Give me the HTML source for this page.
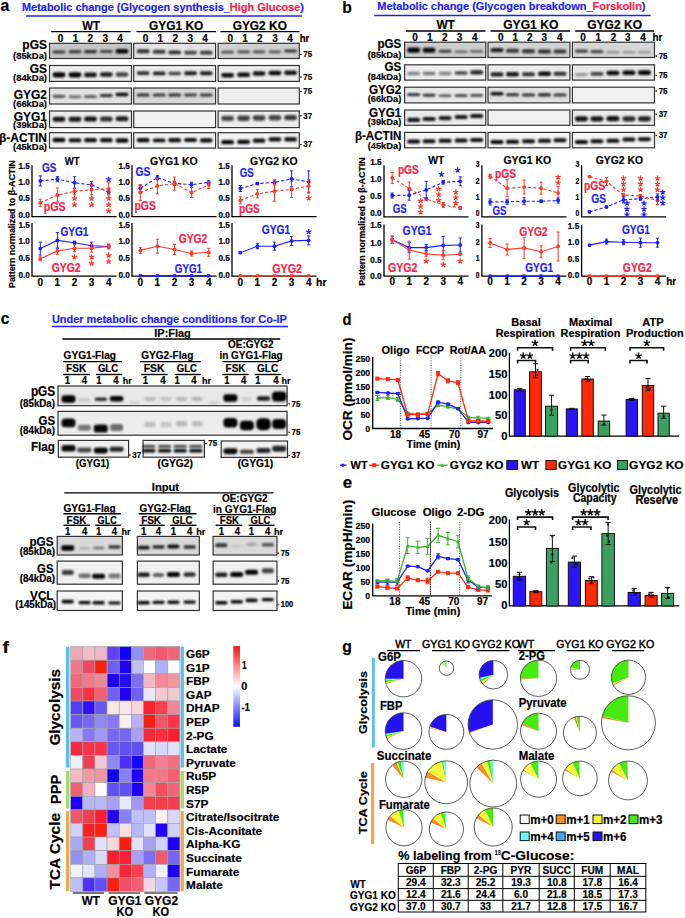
<!DOCTYPE html>
<html><head><meta charset="utf-8"><style>
html,body{margin:0;padding:0;background:#fff;}
svg{display:block;font-family:"Liberation Sans",sans-serif;font-weight:bold;}
text{stroke-width:0.2px;}
</style></head><body>
<svg width="685" height="918" viewBox="0 0 685 918">
<defs>
<filter id="bl" x="-30%" y="-80%" width="160%" height="260%"><feGaussianBlur stdDeviation="0.8"/></filter>
<filter id="bl2" x="-30%" y="-80%" width="160%" height="260%"><feGaussianBlur stdDeviation="1.0"/></filter>
</defs>
<rect width="685" height="918" fill="#fff"/>
<text x="0.60" y="10.80" font-size="16.51" textLength="8.80" lengthAdjust="spacingAndGlyphs" stroke="#000">a</text>
<text x="22" y="11.2" font-size="11.7" textLength="282" lengthAdjust="spacingAndGlyphs" fill="#1f1ff5" stroke="#1f1ff5">Metabolic change (Glycogen synthesis_<tspan fill="#f8234a" stroke="#f8234a">High Glucose</tspan>)</text>
<line x1="26.00" y1="16.10" x2="302.00" y2="16.10" stroke="#1f1ff5" stroke-width="1.5"/>
<text x="82.30" y="29.60" font-size="12.54" textLength="17.60" lengthAdjust="spacingAndGlyphs" stroke="#000">WT</text>
<text x="149.00" y="29.60" font-size="12.54" textLength="54.40" lengthAdjust="spacingAndGlyphs" stroke="#000">GYG1 KO</text>
<text x="232.70" y="29.60" font-size="12.54" textLength="54.20" lengthAdjust="spacingAndGlyphs" stroke="#000">GYG2 KO</text>
<line x1="51.20" y1="31.70" x2="130.70" y2="31.70" stroke="#000" stroke-width="1.3"/>
<line x1="136.40" y1="31.70" x2="216.00" y2="31.70" stroke="#000" stroke-width="1.3"/>
<line x1="220.40" y1="31.70" x2="299.50" y2="31.70" stroke="#000" stroke-width="1.3"/>
<text x="60.60" y="42.20" font-size="10.45" text-anchor="middle" textLength="5.56" lengthAdjust="spacingAndGlyphs" stroke="#000">0</text>
<text x="75.50" y="42.20" font-size="10.45" text-anchor="middle" textLength="5.56" lengthAdjust="spacingAndGlyphs" stroke="#000">1</text>
<text x="90.40" y="42.20" font-size="10.45" text-anchor="middle" textLength="5.56" lengthAdjust="spacingAndGlyphs" stroke="#000">2</text>
<text x="105.30" y="42.20" font-size="10.45" text-anchor="middle" textLength="5.56" lengthAdjust="spacingAndGlyphs" stroke="#000">3</text>
<text x="120.10" y="42.20" font-size="10.45" text-anchor="middle" textLength="5.56" lengthAdjust="spacingAndGlyphs" stroke="#000">4</text>
<text x="145.50" y="42.20" font-size="10.45" text-anchor="middle" textLength="5.56" lengthAdjust="spacingAndGlyphs" stroke="#000">0</text>
<text x="160.40" y="42.20" font-size="10.45" text-anchor="middle" textLength="5.56" lengthAdjust="spacingAndGlyphs" stroke="#000">1</text>
<text x="175.30" y="42.20" font-size="10.45" text-anchor="middle" textLength="5.56" lengthAdjust="spacingAndGlyphs" stroke="#000">2</text>
<text x="190.20" y="42.20" font-size="10.45" text-anchor="middle" textLength="5.56" lengthAdjust="spacingAndGlyphs" stroke="#000">3</text>
<text x="205.10" y="42.20" font-size="10.45" text-anchor="middle" textLength="5.56" lengthAdjust="spacingAndGlyphs" stroke="#000">4</text>
<text x="230.20" y="42.20" font-size="10.45" text-anchor="middle" textLength="5.56" lengthAdjust="spacingAndGlyphs" stroke="#000">0</text>
<text x="245.00" y="42.20" font-size="10.45" text-anchor="middle" textLength="5.56" lengthAdjust="spacingAndGlyphs" stroke="#000">1</text>
<text x="259.90" y="42.20" font-size="10.45" text-anchor="middle" textLength="5.56" lengthAdjust="spacingAndGlyphs" stroke="#000">2</text>
<text x="275.00" y="42.20" font-size="10.45" text-anchor="middle" textLength="5.56" lengthAdjust="spacingAndGlyphs" stroke="#000">3</text>
<text x="290.00" y="42.20" font-size="10.45" text-anchor="middle" textLength="5.56" lengthAdjust="spacingAndGlyphs" stroke="#000">4</text>
<text x="299.70" y="42.20" font-size="10.45" textLength="9.60" lengthAdjust="spacingAndGlyphs" stroke="#000">hr</text>
<text x="47.00" y="49.20" font-size="12.54" text-anchor="end" textLength="24.67" lengthAdjust="spacingAndGlyphs" stroke="#000">pGS</text>
<text x="47.00" y="58.60" font-size="9.82" text-anchor="end" textLength="33.96" lengthAdjust="spacingAndGlyphs" stroke="#000">(85kDa)</text>
<text x="47.00" y="72.80" font-size="12.54" text-anchor="end" textLength="17.34" lengthAdjust="spacingAndGlyphs" stroke="#000">GS</text>
<text x="47.00" y="81.20" font-size="9.82" text-anchor="end" textLength="33.96" lengthAdjust="spacingAndGlyphs" stroke="#000">(84kDa)</text>
<text x="47.00" y="99.40" font-size="12.54" text-anchor="end" textLength="33.35" lengthAdjust="spacingAndGlyphs" stroke="#000">GYG2</text>
<text x="47.00" y="106.80" font-size="9.82" text-anchor="end" textLength="33.96" lengthAdjust="spacingAndGlyphs" stroke="#000">(66kDa)</text>
<text x="47.00" y="120.90" font-size="12.54" text-anchor="end" textLength="33.35" lengthAdjust="spacingAndGlyphs" stroke="#000">GYG1</text>
<text x="47.00" y="128.40" font-size="9.82" text-anchor="end" textLength="33.96" lengthAdjust="spacingAndGlyphs" stroke="#000">(39kDa)</text>
<text x="47.00" y="142.30" font-size="12.54" text-anchor="end" textLength="47.98" lengthAdjust="spacingAndGlyphs" stroke="#000">β-ACTIN</text>
<text x="47.00" y="149.80" font-size="9.82" text-anchor="end" textLength="33.96" lengthAdjust="spacingAndGlyphs" stroke="#000">(45kDa)</text>
<rect x="49.50" y="43.30" width="82.00" height="15.20" fill="#c6c6c6" stroke="#333" stroke-width="1.2"/>
<rect x="52.70" y="50.49" width="12.60" height="3.02" rx="1.21" fill="#000" fill-opacity="0.72" filter="url(#bl)"/>
<rect x="68.70" y="50.29" width="12.60" height="3.02" rx="1.21" fill="#000" fill-opacity="0.75" filter="url(#bl)"/>
<rect x="84.20" y="49.98" width="12.60" height="3.24" rx="1.30" fill="#000" fill-opacity="0.78" filter="url(#bl)"/>
<rect x="100.00" y="50.09" width="12.60" height="3.02" rx="1.21" fill="#000" fill-opacity="0.68" filter="url(#bl)"/>
<rect x="115.70" y="48.93" width="12.60" height="4.54" rx="1.81" fill="#000" fill-opacity="0.97" filter="url(#bl)"/>
<rect x="133.70" y="43.30" width="81.90" height="15.20" fill="#e4e4e4" stroke="#333" stroke-width="1.2"/>
<rect x="136.90" y="49.36" width="12.60" height="3.89" rx="1.56" fill="#000" fill-opacity="0.80" filter="url(#bl)"/>
<rect x="152.90" y="49.86" width="12.60" height="3.89" rx="1.56" fill="#000" fill-opacity="0.75" filter="url(#bl)"/>
<rect x="168.40" y="50.46" width="12.60" height="3.89" rx="1.56" fill="#000" fill-opacity="0.80" filter="url(#bl)"/>
<rect x="184.20" y="50.76" width="12.60" height="3.67" rx="1.47" fill="#000" fill-opacity="0.70" filter="url(#bl)"/>
<rect x="199.90" y="50.66" width="12.60" height="3.89" rx="1.56" fill="#000" fill-opacity="0.75" filter="url(#bl)"/>
<rect x="218.10" y="43.30" width="81.20" height="15.20" fill="#d0d0d0" stroke="#333" stroke-width="1.2"/>
<rect x="221.30" y="50.80" width="12.60" height="2.81" rx="1.12" fill="#000" fill-opacity="0.62" filter="url(#bl)"/>
<rect x="237.30" y="50.40" width="12.60" height="2.81" rx="1.12" fill="#000" fill-opacity="0.66" filter="url(#bl)"/>
<rect x="252.80" y="50.40" width="12.60" height="2.81" rx="1.12" fill="#000" fill-opacity="0.66" filter="url(#bl)"/>
<rect x="268.60" y="50.40" width="12.60" height="2.81" rx="1.12" fill="#000" fill-opacity="0.60" filter="url(#bl)"/>
<rect x="284.30" y="49.39" width="12.60" height="3.02" rx="1.21" fill="#000" fill-opacity="0.75" filter="url(#bl)"/>
<rect x="49.50" y="65.50" width="82.00" height="15.90" fill="#ececec" stroke="#333" stroke-width="1.2"/>
<rect x="52.70" y="72.21" width="12.60" height="5.18" rx="2.07" fill="#000" fill-opacity="0.98" filter="url(#bl)"/>
<rect x="68.70" y="72.21" width="12.60" height="5.18" rx="2.07" fill="#000" fill-opacity="0.98" filter="url(#bl)"/>
<rect x="84.20" y="72.42" width="12.60" height="4.75" rx="1.90" fill="#000" fill-opacity="0.90" filter="url(#bl)"/>
<rect x="100.00" y="72.33" width="12.60" height="4.54" rx="1.81" fill="#000" fill-opacity="0.88" filter="url(#bl)"/>
<rect x="115.70" y="72.13" width="12.60" height="4.54" rx="1.81" fill="#000" fill-opacity="0.72" filter="url(#bl)"/>
<rect x="133.70" y="65.50" width="81.90" height="15.90" fill="#ececec" stroke="#333" stroke-width="1.2"/>
<rect x="136.90" y="71.36" width="12.60" height="3.67" rx="1.47" fill="#000" fill-opacity="0.80" filter="url(#bl)"/>
<rect x="152.90" y="71.46" width="12.60" height="3.89" rx="1.56" fill="#000" fill-opacity="0.85" filter="url(#bl)"/>
<rect x="168.40" y="71.67" width="12.60" height="3.46" rx="1.38" fill="#000" fill-opacity="0.72" filter="url(#bl)"/>
<rect x="184.20" y="71.26" width="12.60" height="3.89" rx="1.56" fill="#000" fill-opacity="0.88" filter="url(#bl)"/>
<rect x="199.90" y="71.26" width="12.60" height="3.89" rx="1.56" fill="#000" fill-opacity="0.88" filter="url(#bl)"/>
<rect x="218.10" y="65.50" width="81.20" height="15.90" fill="#ececec" stroke="#333" stroke-width="1.2"/>
<rect x="221.30" y="73.03" width="12.60" height="4.54" rx="1.81" fill="#000" fill-opacity="0.95" filter="url(#bl)"/>
<rect x="237.30" y="72.53" width="12.60" height="4.54" rx="1.81" fill="#000" fill-opacity="0.95" filter="url(#bl)"/>
<rect x="252.80" y="71.13" width="12.60" height="4.54" rx="1.81" fill="#000" fill-opacity="0.92" filter="url(#bl)"/>
<rect x="268.60" y="70.73" width="12.60" height="4.54" rx="1.81" fill="#000" fill-opacity="0.95" filter="url(#bl)"/>
<rect x="284.30" y="70.53" width="12.60" height="4.54" rx="1.81" fill="#000" fill-opacity="0.92" filter="url(#bl)"/>
<rect x="49.50" y="88.00" width="82.00" height="16.00" fill="#e2e2e2" stroke="#333" stroke-width="1.2"/>
<rect x="52.70" y="94.90" width="12.60" height="2.81" rx="1.12" fill="#000" fill-opacity="0.70" filter="url(#bl)"/>
<rect x="68.70" y="95.40" width="12.60" height="2.81" rx="1.12" fill="#000" fill-opacity="0.55" filter="url(#bl)"/>
<rect x="84.20" y="95.20" width="12.60" height="2.81" rx="1.12" fill="#000" fill-opacity="0.65" filter="url(#bl)"/>
<rect x="100.00" y="94.09" width="12.60" height="3.02" rx="1.21" fill="#000" fill-opacity="0.80" filter="url(#bl)"/>
<rect x="115.70" y="92.87" width="12.60" height="3.46" rx="1.38" fill="#000" fill-opacity="0.95" filter="url(#bl)"/>
<rect x="133.70" y="88.00" width="81.90" height="16.00" fill="#d8d8d8" stroke="#333" stroke-width="1.2"/>
<rect x="136.90" y="93.39" width="12.60" height="3.02" rx="1.21" fill="#000" fill-opacity="0.80" filter="url(#bl)"/>
<rect x="152.90" y="93.59" width="12.60" height="3.02" rx="1.21" fill="#000" fill-opacity="0.75" filter="url(#bl)"/>
<rect x="168.40" y="93.39" width="12.60" height="3.02" rx="1.21" fill="#000" fill-opacity="0.80" filter="url(#bl)"/>
<rect x="184.20" y="93.59" width="12.60" height="3.02" rx="1.21" fill="#000" fill-opacity="0.72" filter="url(#bl)"/>
<rect x="199.90" y="93.59" width="12.60" height="3.02" rx="1.21" fill="#000" fill-opacity="0.75" filter="url(#bl)"/>
<rect x="218.10" y="88.00" width="81.20" height="16.00" fill="#f0f0f0" stroke="#333" stroke-width="1.2"/>
<rect x="49.50" y="111.00" width="82.00" height="16.60" fill="#ececec" stroke="#333" stroke-width="1.2"/>
<rect x="52.70" y="116.72" width="12.60" height="4.97" rx="1.99" fill="#000" fill-opacity="0.92" filter="url(#bl)"/>
<rect x="68.70" y="116.72" width="12.60" height="4.97" rx="1.99" fill="#000" fill-opacity="0.90" filter="url(#bl)"/>
<rect x="84.20" y="116.52" width="12.60" height="4.97" rx="1.99" fill="#000" fill-opacity="0.92" filter="url(#bl)"/>
<rect x="100.00" y="116.52" width="12.60" height="4.97" rx="1.99" fill="#000" fill-opacity="0.80" filter="url(#bl)"/>
<rect x="115.70" y="116.32" width="12.60" height="4.97" rx="1.99" fill="#000" fill-opacity="0.88" filter="url(#bl)"/>
<rect x="133.70" y="111.00" width="81.90" height="16.60" fill="#f2f2f2" stroke="#333" stroke-width="1.2"/>
<rect x="218.10" y="111.00" width="81.20" height="16.60" fill="#ececec" stroke="#333" stroke-width="1.2"/>
<rect x="221.30" y="115.70" width="12.60" height="5.40" rx="2.16" fill="#000" fill-opacity="0.70" filter="url(#bl)"/>
<rect x="237.30" y="115.50" width="12.60" height="5.40" rx="2.16" fill="#000" fill-opacity="0.72" filter="url(#bl)"/>
<rect x="252.80" y="115.30" width="12.60" height="5.40" rx="2.16" fill="#000" fill-opacity="0.72" filter="url(#bl)"/>
<rect x="268.60" y="115.10" width="12.60" height="5.40" rx="2.16" fill="#000" fill-opacity="0.70" filter="url(#bl)"/>
<rect x="284.30" y="114.90" width="12.60" height="5.40" rx="2.16" fill="#000" fill-opacity="0.75" filter="url(#bl)"/>
<rect x="49.50" y="132.70" width="82.00" height="15.40" fill="#f4f4f4" stroke="#333" stroke-width="1.2"/>
<rect x="52.70" y="137.84" width="12.60" height="4.32" rx="1.73" fill="#000" fill-opacity="0.97" filter="url(#bl)"/>
<rect x="68.70" y="138.36" width="12.60" height="3.89" rx="1.56" fill="#000" fill-opacity="0.95" filter="url(#bl)"/>
<rect x="84.20" y="138.04" width="12.60" height="4.32" rx="1.73" fill="#000" fill-opacity="0.95" filter="url(#bl)"/>
<rect x="100.00" y="138.04" width="12.60" height="4.32" rx="1.73" fill="#000" fill-opacity="0.95" filter="url(#bl)"/>
<rect x="115.70" y="138.34" width="12.60" height="4.32" rx="1.73" fill="#000" fill-opacity="0.97" filter="url(#bl)"/>
<rect x="133.70" y="132.70" width="81.90" height="15.40" fill="#f4f4f4" stroke="#333" stroke-width="1.2"/>
<rect x="136.90" y="138.04" width="12.60" height="4.32" rx="1.73" fill="#000" fill-opacity="0.97" filter="url(#bl)"/>
<rect x="152.90" y="138.46" width="12.60" height="3.89" rx="1.56" fill="#000" fill-opacity="0.95" filter="url(#bl)"/>
<rect x="168.40" y="138.04" width="12.60" height="4.32" rx="1.73" fill="#000" fill-opacity="0.95" filter="url(#bl)"/>
<rect x="184.20" y="137.95" width="12.60" height="4.10" rx="1.64" fill="#000" fill-opacity="0.95" filter="url(#bl)"/>
<rect x="199.90" y="138.24" width="12.60" height="4.32" rx="1.73" fill="#000" fill-opacity="0.95" filter="url(#bl)"/>
<rect x="218.10" y="132.70" width="81.20" height="15.40" fill="#f4f4f4" stroke="#333" stroke-width="1.2"/>
<rect x="221.30" y="140.04" width="12.60" height="4.32" rx="1.73" fill="#000" fill-opacity="0.97" filter="url(#bl)"/>
<rect x="237.30" y="139.64" width="12.60" height="4.32" rx="1.73" fill="#000" fill-opacity="0.97" filter="url(#bl)"/>
<rect x="252.80" y="138.44" width="12.60" height="4.32" rx="1.73" fill="#000" fill-opacity="0.95" filter="url(#bl)"/>
<rect x="268.60" y="137.24" width="12.60" height="4.32" rx="1.73" fill="#000" fill-opacity="0.95" filter="url(#bl)"/>
<rect x="284.30" y="137.35" width="12.60" height="4.10" rx="1.64" fill="#000" fill-opacity="0.95" filter="url(#bl)"/>
<rect x="300.20" y="53.80" width="1.4" height="1.3" fill="#000"/>
<text x="303.30" y="57.29" font-size="8.15" textLength="8.80" lengthAdjust="spacingAndGlyphs" stroke="#000">75</text>
<rect x="300.20" y="76.40" width="1.4" height="1.3" fill="#000"/>
<text x="303.30" y="79.89" font-size="8.15" textLength="8.80" lengthAdjust="spacingAndGlyphs" stroke="#000">75</text>
<rect x="300.20" y="90.80" width="1.4" height="1.3" fill="#000"/>
<text x="303.30" y="94.29" font-size="8.15" textLength="8.80" lengthAdjust="spacingAndGlyphs" stroke="#000">75</text>
<rect x="300.20" y="115.20" width="1.4" height="1.3" fill="#000"/>
<text x="303.30" y="118.69" font-size="8.15" textLength="8.80" lengthAdjust="spacingAndGlyphs" stroke="#000">37</text>
<rect x="300.20" y="144.00" width="1.4" height="1.3" fill="#000"/>
<text x="303.30" y="147.49" font-size="8.15" textLength="8.80" lengthAdjust="spacingAndGlyphs" stroke="#000">37</text>
<text stroke="#000" transform="translate(14.6,288) rotate(-90)" font-size="9" textLength="128" lengthAdjust="spacingAndGlyphs">Pattern normalized to β-ACTIN</text>
<text x="64.80" y="165.00" font-size="11.49" textLength="14.90" lengthAdjust="spacingAndGlyphs" stroke="#000">WT</text>
<text x="150.00" y="165.00" font-size="11.49" textLength="47.60" lengthAdjust="spacingAndGlyphs" stroke="#000">GYG1 KO</text>
<text x="250.00" y="165.00" font-size="11.49" textLength="47.60" lengthAdjust="spacingAndGlyphs" stroke="#000">GYG2 KO</text>
<line x1="32.00" y1="165.20" x2="32.00" y2="216.60" stroke="#000" stroke-width="1.3"/>
<line x1="31.40" y1="216.60" x2="116.50" y2="216.60" stroke="#000" stroke-width="1.3"/>
<text x="29.80" y="168.90" font-size="8.57" text-anchor="end" textLength="11.40" lengthAdjust="spacingAndGlyphs" stroke="#000">1.5</text>
<text x="29.80" y="185.00" font-size="8.57" text-anchor="end" textLength="11.40" lengthAdjust="spacingAndGlyphs" stroke="#000">1.0</text>
<text x="29.80" y="201.40" font-size="8.57" text-anchor="end" textLength="11.40" lengthAdjust="spacingAndGlyphs" stroke="#000">0.5</text>
<text x="29.80" y="218.00" font-size="8.57" text-anchor="end" textLength="11.40" lengthAdjust="spacingAndGlyphs" stroke="#000">0.0</text>
<line x1="132.00" y1="165.20" x2="132.00" y2="216.60" stroke="#000" stroke-width="1.3"/>
<line x1="131.40" y1="216.60" x2="216.50" y2="216.60" stroke="#000" stroke-width="1.3"/>
<text x="129.80" y="168.90" font-size="8.57" text-anchor="end" textLength="11.40" lengthAdjust="spacingAndGlyphs" stroke="#000">1.5</text>
<text x="129.80" y="185.00" font-size="8.57" text-anchor="end" textLength="11.40" lengthAdjust="spacingAndGlyphs" stroke="#000">1.0</text>
<text x="129.80" y="201.40" font-size="8.57" text-anchor="end" textLength="11.40" lengthAdjust="spacingAndGlyphs" stroke="#000">0.5</text>
<text x="129.80" y="218.00" font-size="8.57" text-anchor="end" textLength="11.40" lengthAdjust="spacingAndGlyphs" stroke="#000">0.0</text>
<line x1="232.00" y1="165.20" x2="232.00" y2="216.60" stroke="#000" stroke-width="1.3"/>
<line x1="231.40" y1="216.60" x2="316.50" y2="216.60" stroke="#000" stroke-width="1.3"/>
<text x="229.80" y="168.90" font-size="8.57" text-anchor="end" textLength="11.40" lengthAdjust="spacingAndGlyphs" stroke="#000">1.5</text>
<text x="229.80" y="185.00" font-size="8.57" text-anchor="end" textLength="11.40" lengthAdjust="spacingAndGlyphs" stroke="#000">1.0</text>
<text x="229.80" y="201.40" font-size="8.57" text-anchor="end" textLength="11.40" lengthAdjust="spacingAndGlyphs" stroke="#000">0.5</text>
<text x="229.80" y="218.00" font-size="8.57" text-anchor="end" textLength="11.40" lengthAdjust="spacingAndGlyphs" stroke="#000">0.0</text>
<line x1="32.00" y1="223.00" x2="32.00" y2="276.20" stroke="#000" stroke-width="1.3"/>
<line x1="31.40" y1="276.20" x2="116.50" y2="276.20" stroke="#000" stroke-width="1.3"/>
<text x="29.80" y="227.60" font-size="8.57" text-anchor="end" textLength="11.40" lengthAdjust="spacingAndGlyphs" stroke="#000">1.5</text>
<text x="29.80" y="244.40" font-size="8.57" text-anchor="end" textLength="11.40" lengthAdjust="spacingAndGlyphs" stroke="#000">1.0</text>
<text x="29.80" y="261.10" font-size="8.57" text-anchor="end" textLength="11.40" lengthAdjust="spacingAndGlyphs" stroke="#000">0.5</text>
<text x="29.80" y="277.80" font-size="8.57" text-anchor="end" textLength="11.40" lengthAdjust="spacingAndGlyphs" stroke="#000">0.0</text>
<line x1="132.00" y1="223.00" x2="132.00" y2="276.20" stroke="#000" stroke-width="1.3"/>
<line x1="131.40" y1="276.20" x2="216.50" y2="276.20" stroke="#000" stroke-width="1.3"/>
<text x="129.80" y="227.60" font-size="8.57" text-anchor="end" textLength="11.40" lengthAdjust="spacingAndGlyphs" stroke="#000">1.5</text>
<text x="129.80" y="244.40" font-size="8.57" text-anchor="end" textLength="11.40" lengthAdjust="spacingAndGlyphs" stroke="#000">1.0</text>
<text x="129.80" y="261.10" font-size="8.57" text-anchor="end" textLength="11.40" lengthAdjust="spacingAndGlyphs" stroke="#000">0.5</text>
<text x="129.80" y="277.80" font-size="8.57" text-anchor="end" textLength="11.40" lengthAdjust="spacingAndGlyphs" stroke="#000">0.0</text>
<line x1="232.00" y1="223.00" x2="232.00" y2="276.20" stroke="#000" stroke-width="1.3"/>
<line x1="231.40" y1="276.20" x2="316.50" y2="276.20" stroke="#000" stroke-width="1.3"/>
<text x="229.80" y="227.60" font-size="8.57" text-anchor="end" textLength="11.40" lengthAdjust="spacingAndGlyphs" stroke="#000">1.5</text>
<text x="229.80" y="244.40" font-size="8.57" text-anchor="end" textLength="11.40" lengthAdjust="spacingAndGlyphs" stroke="#000">1.0</text>
<text x="229.80" y="261.10" font-size="8.57" text-anchor="end" textLength="11.40" lengthAdjust="spacingAndGlyphs" stroke="#000">0.5</text>
<text x="229.80" y="277.80" font-size="8.57" text-anchor="end" textLength="11.40" lengthAdjust="spacingAndGlyphs" stroke="#000">0.0</text>
<polyline points="40.30,180.90 57.40,179.20 74.50,182.70 91.60,185.00 108.70,192.00" fill="none" stroke="#1e1eff" stroke-width="1.1" stroke-dasharray="3.2,2"/>
<line x1="40.30" y1="175.90" x2="40.30" y2="185.90" stroke="#1e1eff" stroke-width="1.0"/>
<line x1="38.70" y1="175.90" x2="41.90" y2="175.90" stroke="#1e1eff" stroke-width="1.0"/>
<line x1="38.70" y1="185.90" x2="41.90" y2="185.90" stroke="#1e1eff" stroke-width="1.0"/>
<line x1="57.40" y1="176.70" x2="57.40" y2="181.70" stroke="#1e1eff" stroke-width="1.0"/>
<line x1="55.80" y1="176.70" x2="59.00" y2="176.70" stroke="#1e1eff" stroke-width="1.0"/>
<line x1="55.80" y1="181.70" x2="59.00" y2="181.70" stroke="#1e1eff" stroke-width="1.0"/>
<line x1="74.50" y1="176.70" x2="74.50" y2="188.70" stroke="#1e1eff" stroke-width="1.0"/>
<line x1="72.90" y1="176.70" x2="76.10" y2="176.70" stroke="#1e1eff" stroke-width="1.0"/>
<line x1="72.90" y1="188.70" x2="76.10" y2="188.70" stroke="#1e1eff" stroke-width="1.0"/>
<line x1="91.60" y1="181.50" x2="91.60" y2="188.50" stroke="#1e1eff" stroke-width="1.0"/>
<line x1="90.00" y1="181.50" x2="93.20" y2="181.50" stroke="#1e1eff" stroke-width="1.0"/>
<line x1="90.00" y1="188.50" x2="93.20" y2="188.50" stroke="#1e1eff" stroke-width="1.0"/>
<line x1="108.70" y1="190.00" x2="108.70" y2="194.00" stroke="#1e1eff" stroke-width="1.0"/>
<line x1="107.10" y1="190.00" x2="110.30" y2="190.00" stroke="#1e1eff" stroke-width="1.0"/>
<line x1="107.10" y1="194.00" x2="110.30" y2="194.00" stroke="#1e1eff" stroke-width="1.0"/>
<circle cx="40.30" cy="180.90" r="1.90" fill="#1e1eff"/>
<circle cx="57.40" cy="179.20" r="1.90" fill="#1e1eff"/>
<circle cx="74.50" cy="182.70" r="1.90" fill="#1e1eff"/>
<circle cx="91.60" cy="185.00" r="1.90" fill="#1e1eff"/>
<circle cx="108.70" cy="192.00" r="1.90" fill="#1e1eff"/>
<polyline points="40.30,202.80 57.40,195.00 74.50,191.40 91.60,189.70 108.70,188.80" fill="none" stroke="#ff3a2a" stroke-width="1.1" stroke-dasharray="3.2,2"/>
<line x1="40.30" y1="199.30" x2="40.30" y2="206.30" stroke="#ff3a2a" stroke-width="1.0"/>
<line x1="38.70" y1="199.30" x2="41.90" y2="199.30" stroke="#ff3a2a" stroke-width="1.0"/>
<line x1="38.70" y1="206.30" x2="41.90" y2="206.30" stroke="#ff3a2a" stroke-width="1.0"/>
<line x1="57.40" y1="188.00" x2="57.40" y2="202.00" stroke="#ff3a2a" stroke-width="1.0"/>
<line x1="55.80" y1="188.00" x2="59.00" y2="188.00" stroke="#ff3a2a" stroke-width="1.0"/>
<line x1="55.80" y1="202.00" x2="59.00" y2="202.00" stroke="#ff3a2a" stroke-width="1.0"/>
<line x1="74.50" y1="187.90" x2="74.50" y2="194.90" stroke="#ff3a2a" stroke-width="1.0"/>
<line x1="72.90" y1="187.90" x2="76.10" y2="187.90" stroke="#ff3a2a" stroke-width="1.0"/>
<line x1="72.90" y1="194.90" x2="76.10" y2="194.90" stroke="#ff3a2a" stroke-width="1.0"/>
<line x1="91.60" y1="184.70" x2="91.60" y2="194.70" stroke="#ff3a2a" stroke-width="1.0"/>
<line x1="90.00" y1="184.70" x2="93.20" y2="184.70" stroke="#ff3a2a" stroke-width="1.0"/>
<line x1="90.00" y1="194.70" x2="93.20" y2="194.70" stroke="#ff3a2a" stroke-width="1.0"/>
<line x1="108.70" y1="182.80" x2="108.70" y2="194.80" stroke="#ff3a2a" stroke-width="1.0"/>
<line x1="107.10" y1="182.80" x2="110.30" y2="182.80" stroke="#ff3a2a" stroke-width="1.0"/>
<line x1="107.10" y1="194.80" x2="110.30" y2="194.80" stroke="#ff3a2a" stroke-width="1.0"/>
<circle cx="40.30" cy="202.80" r="1.90" fill="#ff3a2a"/>
<circle cx="57.40" cy="195.00" r="1.90" fill="#ff3a2a"/>
<circle cx="74.50" cy="191.40" r="1.90" fill="#ff3a2a"/>
<circle cx="91.60" cy="189.70" r="1.90" fill="#ff3a2a"/>
<circle cx="108.70" cy="188.80" r="1.90" fill="#ff3a2a"/>
<text x="42.00" y="172.00" font-size="12.02" textLength="14.40" lengthAdjust="spacingAndGlyphs" fill="#1f1ff5" stroke="#1f1ff5">GS</text>
<text x="43.80" y="210.50" font-size="12.02" textLength="21.90" lengthAdjust="spacingAndGlyphs" fill="#f8234a" stroke="#f8234a">pGS</text>
<path d="M74.50,198.40L74.50,195.58M74.50,198.40L77.18,197.53M74.50,198.40L76.16,200.68M74.50,198.40L72.84,200.68M74.50,198.40L71.82,197.53" stroke="#ff3a2a" stroke-width="1.26" stroke-linecap="butt" fill="none"/>
<path d="M74.50,204.60L74.50,201.78M74.50,204.60L77.18,203.73M74.50,204.60L76.16,206.88M74.50,204.60L72.84,206.88M74.50,204.60L71.82,203.73" stroke="#ff3a2a" stroke-width="1.26" stroke-linecap="butt" fill="none"/>
<path d="M91.60,198.40L91.60,195.58M91.60,198.40L94.28,197.53M91.60,198.40L93.26,200.68M91.60,198.40L89.94,200.68M91.60,198.40L88.92,197.53" stroke="#ff3a2a" stroke-width="1.26" stroke-linecap="butt" fill="none"/>
<path d="M91.60,204.60L91.60,201.78M91.60,204.60L94.28,203.73M91.60,204.60L93.26,206.88M91.60,204.60L89.94,206.88M91.60,204.60L88.92,203.73" stroke="#ff3a2a" stroke-width="1.26" stroke-linecap="butt" fill="none"/>
<path d="M108.70,198.40L108.70,195.58M108.70,198.40L111.38,197.53M108.70,198.40L110.36,200.68M108.70,198.40L107.04,200.68M108.70,198.40L106.02,197.53" stroke="#ff3a2a" stroke-width="1.26" stroke-linecap="butt" fill="none"/>
<path d="M108.70,204.60L108.70,201.78M108.70,204.60L111.38,203.73M108.70,204.60L110.36,206.88M108.70,204.60L107.04,206.88M108.70,204.60L106.02,203.73" stroke="#ff3a2a" stroke-width="1.26" stroke-linecap="butt" fill="none"/>
<path d="M108.70,210.80L108.70,207.98M108.70,210.80L111.38,209.93M108.70,210.80L110.36,213.08M108.70,210.80L107.04,213.08M108.70,210.80L106.02,209.93" stroke="#ff3a2a" stroke-width="1.26" stroke-linecap="butt" fill="none"/>
<path d="M108.70,179.50L108.70,176.68M108.70,179.50L111.38,178.63M108.70,179.50L110.36,181.78M108.70,179.50L107.04,181.78M108.70,179.50L106.02,178.63" stroke="#1e1eff" stroke-width="1.26" stroke-linecap="butt" fill="none"/>
<polyline points="140.30,188.20 157.40,177.70 174.50,183.30 191.60,184.70 208.70,182.40" fill="none" stroke="#1e1eff" stroke-width="1.1" stroke-dasharray="3.2,2"/>
<line x1="140.30" y1="185.20" x2="140.30" y2="191.20" stroke="#1e1eff" stroke-width="1.0"/>
<line x1="138.70" y1="185.20" x2="141.90" y2="185.20" stroke="#1e1eff" stroke-width="1.0"/>
<line x1="138.70" y1="191.20" x2="141.90" y2="191.20" stroke="#1e1eff" stroke-width="1.0"/>
<line x1="157.40" y1="175.70" x2="157.40" y2="179.70" stroke="#1e1eff" stroke-width="1.0"/>
<line x1="155.80" y1="175.70" x2="159.00" y2="175.70" stroke="#1e1eff" stroke-width="1.0"/>
<line x1="155.80" y1="179.70" x2="159.00" y2="179.70" stroke="#1e1eff" stroke-width="1.0"/>
<line x1="174.50" y1="181.30" x2="174.50" y2="185.30" stroke="#1e1eff" stroke-width="1.0"/>
<line x1="172.90" y1="181.30" x2="176.10" y2="181.30" stroke="#1e1eff" stroke-width="1.0"/>
<line x1="172.90" y1="185.30" x2="176.10" y2="185.30" stroke="#1e1eff" stroke-width="1.0"/>
<line x1="191.60" y1="182.20" x2="191.60" y2="187.20" stroke="#1e1eff" stroke-width="1.0"/>
<line x1="190.00" y1="182.20" x2="193.20" y2="182.20" stroke="#1e1eff" stroke-width="1.0"/>
<line x1="190.00" y1="187.20" x2="193.20" y2="187.20" stroke="#1e1eff" stroke-width="1.0"/>
<line x1="208.70" y1="180.90" x2="208.70" y2="183.90" stroke="#1e1eff" stroke-width="1.0"/>
<line x1="207.10" y1="180.90" x2="210.30" y2="180.90" stroke="#1e1eff" stroke-width="1.0"/>
<line x1="207.10" y1="183.90" x2="210.30" y2="183.90" stroke="#1e1eff" stroke-width="1.0"/>
<circle cx="140.30" cy="188.20" r="1.90" fill="#1e1eff"/>
<circle cx="157.40" cy="177.70" r="1.90" fill="#1e1eff"/>
<circle cx="174.50" cy="183.30" r="1.90" fill="#1e1eff"/>
<circle cx="191.60" cy="184.70" r="1.90" fill="#1e1eff"/>
<circle cx="208.70" cy="182.40" r="1.90" fill="#1e1eff"/>
<polyline points="140.30,192.60 157.40,185.90 174.50,183.60 191.60,192.60 208.70,185.00" fill="none" stroke="#ff3a2a" stroke-width="1.1" stroke-dasharray="3.2,2"/>
<line x1="140.30" y1="184.60" x2="140.30" y2="200.60" stroke="#ff3a2a" stroke-width="1.0"/>
<line x1="138.70" y1="184.60" x2="141.90" y2="184.60" stroke="#ff3a2a" stroke-width="1.0"/>
<line x1="138.70" y1="200.60" x2="141.90" y2="200.60" stroke="#ff3a2a" stroke-width="1.0"/>
<line x1="157.40" y1="177.90" x2="157.40" y2="193.90" stroke="#ff3a2a" stroke-width="1.0"/>
<line x1="155.80" y1="177.90" x2="159.00" y2="177.90" stroke="#ff3a2a" stroke-width="1.0"/>
<line x1="155.80" y1="193.90" x2="159.00" y2="193.90" stroke="#ff3a2a" stroke-width="1.0"/>
<line x1="174.50" y1="177.10" x2="174.50" y2="190.10" stroke="#ff3a2a" stroke-width="1.0"/>
<line x1="172.90" y1="177.10" x2="176.10" y2="177.10" stroke="#ff3a2a" stroke-width="1.0"/>
<line x1="172.90" y1="190.10" x2="176.10" y2="190.10" stroke="#ff3a2a" stroke-width="1.0"/>
<line x1="191.60" y1="187.60" x2="191.60" y2="197.60" stroke="#ff3a2a" stroke-width="1.0"/>
<line x1="190.00" y1="187.60" x2="193.20" y2="187.60" stroke="#ff3a2a" stroke-width="1.0"/>
<line x1="190.00" y1="197.60" x2="193.20" y2="197.60" stroke="#ff3a2a" stroke-width="1.0"/>
<line x1="208.70" y1="181.50" x2="208.70" y2="188.50" stroke="#ff3a2a" stroke-width="1.0"/>
<line x1="207.10" y1="181.50" x2="210.30" y2="181.50" stroke="#ff3a2a" stroke-width="1.0"/>
<line x1="207.10" y1="188.50" x2="210.30" y2="188.50" stroke="#ff3a2a" stroke-width="1.0"/>
<circle cx="140.30" cy="192.60" r="1.90" fill="#ff3a2a"/>
<circle cx="157.40" cy="185.90" r="1.90" fill="#ff3a2a"/>
<circle cx="174.50" cy="183.60" r="1.90" fill="#ff3a2a"/>
<circle cx="191.60" cy="192.60" r="1.90" fill="#ff3a2a"/>
<circle cx="208.70" cy="185.00" r="1.90" fill="#ff3a2a"/>
<text x="135.40" y="176.30" font-size="12.02" textLength="14.90" lengthAdjust="spacingAndGlyphs" fill="#1f1ff5" stroke="#1f1ff5">GS</text>
<text x="134.50" y="209.80" font-size="12.02" textLength="21.40" lengthAdjust="spacingAndGlyphs" fill="#f8234a" stroke="#f8234a">pGS</text>
<polyline points="240.30,188.50 257.40,183.60 274.50,182.40 291.60,178.90 308.70,181.90" fill="none" stroke="#1e1eff" stroke-width="1.1" stroke-dasharray="3.2,2"/>
<line x1="240.30" y1="185.50" x2="240.30" y2="191.50" stroke="#1e1eff" stroke-width="1.0"/>
<line x1="238.70" y1="185.50" x2="241.90" y2="185.50" stroke="#1e1eff" stroke-width="1.0"/>
<line x1="238.70" y1="191.50" x2="241.90" y2="191.50" stroke="#1e1eff" stroke-width="1.0"/>
<line x1="257.40" y1="182.60" x2="257.40" y2="184.60" stroke="#1e1eff" stroke-width="1.0"/>
<line x1="255.80" y1="182.60" x2="259.00" y2="182.60" stroke="#1e1eff" stroke-width="1.0"/>
<line x1="255.80" y1="184.60" x2="259.00" y2="184.60" stroke="#1e1eff" stroke-width="1.0"/>
<line x1="274.50" y1="179.90" x2="274.50" y2="184.90" stroke="#1e1eff" stroke-width="1.0"/>
<line x1="272.90" y1="179.90" x2="276.10" y2="179.90" stroke="#1e1eff" stroke-width="1.0"/>
<line x1="272.90" y1="184.90" x2="276.10" y2="184.90" stroke="#1e1eff" stroke-width="1.0"/>
<line x1="291.60" y1="170.90" x2="291.60" y2="186.90" stroke="#1e1eff" stroke-width="1.0"/>
<line x1="290.00" y1="170.90" x2="293.20" y2="170.90" stroke="#1e1eff" stroke-width="1.0"/>
<line x1="290.00" y1="186.90" x2="293.20" y2="186.90" stroke="#1e1eff" stroke-width="1.0"/>
<line x1="308.70" y1="170.90" x2="308.70" y2="192.90" stroke="#1e1eff" stroke-width="1.0"/>
<line x1="307.10" y1="170.90" x2="310.30" y2="170.90" stroke="#1e1eff" stroke-width="1.0"/>
<line x1="307.10" y1="192.90" x2="310.30" y2="192.90" stroke="#1e1eff" stroke-width="1.0"/>
<circle cx="240.30" cy="188.50" r="1.90" fill="#1e1eff"/>
<circle cx="257.40" cy="183.60" r="1.90" fill="#1e1eff"/>
<circle cx="274.50" cy="182.40" r="1.90" fill="#1e1eff"/>
<circle cx="291.60" cy="178.90" r="1.90" fill="#1e1eff"/>
<circle cx="308.70" cy="181.90" r="1.90" fill="#1e1eff"/>
<polyline points="240.30,200.30 257.40,193.80 274.50,191.20 291.60,189.40 308.70,185.90" fill="none" stroke="#ff3a2a" stroke-width="1.1" stroke-dasharray="3.2,2"/>
<line x1="240.30" y1="196.80" x2="240.30" y2="203.80" stroke="#ff3a2a" stroke-width="1.0"/>
<line x1="238.70" y1="196.80" x2="241.90" y2="196.80" stroke="#ff3a2a" stroke-width="1.0"/>
<line x1="238.70" y1="203.80" x2="241.90" y2="203.80" stroke="#ff3a2a" stroke-width="1.0"/>
<line x1="257.40" y1="189.80" x2="257.40" y2="197.80" stroke="#ff3a2a" stroke-width="1.0"/>
<line x1="255.80" y1="189.80" x2="259.00" y2="189.80" stroke="#ff3a2a" stroke-width="1.0"/>
<line x1="255.80" y1="197.80" x2="259.00" y2="197.80" stroke="#ff3a2a" stroke-width="1.0"/>
<line x1="274.50" y1="181.20" x2="274.50" y2="201.20" stroke="#ff3a2a" stroke-width="1.0"/>
<line x1="272.90" y1="181.20" x2="276.10" y2="181.20" stroke="#ff3a2a" stroke-width="1.0"/>
<line x1="272.90" y1="201.20" x2="276.10" y2="201.20" stroke="#ff3a2a" stroke-width="1.0"/>
<line x1="291.60" y1="181.40" x2="291.60" y2="197.40" stroke="#ff3a2a" stroke-width="1.0"/>
<line x1="290.00" y1="181.40" x2="293.20" y2="181.40" stroke="#ff3a2a" stroke-width="1.0"/>
<line x1="290.00" y1="197.40" x2="293.20" y2="197.40" stroke="#ff3a2a" stroke-width="1.0"/>
<line x1="308.70" y1="179.40" x2="308.70" y2="192.40" stroke="#ff3a2a" stroke-width="1.0"/>
<line x1="307.10" y1="179.40" x2="310.30" y2="179.40" stroke="#ff3a2a" stroke-width="1.0"/>
<line x1="307.10" y1="192.40" x2="310.30" y2="192.40" stroke="#ff3a2a" stroke-width="1.0"/>
<circle cx="240.30" cy="200.30" r="1.90" fill="#ff3a2a"/>
<circle cx="257.40" cy="193.80" r="1.90" fill="#ff3a2a"/>
<circle cx="274.50" cy="191.20" r="1.90" fill="#ff3a2a"/>
<circle cx="291.60" cy="189.40" r="1.90" fill="#ff3a2a"/>
<circle cx="308.70" cy="185.90" r="1.90" fill="#ff3a2a"/>
<text x="239.80" y="176.60" font-size="12.02" textLength="14.00" lengthAdjust="spacingAndGlyphs" fill="#1f1ff5" stroke="#1f1ff5">GS</text>
<text x="238.90" y="213.00" font-size="12.02" textLength="21.00" lengthAdjust="spacingAndGlyphs" fill="#f8234a" stroke="#f8234a">pGS</text>
<path d="M308.70,198.00L308.70,195.18M308.70,198.00L311.38,197.13M308.70,198.00L310.36,200.28M308.70,198.00L307.04,200.28M308.70,198.00L306.02,197.13" stroke="#ff3a2a" stroke-width="1.26" stroke-linecap="butt" fill="none"/>
<polyline points="40.30,248.60 57.40,240.40 74.50,242.70 91.60,245.70 108.70,246.50" fill="none" stroke="#1e1eff" stroke-width="1.1"/>
<line x1="40.30" y1="242.10" x2="40.30" y2="255.10" stroke="#1e1eff" stroke-width="1.0"/>
<line x1="38.70" y1="242.10" x2="41.90" y2="242.10" stroke="#1e1eff" stroke-width="1.0"/>
<line x1="38.70" y1="255.10" x2="41.90" y2="255.10" stroke="#1e1eff" stroke-width="1.0"/>
<line x1="57.40" y1="232.40" x2="57.40" y2="248.40" stroke="#1e1eff" stroke-width="1.0"/>
<line x1="55.80" y1="232.40" x2="59.00" y2="232.40" stroke="#1e1eff" stroke-width="1.0"/>
<line x1="55.80" y1="248.40" x2="59.00" y2="248.40" stroke="#1e1eff" stroke-width="1.0"/>
<line x1="74.50" y1="241.20" x2="74.50" y2="244.20" stroke="#1e1eff" stroke-width="1.0"/>
<line x1="72.90" y1="241.20" x2="76.10" y2="241.20" stroke="#1e1eff" stroke-width="1.0"/>
<line x1="72.90" y1="244.20" x2="76.10" y2="244.20" stroke="#1e1eff" stroke-width="1.0"/>
<line x1="91.60" y1="242.20" x2="91.60" y2="249.20" stroke="#1e1eff" stroke-width="1.0"/>
<line x1="90.00" y1="242.20" x2="93.20" y2="242.20" stroke="#1e1eff" stroke-width="1.0"/>
<line x1="90.00" y1="249.20" x2="93.20" y2="249.20" stroke="#1e1eff" stroke-width="1.0"/>
<line x1="108.70" y1="245.00" x2="108.70" y2="248.00" stroke="#1e1eff" stroke-width="1.0"/>
<line x1="107.10" y1="245.00" x2="110.30" y2="245.00" stroke="#1e1eff" stroke-width="1.0"/>
<line x1="107.10" y1="248.00" x2="110.30" y2="248.00" stroke="#1e1eff" stroke-width="1.0"/>
<circle cx="40.30" cy="248.60" r="1.90" fill="#1e1eff"/>
<circle cx="57.40" cy="240.40" r="1.90" fill="#1e1eff"/>
<circle cx="74.50" cy="242.70" r="1.90" fill="#1e1eff"/>
<circle cx="91.60" cy="245.70" r="1.90" fill="#1e1eff"/>
<circle cx="108.70" cy="246.50" r="1.90" fill="#1e1eff"/>
<polyline points="40.30,258.80 57.40,250.90 74.50,248.30 91.60,248.10 108.70,246.50" fill="none" stroke="#ff3a2a" stroke-width="1.1"/>
<line x1="40.30" y1="256.80" x2="40.30" y2="260.80" stroke="#ff3a2a" stroke-width="1.0"/>
<line x1="38.70" y1="256.80" x2="41.90" y2="256.80" stroke="#ff3a2a" stroke-width="1.0"/>
<line x1="38.70" y1="260.80" x2="41.90" y2="260.80" stroke="#ff3a2a" stroke-width="1.0"/>
<line x1="57.40" y1="247.40" x2="57.40" y2="254.40" stroke="#ff3a2a" stroke-width="1.0"/>
<line x1="55.80" y1="247.40" x2="59.00" y2="247.40" stroke="#ff3a2a" stroke-width="1.0"/>
<line x1="55.80" y1="254.40" x2="59.00" y2="254.40" stroke="#ff3a2a" stroke-width="1.0"/>
<line x1="74.50" y1="244.80" x2="74.50" y2="251.80" stroke="#ff3a2a" stroke-width="1.0"/>
<line x1="72.90" y1="244.80" x2="76.10" y2="244.80" stroke="#ff3a2a" stroke-width="1.0"/>
<line x1="72.90" y1="251.80" x2="76.10" y2="251.80" stroke="#ff3a2a" stroke-width="1.0"/>
<line x1="91.60" y1="244.10" x2="91.60" y2="252.10" stroke="#ff3a2a" stroke-width="1.0"/>
<line x1="90.00" y1="244.10" x2="93.20" y2="244.10" stroke="#ff3a2a" stroke-width="1.0"/>
<line x1="90.00" y1="252.10" x2="93.20" y2="252.10" stroke="#ff3a2a" stroke-width="1.0"/>
<line x1="108.70" y1="244.00" x2="108.70" y2="249.00" stroke="#ff3a2a" stroke-width="1.0"/>
<line x1="107.10" y1="244.00" x2="110.30" y2="244.00" stroke="#ff3a2a" stroke-width="1.0"/>
<line x1="107.10" y1="249.00" x2="110.30" y2="249.00" stroke="#ff3a2a" stroke-width="1.0"/>
<circle cx="40.30" cy="258.80" r="1.90" fill="#ff3a2a"/>
<circle cx="57.40" cy="250.90" r="1.90" fill="#ff3a2a"/>
<circle cx="74.50" cy="248.30" r="1.90" fill="#ff3a2a"/>
<circle cx="91.60" cy="248.10" r="1.90" fill="#ff3a2a"/>
<circle cx="108.70" cy="246.50" r="1.90" fill="#ff3a2a"/>
<text x="60.40" y="235.70" font-size="12.02" textLength="28.10" lengthAdjust="spacingAndGlyphs" fill="#1f1ff5" stroke="#1f1ff5">GYG1</text>
<text x="51.70" y="272.00" font-size="12.02" textLength="28.90" lengthAdjust="spacingAndGlyphs" fill="#f8234a" stroke="#f8234a">GYG2</text>
<path d="M74.50,257.00L74.50,254.18M74.50,257.00L77.18,256.13M74.50,257.00L76.16,259.28M74.50,257.00L72.84,259.28M74.50,257.00L71.82,256.13" stroke="#ff3a2a" stroke-width="1.26" stroke-linecap="butt" fill="none"/>
<path d="M91.60,257.00L91.60,254.18M91.60,257.00L94.28,256.13M91.60,257.00L93.26,259.28M91.60,257.00L89.94,259.28M91.60,257.00L88.92,256.13" stroke="#ff3a2a" stroke-width="1.26" stroke-linecap="butt" fill="none"/>
<path d="M91.60,263.30L91.60,260.48M91.60,263.30L94.28,262.43M91.60,263.30L93.26,265.58M91.60,263.30L89.94,265.58M91.60,263.30L88.92,262.43" stroke="#ff3a2a" stroke-width="1.26" stroke-linecap="butt" fill="none"/>
<path d="M108.70,255.40L108.70,252.58M108.70,255.40L111.38,254.53M108.70,255.40L110.36,257.68M108.70,255.40L107.04,257.68M108.70,255.40L106.02,254.53" stroke="#ff3a2a" stroke-width="1.26" stroke-linecap="butt" fill="none"/>
<path d="M108.70,261.60L108.70,258.78M108.70,261.60L111.38,260.73M108.70,261.60L110.36,263.88M108.70,261.60L107.04,263.88M108.70,261.60L106.02,260.73" stroke="#ff3a2a" stroke-width="1.26" stroke-linecap="butt" fill="none"/>
<polyline points="140.30,250.40 157.40,246.20 174.50,249.50 191.60,253.50 208.70,252.30" fill="none" stroke="#ff3a2a" stroke-width="1.1"/>
<line x1="140.30" y1="247.40" x2="140.30" y2="253.40" stroke="#ff3a2a" stroke-width="1.0"/>
<line x1="138.70" y1="247.40" x2="141.90" y2="247.40" stroke="#ff3a2a" stroke-width="1.0"/>
<line x1="138.70" y1="253.40" x2="141.90" y2="253.40" stroke="#ff3a2a" stroke-width="1.0"/>
<line x1="157.40" y1="239.20" x2="157.40" y2="253.20" stroke="#ff3a2a" stroke-width="1.0"/>
<line x1="155.80" y1="239.20" x2="159.00" y2="239.20" stroke="#ff3a2a" stroke-width="1.0"/>
<line x1="155.80" y1="253.20" x2="159.00" y2="253.20" stroke="#ff3a2a" stroke-width="1.0"/>
<line x1="174.50" y1="244.50" x2="174.50" y2="254.50" stroke="#ff3a2a" stroke-width="1.0"/>
<line x1="172.90" y1="244.50" x2="176.10" y2="244.50" stroke="#ff3a2a" stroke-width="1.0"/>
<line x1="172.90" y1="254.50" x2="176.10" y2="254.50" stroke="#ff3a2a" stroke-width="1.0"/>
<line x1="191.60" y1="251.00" x2="191.60" y2="256.00" stroke="#ff3a2a" stroke-width="1.0"/>
<line x1="190.00" y1="251.00" x2="193.20" y2="251.00" stroke="#ff3a2a" stroke-width="1.0"/>
<line x1="190.00" y1="256.00" x2="193.20" y2="256.00" stroke="#ff3a2a" stroke-width="1.0"/>
<line x1="208.70" y1="248.30" x2="208.70" y2="256.30" stroke="#ff3a2a" stroke-width="1.0"/>
<line x1="207.10" y1="248.30" x2="210.30" y2="248.30" stroke="#ff3a2a" stroke-width="1.0"/>
<line x1="207.10" y1="256.30" x2="210.30" y2="256.30" stroke="#ff3a2a" stroke-width="1.0"/>
<circle cx="140.30" cy="250.40" r="1.90" fill="#ff3a2a"/>
<circle cx="157.40" cy="246.20" r="1.90" fill="#ff3a2a"/>
<circle cx="174.50" cy="249.50" r="1.90" fill="#ff3a2a"/>
<circle cx="191.60" cy="253.50" r="1.90" fill="#ff3a2a"/>
<circle cx="208.70" cy="252.30" r="1.90" fill="#ff3a2a"/>
<polyline points="140.30,275.80 157.40,275.80 174.50,275.80 191.60,275.80 208.70,275.80" fill="none" stroke="#1e1eff" stroke-width="1.6"/>
<rect x="138.70" y="274.20" width="3.20" height="3.20" fill="#1e1eff"/>
<rect x="155.80" y="274.20" width="3.20" height="3.20" fill="#1e1eff"/>
<rect x="172.90" y="274.20" width="3.20" height="3.20" fill="#1e1eff"/>
<rect x="190.00" y="274.20" width="3.20" height="3.20" fill="#1e1eff"/>
<rect x="207.10" y="274.20" width="3.20" height="3.20" fill="#1e1eff"/>
<text x="178.70" y="243.40" font-size="12.02" textLength="28.50" lengthAdjust="spacingAndGlyphs" fill="#f8234a" stroke="#f8234a">GYG2</text>
<text x="174.80" y="272.80" font-size="12.02" textLength="27.20" lengthAdjust="spacingAndGlyphs" fill="#1f1ff5" stroke="#1f1ff5">GYG1</text>
<polyline points="240.30,252.70 257.40,246.20 274.50,246.20 291.60,240.90 308.70,240.40" fill="none" stroke="#1e1eff" stroke-width="1.1"/>
<line x1="240.30" y1="252.10" x2="240.30" y2="253.30" stroke="#1e1eff" stroke-width="1.0"/>
<line x1="238.70" y1="252.10" x2="241.90" y2="252.10" stroke="#1e1eff" stroke-width="1.0"/>
<line x1="238.70" y1="253.30" x2="241.90" y2="253.30" stroke="#1e1eff" stroke-width="1.0"/>
<line x1="257.40" y1="243.70" x2="257.40" y2="248.70" stroke="#1e1eff" stroke-width="1.0"/>
<line x1="255.80" y1="243.70" x2="259.00" y2="243.70" stroke="#1e1eff" stroke-width="1.0"/>
<line x1="255.80" y1="248.70" x2="259.00" y2="248.70" stroke="#1e1eff" stroke-width="1.0"/>
<line x1="274.50" y1="242.20" x2="274.50" y2="250.20" stroke="#1e1eff" stroke-width="1.0"/>
<line x1="272.90" y1="242.20" x2="276.10" y2="242.20" stroke="#1e1eff" stroke-width="1.0"/>
<line x1="272.90" y1="250.20" x2="276.10" y2="250.20" stroke="#1e1eff" stroke-width="1.0"/>
<line x1="291.60" y1="236.40" x2="291.60" y2="245.40" stroke="#1e1eff" stroke-width="1.0"/>
<line x1="290.00" y1="236.40" x2="293.20" y2="236.40" stroke="#1e1eff" stroke-width="1.0"/>
<line x1="290.00" y1="245.40" x2="293.20" y2="245.40" stroke="#1e1eff" stroke-width="1.0"/>
<line x1="308.70" y1="235.90" x2="308.70" y2="244.90" stroke="#1e1eff" stroke-width="1.0"/>
<line x1="307.10" y1="235.90" x2="310.30" y2="235.90" stroke="#1e1eff" stroke-width="1.0"/>
<line x1="307.10" y1="244.90" x2="310.30" y2="244.90" stroke="#1e1eff" stroke-width="1.0"/>
<circle cx="240.30" cy="252.70" r="1.90" fill="#1e1eff"/>
<circle cx="257.40" cy="246.20" r="1.90" fill="#1e1eff"/>
<circle cx="274.50" cy="246.20" r="1.90" fill="#1e1eff"/>
<circle cx="291.60" cy="240.90" r="1.90" fill="#1e1eff"/>
<circle cx="308.70" cy="240.40" r="1.90" fill="#1e1eff"/>
<polyline points="240.30,275.80 257.40,275.80 274.50,275.80 291.60,275.80 308.70,275.80" fill="none" stroke="#ff3a2a" stroke-width="1.6"/>
<rect x="238.70" y="274.20" width="3.20" height="3.20" fill="#ff3a2a"/>
<rect x="255.80" y="274.20" width="3.20" height="3.20" fill="#ff3a2a"/>
<rect x="272.90" y="274.20" width="3.20" height="3.20" fill="#ff3a2a"/>
<rect x="290.00" y="274.20" width="3.20" height="3.20" fill="#ff3a2a"/>
<rect x="307.10" y="274.20" width="3.20" height="3.20" fill="#ff3a2a"/>
<text x="261.70" y="233.90" font-size="12.02" textLength="28.50" lengthAdjust="spacingAndGlyphs" fill="#1f1ff5" stroke="#1f1ff5">GYG1</text>
<text x="272.20" y="272.80" font-size="12.02" textLength="29.80" lengthAdjust="spacingAndGlyphs" fill="#f8234a" stroke="#f8234a">GYG2</text>
<path d="M308.70,231.80L308.70,228.98M308.70,231.80L311.38,230.93M308.70,231.80L310.36,234.08M308.70,231.80L307.04,234.08M308.70,231.80L306.02,230.93" stroke="#1e1eff" stroke-width="1.26" stroke-linecap="butt" fill="none"/>
<text x="40.30" y="285.50" font-size="10.45" text-anchor="middle" textLength="5.56" lengthAdjust="spacingAndGlyphs" stroke="#000">0</text>
<text x="57.40" y="285.50" font-size="10.45" text-anchor="middle" textLength="5.56" lengthAdjust="spacingAndGlyphs" stroke="#000">1</text>
<text x="74.50" y="285.50" font-size="10.45" text-anchor="middle" textLength="5.56" lengthAdjust="spacingAndGlyphs" stroke="#000">2</text>
<text x="91.60" y="285.50" font-size="10.45" text-anchor="middle" textLength="5.56" lengthAdjust="spacingAndGlyphs" stroke="#000">3</text>
<text x="108.70" y="285.50" font-size="10.45" text-anchor="middle" textLength="5.56" lengthAdjust="spacingAndGlyphs" stroke="#000">4</text>
<text x="140.30" y="285.50" font-size="10.45" text-anchor="middle" textLength="5.56" lengthAdjust="spacingAndGlyphs" stroke="#000">0</text>
<text x="157.40" y="285.50" font-size="10.45" text-anchor="middle" textLength="5.56" lengthAdjust="spacingAndGlyphs" stroke="#000">1</text>
<text x="174.50" y="285.50" font-size="10.45" text-anchor="middle" textLength="5.56" lengthAdjust="spacingAndGlyphs" stroke="#000">2</text>
<text x="191.60" y="285.50" font-size="10.45" text-anchor="middle" textLength="5.56" lengthAdjust="spacingAndGlyphs" stroke="#000">3</text>
<text x="208.70" y="285.50" font-size="10.45" text-anchor="middle" textLength="5.56" lengthAdjust="spacingAndGlyphs" stroke="#000">4</text>
<text x="240.30" y="285.50" font-size="10.45" text-anchor="middle" textLength="5.56" lengthAdjust="spacingAndGlyphs" stroke="#000">0</text>
<text x="257.40" y="285.50" font-size="10.45" text-anchor="middle" textLength="5.56" lengthAdjust="spacingAndGlyphs" stroke="#000">1</text>
<text x="274.50" y="285.50" font-size="10.45" text-anchor="middle" textLength="5.56" lengthAdjust="spacingAndGlyphs" stroke="#000">2</text>
<text x="291.60" y="285.50" font-size="10.45" text-anchor="middle" textLength="5.56" lengthAdjust="spacingAndGlyphs" stroke="#000">3</text>
<text x="308.70" y="285.50" font-size="10.45" text-anchor="middle" textLength="5.56" lengthAdjust="spacingAndGlyphs" stroke="#000">4</text>
<text x="316.00" y="285.50" font-size="10.45" textLength="10.50" lengthAdjust="spacingAndGlyphs" stroke="#000">hr</text>
<text x="342.30" y="13.00" font-size="16.72" textLength="9.60" lengthAdjust="spacingAndGlyphs" stroke="#000">b</text>
<text x="377.3" y="9.6" font-size="11.7" textLength="268.2" lengthAdjust="spacingAndGlyphs" fill="#1f1ff5" stroke="#1f1ff5">Metabolic change (Glycogen breakdown_<tspan fill="#f8234a" stroke="#f8234a">Forskolin</tspan>)</text>
<line x1="374.20" y1="15.60" x2="650.70" y2="15.60" stroke="#1f1ff5" stroke-width="1.5"/>
<text x="436.40" y="28.90" font-size="12.54" textLength="18.40" lengthAdjust="spacingAndGlyphs" stroke="#000">WT</text>
<text x="503.20" y="28.90" font-size="12.54" textLength="55.20" lengthAdjust="spacingAndGlyphs" stroke="#000">GYG1 KO</text>
<text x="587.20" y="28.90" font-size="12.54" textLength="54.90" lengthAdjust="spacingAndGlyphs" stroke="#000">GYG2 KO</text>
<line x1="405.90" y1="31.00" x2="485.50" y2="31.00" stroke="#000" stroke-width="1.3"/>
<line x1="490.50" y1="31.00" x2="570.00" y2="31.00" stroke="#000" stroke-width="1.3"/>
<line x1="575.20" y1="31.00" x2="654.10" y2="31.00" stroke="#000" stroke-width="1.3"/>
<text x="415.00" y="41.30" font-size="10.45" text-anchor="middle" textLength="5.56" lengthAdjust="spacingAndGlyphs" stroke="#000">0</text>
<text x="429.70" y="41.30" font-size="10.45" text-anchor="middle" textLength="5.56" lengthAdjust="spacingAndGlyphs" stroke="#000">1</text>
<text x="444.80" y="41.30" font-size="10.45" text-anchor="middle" textLength="5.56" lengthAdjust="spacingAndGlyphs" stroke="#000">2</text>
<text x="459.60" y="41.30" font-size="10.45" text-anchor="middle" textLength="5.56" lengthAdjust="spacingAndGlyphs" stroke="#000">3</text>
<text x="474.70" y="41.30" font-size="10.45" text-anchor="middle" textLength="5.56" lengthAdjust="spacingAndGlyphs" stroke="#000">4</text>
<text x="500.80" y="41.30" font-size="10.45" text-anchor="middle" textLength="5.56" lengthAdjust="spacingAndGlyphs" stroke="#000">0</text>
<text x="515.20" y="41.30" font-size="10.45" text-anchor="middle" textLength="5.56" lengthAdjust="spacingAndGlyphs" stroke="#000">1</text>
<text x="529.90" y="41.30" font-size="10.45" text-anchor="middle" textLength="5.56" lengthAdjust="spacingAndGlyphs" stroke="#000">2</text>
<text x="544.30" y="41.30" font-size="10.45" text-anchor="middle" textLength="5.56" lengthAdjust="spacingAndGlyphs" stroke="#000">3</text>
<text x="559.80" y="41.30" font-size="10.45" text-anchor="middle" textLength="5.56" lengthAdjust="spacingAndGlyphs" stroke="#000">4</text>
<text x="583.10" y="41.30" font-size="10.45" text-anchor="middle" textLength="5.56" lengthAdjust="spacingAndGlyphs" stroke="#000">0</text>
<text x="598.20" y="41.30" font-size="10.45" text-anchor="middle" textLength="5.56" lengthAdjust="spacingAndGlyphs" stroke="#000">1</text>
<text x="613.60" y="41.30" font-size="10.45" text-anchor="middle" textLength="5.56" lengthAdjust="spacingAndGlyphs" stroke="#000">2</text>
<text x="627.70" y="41.30" font-size="10.45" text-anchor="middle" textLength="5.56" lengthAdjust="spacingAndGlyphs" stroke="#000">3</text>
<text x="643.10" y="41.30" font-size="10.45" text-anchor="middle" textLength="5.56" lengthAdjust="spacingAndGlyphs" stroke="#000">4</text>
<text x="652.40" y="41.30" font-size="10.45" textLength="10.00" lengthAdjust="spacingAndGlyphs" stroke="#000">hr</text>
<text x="401.30" y="47.60" font-size="12.12" text-anchor="end" textLength="23.85" lengthAdjust="spacingAndGlyphs" stroke="#000">pGS</text>
<text x="401.30" y="57.80" font-size="9.72" text-anchor="end" textLength="33.60" lengthAdjust="spacingAndGlyphs" stroke="#000">(85kDa)</text>
<text x="401.30" y="71.40" font-size="12.12" text-anchor="end" textLength="16.76" lengthAdjust="spacingAndGlyphs" stroke="#000">GS</text>
<text x="401.30" y="80.30" font-size="9.72" text-anchor="end" textLength="33.60" lengthAdjust="spacingAndGlyphs" stroke="#000">(84kDa)</text>
<text x="401.30" y="94.30" font-size="12.12" text-anchor="end" textLength="32.23" lengthAdjust="spacingAndGlyphs" stroke="#000">GYG2</text>
<text x="401.30" y="102.20" font-size="9.72" text-anchor="end" textLength="33.60" lengthAdjust="spacingAndGlyphs" stroke="#000">(66kDa)</text>
<text x="401.30" y="117.20" font-size="12.12" text-anchor="end" textLength="32.23" lengthAdjust="spacingAndGlyphs" stroke="#000">GYG1</text>
<text x="401.30" y="125.20" font-size="9.72" text-anchor="end" textLength="33.60" lengthAdjust="spacingAndGlyphs" stroke="#000">(39kDa)</text>
<text x="401.30" y="140.20" font-size="12.12" text-anchor="end" textLength="46.38" lengthAdjust="spacingAndGlyphs" stroke="#000">β-ACTIN</text>
<text x="401.30" y="148.60" font-size="9.72" text-anchor="end" textLength="33.60" lengthAdjust="spacingAndGlyphs" stroke="#000">(45kDa)</text>
<rect x="404.60" y="42.20" width="81.20" height="15.30" fill="#cdcdcd" stroke="#333" stroke-width="1.2"/>
<rect x="407.20" y="47.57" width="12.80" height="5.06" rx="2.02" fill="#000" fill-opacity="0.98" filter="url(#bl)"/>
<rect x="422.70" y="47.67" width="12.80" height="5.06" rx="2.02" fill="#000" fill-opacity="0.95" filter="url(#bl)"/>
<rect x="438.70" y="49.77" width="12.80" height="2.86" rx="1.14" fill="#000" fill-opacity="0.72" filter="url(#bl)"/>
<rect x="454.70" y="50.48" width="12.80" height="2.64" rx="1.06" fill="#000" fill-opacity="0.50" filter="url(#bl)"/>
<rect x="470.20" y="50.08" width="12.80" height="2.64" rx="1.06" fill="#000" fill-opacity="0.50" filter="url(#bl)"/>
<rect x="488.00" y="42.20" width="81.90" height="15.30" fill="#d2d2d2" stroke="#333" stroke-width="1.2"/>
<rect x="490.60" y="48.11" width="12.80" height="4.18" rx="1.67" fill="#000" fill-opacity="0.85" filter="url(#bl)"/>
<rect x="506.10" y="48.82" width="12.80" height="3.96" rx="1.58" fill="#000" fill-opacity="0.75" filter="url(#bl)"/>
<rect x="522.10" y="49.22" width="12.80" height="3.96" rx="1.58" fill="#000" fill-opacity="0.78" filter="url(#bl)"/>
<rect x="538.10" y="49.62" width="12.80" height="3.96" rx="1.58" fill="#000" fill-opacity="0.80" filter="url(#bl)"/>
<rect x="553.60" y="49.42" width="12.80" height="3.96" rx="1.58" fill="#000" fill-opacity="0.75" filter="url(#bl)"/>
<rect x="572.40" y="42.20" width="82.10" height="15.30" fill="#d6d6d6" stroke="#333" stroke-width="1.2"/>
<rect x="575.00" y="49.55" width="12.80" height="3.30" rx="1.32" fill="#000" fill-opacity="0.70" filter="url(#bl)"/>
<rect x="590.50" y="49.95" width="12.80" height="3.30" rx="1.32" fill="#000" fill-opacity="0.68" filter="url(#bl)"/>
<rect x="606.50" y="50.98" width="12.80" height="2.64" rx="1.06" fill="#000" fill-opacity="0.35" filter="url(#bl)"/>
<rect x="622.50" y="51.09" width="12.80" height="2.42" rx="0.97" fill="#000" fill-opacity="0.30" filter="url(#bl)"/>
<rect x="638.00" y="51.09" width="12.80" height="2.42" rx="0.97" fill="#000" fill-opacity="0.28" filter="url(#bl)"/>
<rect x="404.60" y="64.80" width="81.20" height="15.30" fill="#eeeeee" stroke="#333" stroke-width="1.2"/>
<rect x="407.20" y="71.84" width="12.80" height="3.52" rx="1.41" fill="#000" fill-opacity="0.45" filter="url(#bl)"/>
<rect x="422.70" y="71.64" width="12.80" height="3.52" rx="1.41" fill="#000" fill-opacity="0.50" filter="url(#bl)"/>
<rect x="438.70" y="71.84" width="12.80" height="3.52" rx="1.41" fill="#000" fill-opacity="0.45" filter="url(#bl)"/>
<rect x="454.70" y="71.13" width="12.80" height="3.74" rx="1.50" fill="#000" fill-opacity="0.70" filter="url(#bl)"/>
<rect x="470.20" y="70.31" width="12.80" height="4.18" rx="1.67" fill="#000" fill-opacity="0.85" filter="url(#bl)"/>
<rect x="488.00" y="64.80" width="81.90" height="15.30" fill="#ececec" stroke="#333" stroke-width="1.2"/>
<rect x="490.60" y="72.31" width="12.80" height="4.18" rx="1.67" fill="#000" fill-opacity="0.88" filter="url(#bl)"/>
<rect x="506.10" y="72.00" width="12.80" height="4.40" rx="1.76" fill="#000" fill-opacity="0.90" filter="url(#bl)"/>
<rect x="522.10" y="72.22" width="12.80" height="3.96" rx="1.58" fill="#000" fill-opacity="0.80" filter="url(#bl)"/>
<rect x="538.10" y="71.49" width="12.80" height="4.62" rx="1.85" fill="#000" fill-opacity="0.95" filter="url(#bl)"/>
<rect x="553.60" y="71.82" width="12.80" height="3.96" rx="1.58" fill="#000" fill-opacity="0.80" filter="url(#bl)"/>
<rect x="572.40" y="64.80" width="82.10" height="15.30" fill="#e8e8e8" stroke="#333" stroke-width="1.2"/>
<rect x="575.00" y="73.06" width="12.80" height="3.08" rx="1.23" fill="#000" fill-opacity="0.35" filter="url(#bl)"/>
<rect x="590.50" y="71.93" width="12.80" height="3.74" rx="1.50" fill="#000" fill-opacity="0.72" filter="url(#bl)"/>
<rect x="606.50" y="70.80" width="12.80" height="4.40" rx="1.76" fill="#000" fill-opacity="0.95" filter="url(#bl)"/>
<rect x="622.50" y="70.60" width="12.80" height="4.40" rx="1.76" fill="#000" fill-opacity="0.97" filter="url(#bl)"/>
<rect x="638.00" y="70.29" width="12.80" height="4.62" rx="1.85" fill="#000" fill-opacity="0.98" filter="url(#bl)"/>
<rect x="404.60" y="87.20" width="81.20" height="15.70" fill="#e8e8e8" stroke="#333" stroke-width="1.2"/>
<rect x="407.20" y="93.17" width="12.80" height="2.86" rx="1.14" fill="#000" fill-opacity="0.85" filter="url(#bl)"/>
<rect x="422.70" y="93.77" width="12.80" height="2.86" rx="1.14" fill="#000" fill-opacity="0.78" filter="url(#bl)"/>
<rect x="438.70" y="94.48" width="12.80" height="2.64" rx="1.06" fill="#000" fill-opacity="0.65" filter="url(#bl)"/>
<rect x="454.70" y="94.17" width="12.80" height="2.86" rx="1.14" fill="#000" fill-opacity="0.72" filter="url(#bl)"/>
<rect x="470.20" y="93.97" width="12.80" height="2.86" rx="1.14" fill="#000" fill-opacity="0.70" filter="url(#bl)"/>
<rect x="488.00" y="87.20" width="81.90" height="15.70" fill="#e0e0e0" stroke="#333" stroke-width="1.2"/>
<rect x="490.60" y="92.04" width="12.80" height="3.52" rx="1.41" fill="#000" fill-opacity="0.92" filter="url(#bl)"/>
<rect x="506.10" y="93.26" width="12.80" height="3.08" rx="1.23" fill="#000" fill-opacity="0.80" filter="url(#bl)"/>
<rect x="522.10" y="93.46" width="12.80" height="3.08" rx="1.23" fill="#000" fill-opacity="0.78" filter="url(#bl)"/>
<rect x="538.10" y="93.15" width="12.80" height="3.30" rx="1.32" fill="#000" fill-opacity="0.82" filter="url(#bl)"/>
<rect x="553.60" y="93.46" width="12.80" height="3.08" rx="1.23" fill="#000" fill-opacity="0.75" filter="url(#bl)"/>
<rect x="572.40" y="87.20" width="82.10" height="15.70" fill="#f0f0f0" stroke="#333" stroke-width="1.2"/>
<rect x="404.60" y="110.00" width="81.20" height="15.30" fill="#ececec" stroke="#333" stroke-width="1.2"/>
<rect x="407.20" y="117.71" width="12.80" height="4.18" rx="1.67" fill="#000" fill-opacity="0.92" filter="url(#bl)"/>
<rect x="422.70" y="116.91" width="12.80" height="4.18" rx="1.67" fill="#000" fill-opacity="0.90" filter="url(#bl)"/>
<rect x="438.70" y="116.11" width="12.80" height="4.18" rx="1.67" fill="#000" fill-opacity="0.88" filter="url(#bl)"/>
<rect x="454.70" y="114.91" width="12.80" height="4.18" rx="1.67" fill="#000" fill-opacity="0.90" filter="url(#bl)"/>
<rect x="470.20" y="113.91" width="12.80" height="4.18" rx="1.67" fill="#000" fill-opacity="0.92" filter="url(#bl)"/>
<rect x="488.00" y="110.00" width="81.90" height="15.30" fill="#f0f0f0" stroke="#333" stroke-width="1.2"/>
<rect x="572.40" y="110.00" width="82.10" height="15.30" fill="#ececec" stroke="#333" stroke-width="1.2"/>
<rect x="575.00" y="116.16" width="12.80" height="5.28" rx="2.11" fill="#000" fill-opacity="0.92" filter="url(#bl)"/>
<rect x="590.50" y="116.16" width="12.80" height="5.28" rx="2.11" fill="#000" fill-opacity="0.90" filter="url(#bl)"/>
<rect x="606.50" y="115.96" width="12.80" height="5.28" rx="2.11" fill="#000" fill-opacity="0.92" filter="url(#bl)"/>
<rect x="622.50" y="116.16" width="12.80" height="5.28" rx="2.11" fill="#000" fill-opacity="0.82" filter="url(#bl)"/>
<rect x="638.00" y="116.16" width="12.80" height="5.28" rx="2.11" fill="#000" fill-opacity="0.85" filter="url(#bl)"/>
<rect x="404.60" y="132.40" width="81.20" height="15.40" fill="#f4f4f4" stroke="#333" stroke-width="1.2"/>
<rect x="407.20" y="139.42" width="12.80" height="3.96" rx="1.58" fill="#000" fill-opacity="0.97" filter="url(#bl)"/>
<rect x="422.70" y="139.22" width="12.80" height="3.96" rx="1.58" fill="#000" fill-opacity="0.95" filter="url(#bl)"/>
<rect x="438.70" y="138.82" width="12.80" height="3.96" rx="1.58" fill="#000" fill-opacity="0.95" filter="url(#bl)"/>
<rect x="454.70" y="138.42" width="12.80" height="3.96" rx="1.58" fill="#000" fill-opacity="0.95" filter="url(#bl)"/>
<rect x="470.20" y="138.02" width="12.80" height="3.96" rx="1.58" fill="#000" fill-opacity="0.95" filter="url(#bl)"/>
<rect x="488.00" y="132.40" width="81.90" height="15.40" fill="#f4f4f4" stroke="#333" stroke-width="1.2"/>
<rect x="490.60" y="140.02" width="12.80" height="3.96" rx="1.58" fill="#000" fill-opacity="0.97" filter="url(#bl)"/>
<rect x="506.10" y="139.82" width="12.80" height="3.96" rx="1.58" fill="#000" fill-opacity="0.95" filter="url(#bl)"/>
<rect x="522.10" y="139.22" width="12.80" height="3.96" rx="1.58" fill="#000" fill-opacity="0.95" filter="url(#bl)"/>
<rect x="538.10" y="138.82" width="12.80" height="3.96" rx="1.58" fill="#000" fill-opacity="0.95" filter="url(#bl)"/>
<rect x="553.60" y="138.22" width="12.80" height="3.96" rx="1.58" fill="#000" fill-opacity="0.95" filter="url(#bl)"/>
<rect x="572.40" y="132.40" width="82.10" height="15.40" fill="#f4f4f4" stroke="#333" stroke-width="1.2"/>
<rect x="575.00" y="139.91" width="12.80" height="4.18" rx="1.67" fill="#000" fill-opacity="0.97" filter="url(#bl)"/>
<rect x="590.50" y="139.22" width="12.80" height="3.96" rx="1.58" fill="#000" fill-opacity="0.95" filter="url(#bl)"/>
<rect x="606.50" y="138.82" width="12.80" height="3.96" rx="1.58" fill="#000" fill-opacity="0.95" filter="url(#bl)"/>
<rect x="622.50" y="137.62" width="12.80" height="3.96" rx="1.58" fill="#000" fill-opacity="0.95" filter="url(#bl)"/>
<rect x="638.00" y="137.22" width="12.80" height="3.96" rx="1.58" fill="#000" fill-opacity="0.95" filter="url(#bl)"/>
<rect x="655.60" y="55.40" width="1.4" height="1.3" fill="#000"/>
<text x="658.70" y="58.89" font-size="8.15" textLength="8.80" lengthAdjust="spacingAndGlyphs" stroke="#000">75</text>
<rect x="655.60" y="74.80" width="1.4" height="1.3" fill="#000"/>
<text x="658.70" y="78.29" font-size="8.15" textLength="8.80" lengthAdjust="spacingAndGlyphs" stroke="#000">75</text>
<rect x="655.60" y="90.40" width="1.4" height="1.3" fill="#000"/>
<text x="658.70" y="93.89" font-size="8.15" textLength="8.80" lengthAdjust="spacingAndGlyphs" stroke="#000">75</text>
<rect x="655.60" y="113.50" width="1.4" height="1.3" fill="#000"/>
<text x="658.70" y="116.99" font-size="8.15" textLength="8.80" lengthAdjust="spacingAndGlyphs" stroke="#000">37</text>
<rect x="655.60" y="134.70" width="1.4" height="1.3" fill="#000"/>
<text x="658.70" y="138.19" font-size="8.15" textLength="8.80" lengthAdjust="spacingAndGlyphs" stroke="#000">37</text>
<text stroke="#000" transform="translate(364.8,285.8) rotate(-90)" font-size="9" textLength="128.5" lengthAdjust="spacingAndGlyphs">Pattern normalized to β-ACTIN</text>
<text x="428.30" y="164.20" font-size="11.49" textLength="16.10" lengthAdjust="spacingAndGlyphs" stroke="#000">WT</text>
<text x="503.40" y="164.20" font-size="11.49" textLength="47.70" lengthAdjust="spacingAndGlyphs" stroke="#000">GYG1 KO</text>
<text x="595.70" y="164.20" font-size="11.49" textLength="47.30" lengthAdjust="spacingAndGlyphs" stroke="#000">GYG2 KO</text>
<line x1="384.00" y1="165.30" x2="384.00" y2="216.80" stroke="#000" stroke-width="1.3"/>
<line x1="383.40" y1="216.80" x2="468.50" y2="216.80" stroke="#000" stroke-width="1.3"/>
<line x1="384.00" y1="224.60" x2="384.00" y2="276.10" stroke="#000" stroke-width="1.3"/>
<line x1="383.40" y1="276.10" x2="468.50" y2="276.10" stroke="#000" stroke-width="1.3"/>
<text x="381.60" y="165.10" font-size="8.57" text-anchor="end" textLength="11.40" lengthAdjust="spacingAndGlyphs" stroke="#000">1.5</text>
<text x="381.60" y="181.80" font-size="8.57" text-anchor="end" textLength="11.40" lengthAdjust="spacingAndGlyphs" stroke="#000">1.0</text>
<text x="381.60" y="198.90" font-size="8.57" text-anchor="end" textLength="11.40" lengthAdjust="spacingAndGlyphs" stroke="#000">0.5</text>
<text x="381.60" y="216.30" font-size="8.57" text-anchor="end" textLength="11.40" lengthAdjust="spacingAndGlyphs" stroke="#000">0.0</text>
<text x="381.60" y="228.40" font-size="8.57" text-anchor="end" textLength="11.40" lengthAdjust="spacingAndGlyphs" stroke="#000">1.5</text>
<text x="381.60" y="245.50" font-size="8.57" text-anchor="end" textLength="11.40" lengthAdjust="spacingAndGlyphs" stroke="#000">1.0</text>
<text x="381.60" y="262.50" font-size="8.57" text-anchor="end" textLength="11.40" lengthAdjust="spacingAndGlyphs" stroke="#000">0.5</text>
<text x="381.60" y="279.10" font-size="8.57" text-anchor="end" textLength="11.40" lengthAdjust="spacingAndGlyphs" stroke="#000">0.0</text>
<line x1="481.90" y1="165.30" x2="481.90" y2="216.80" stroke="#000" stroke-width="1.3"/>
<line x1="481.30" y1="216.80" x2="566.40" y2="216.80" stroke="#000" stroke-width="1.3"/>
<line x1="481.90" y1="224.60" x2="481.90" y2="276.10" stroke="#000" stroke-width="1.3"/>
<line x1="481.30" y1="276.10" x2="566.40" y2="276.10" stroke="#000" stroke-width="1.3"/>
<text x="479.50" y="166.90" font-size="8.57" text-anchor="end" textLength="3.80" lengthAdjust="spacingAndGlyphs" stroke="#000">3</text>
<text x="479.50" y="184.10" font-size="8.57" text-anchor="end" textLength="3.80" lengthAdjust="spacingAndGlyphs" stroke="#000">2</text>
<text x="479.50" y="200.20" font-size="8.57" text-anchor="end" textLength="3.80" lengthAdjust="spacingAndGlyphs" stroke="#000">1</text>
<text x="479.50" y="216.30" font-size="8.57" text-anchor="end" textLength="3.80" lengthAdjust="spacingAndGlyphs" stroke="#000">0</text>
<text x="479.50" y="228.10" font-size="8.57" text-anchor="end" textLength="3.80" lengthAdjust="spacingAndGlyphs" stroke="#000">3</text>
<text x="479.50" y="245.10" font-size="8.57" text-anchor="end" textLength="3.80" lengthAdjust="spacingAndGlyphs" stroke="#000">2</text>
<text x="479.50" y="261.30" font-size="8.57" text-anchor="end" textLength="3.80" lengthAdjust="spacingAndGlyphs" stroke="#000">1</text>
<text x="479.50" y="278.30" font-size="8.57" text-anchor="end" textLength="3.80" lengthAdjust="spacingAndGlyphs" stroke="#000">0</text>
<line x1="581.60" y1="165.30" x2="581.60" y2="216.80" stroke="#000" stroke-width="1.3"/>
<line x1="581.00" y1="216.80" x2="666.10" y2="216.80" stroke="#000" stroke-width="1.3"/>
<line x1="581.60" y1="224.60" x2="581.60" y2="276.10" stroke="#000" stroke-width="1.3"/>
<line x1="581.00" y1="276.10" x2="666.10" y2="276.10" stroke="#000" stroke-width="1.3"/>
<text x="579.20" y="166.90" font-size="8.57" text-anchor="end" textLength="3.80" lengthAdjust="spacingAndGlyphs" stroke="#000">3</text>
<text x="579.20" y="184.10" font-size="8.57" text-anchor="end" textLength="3.80" lengthAdjust="spacingAndGlyphs" stroke="#000">2</text>
<text x="579.20" y="200.20" font-size="8.57" text-anchor="end" textLength="3.80" lengthAdjust="spacingAndGlyphs" stroke="#000">1</text>
<text x="579.20" y="216.30" font-size="8.57" text-anchor="end" textLength="3.80" lengthAdjust="spacingAndGlyphs" stroke="#000">0</text>
<text x="579.20" y="228.60" font-size="8.57" text-anchor="end" textLength="11.40" lengthAdjust="spacingAndGlyphs" stroke="#000">1.5</text>
<text x="579.20" y="245.10" font-size="8.57" text-anchor="end" textLength="11.40" lengthAdjust="spacingAndGlyphs" stroke="#000">1.0</text>
<text x="579.20" y="261.50" font-size="8.57" text-anchor="end" textLength="11.40" lengthAdjust="spacingAndGlyphs" stroke="#000">0.5</text>
<text x="579.20" y="278.30" font-size="8.57" text-anchor="end" textLength="11.40" lengthAdjust="spacingAndGlyphs" stroke="#000">0.0</text>
<polyline points="392.20,177.90 409.20,188.50 426.20,199.00 443.20,205.00 460.20,207.90" fill="none" stroke="#ff3a2a" stroke-width="1.1" stroke-dasharray="3.2,2"/>
<line x1="392.20" y1="172.40" x2="392.20" y2="183.40" stroke="#ff3a2a" stroke-width="1.0"/>
<line x1="390.60" y1="172.40" x2="393.80" y2="172.40" stroke="#ff3a2a" stroke-width="1.0"/>
<line x1="390.60" y1="183.40" x2="393.80" y2="183.40" stroke="#ff3a2a" stroke-width="1.0"/>
<line x1="409.20" y1="182.00" x2="409.20" y2="195.00" stroke="#ff3a2a" stroke-width="1.0"/>
<line x1="407.60" y1="182.00" x2="410.80" y2="182.00" stroke="#ff3a2a" stroke-width="1.0"/>
<line x1="407.60" y1="195.00" x2="410.80" y2="195.00" stroke="#ff3a2a" stroke-width="1.0"/>
<line x1="426.20" y1="197.50" x2="426.20" y2="200.50" stroke="#ff3a2a" stroke-width="1.0"/>
<line x1="424.60" y1="197.50" x2="427.80" y2="197.50" stroke="#ff3a2a" stroke-width="1.0"/>
<line x1="424.60" y1="200.50" x2="427.80" y2="200.50" stroke="#ff3a2a" stroke-width="1.0"/>
<line x1="443.20" y1="202.50" x2="443.20" y2="207.50" stroke="#ff3a2a" stroke-width="1.0"/>
<line x1="441.60" y1="202.50" x2="444.80" y2="202.50" stroke="#ff3a2a" stroke-width="1.0"/>
<line x1="441.60" y1="207.50" x2="444.80" y2="207.50" stroke="#ff3a2a" stroke-width="1.0"/>
<line x1="460.20" y1="206.40" x2="460.20" y2="209.40" stroke="#ff3a2a" stroke-width="1.0"/>
<line x1="458.60" y1="206.40" x2="461.80" y2="206.40" stroke="#ff3a2a" stroke-width="1.0"/>
<line x1="458.60" y1="209.40" x2="461.80" y2="209.40" stroke="#ff3a2a" stroke-width="1.0"/>
<circle cx="392.20" cy="177.90" r="1.90" fill="#ff3a2a"/>
<circle cx="409.20" cy="188.50" r="1.90" fill="#ff3a2a"/>
<circle cx="426.20" cy="199.00" r="1.90" fill="#ff3a2a"/>
<circle cx="443.20" cy="205.00" r="1.90" fill="#ff3a2a"/>
<circle cx="460.20" cy="207.90" r="1.90" fill="#ff3a2a"/>
<polyline points="392.20,195.50 409.20,195.20 426.20,189.90 443.20,182.30 460.20,181.30" fill="none" stroke="#1e1eff" stroke-width="1.1" stroke-dasharray="3.2,2"/>
<line x1="392.20" y1="193.00" x2="392.20" y2="198.00" stroke="#1e1eff" stroke-width="1.0"/>
<line x1="390.60" y1="193.00" x2="393.80" y2="193.00" stroke="#1e1eff" stroke-width="1.0"/>
<line x1="390.60" y1="198.00" x2="393.80" y2="198.00" stroke="#1e1eff" stroke-width="1.0"/>
<line x1="409.20" y1="190.20" x2="409.20" y2="200.20" stroke="#1e1eff" stroke-width="1.0"/>
<line x1="407.60" y1="190.20" x2="410.80" y2="190.20" stroke="#1e1eff" stroke-width="1.0"/>
<line x1="407.60" y1="200.20" x2="410.80" y2="200.20" stroke="#1e1eff" stroke-width="1.0"/>
<line x1="426.20" y1="181.40" x2="426.20" y2="198.40" stroke="#1e1eff" stroke-width="1.0"/>
<line x1="424.60" y1="181.40" x2="427.80" y2="181.40" stroke="#1e1eff" stroke-width="1.0"/>
<line x1="424.60" y1="198.40" x2="427.80" y2="198.40" stroke="#1e1eff" stroke-width="1.0"/>
<line x1="443.20" y1="180.50" x2="443.20" y2="184.10" stroke="#1e1eff" stroke-width="1.0"/>
<line x1="441.60" y1="180.50" x2="444.80" y2="180.50" stroke="#1e1eff" stroke-width="1.0"/>
<line x1="441.60" y1="184.10" x2="444.80" y2="184.10" stroke="#1e1eff" stroke-width="1.0"/>
<line x1="460.20" y1="176.80" x2="460.20" y2="185.80" stroke="#1e1eff" stroke-width="1.0"/>
<line x1="458.60" y1="176.80" x2="461.80" y2="176.80" stroke="#1e1eff" stroke-width="1.0"/>
<line x1="458.60" y1="185.80" x2="461.80" y2="185.80" stroke="#1e1eff" stroke-width="1.0"/>
<circle cx="392.20" cy="195.50" r="1.90" fill="#1e1eff"/>
<circle cx="409.20" cy="195.20" r="1.90" fill="#1e1eff"/>
<circle cx="426.20" cy="189.90" r="1.90" fill="#1e1eff"/>
<circle cx="443.20" cy="182.30" r="1.90" fill="#1e1eff"/>
<circle cx="460.20" cy="181.30" r="1.90" fill="#1e1eff"/>
<text x="397.90" y="173.70" font-size="12.02" textLength="20.90" lengthAdjust="spacingAndGlyphs" fill="#f8234a" stroke="#f8234a">pGS</text>
<text x="392.80" y="212.60" font-size="12.02" textLength="14.00" lengthAdjust="spacingAndGlyphs" fill="#1f1ff5" stroke="#1f1ff5">GS</text>
<path d="M420.70,200.90L420.70,198.08M420.70,200.90L423.38,200.03M420.70,200.90L422.36,203.18M420.70,200.90L419.04,203.18M420.70,200.90L418.02,200.03" stroke="#ff3a2a" stroke-width="1.26" stroke-linecap="butt" fill="none"/>
<path d="M420.70,206.60L420.70,203.78M420.70,206.60L423.38,205.73M420.70,206.60L422.36,208.88M420.70,206.60L419.04,208.88M420.70,206.60L418.02,205.73" stroke="#ff3a2a" stroke-width="1.26" stroke-linecap="butt" fill="none"/>
<path d="M420.70,212.20L420.70,209.38M420.70,212.20L423.38,211.33M420.70,212.20L422.36,214.48M420.70,212.20L419.04,214.48M420.70,212.20L418.02,211.33" stroke="#ff3a2a" stroke-width="1.26" stroke-linecap="butt" fill="none"/>
<path d="M438.70,188.90L438.70,186.08M438.70,188.90L441.38,188.03M438.70,188.90L440.36,191.18M438.70,188.90L437.04,191.18M438.70,188.90L436.02,188.03" stroke="#ff3a2a" stroke-width="1.26" stroke-linecap="butt" fill="none"/>
<path d="M438.70,194.60L438.70,191.78M438.70,194.60L441.38,193.73M438.70,194.60L440.36,196.88M438.70,194.60L437.04,196.88M438.70,194.60L436.02,193.73" stroke="#ff3a2a" stroke-width="1.26" stroke-linecap="butt" fill="none"/>
<path d="M438.70,200.30L438.70,197.48M438.70,200.30L441.38,199.43M438.70,200.30L440.36,202.58M438.70,200.30L437.04,202.58M438.70,200.30L436.02,199.43" stroke="#ff3a2a" stroke-width="1.26" stroke-linecap="butt" fill="none"/>
<path d="M455.80,192.10L455.80,189.28M455.80,192.10L458.48,191.23M455.80,192.10L457.46,194.38M455.80,192.10L454.14,194.38M455.80,192.10L453.12,191.23" stroke="#ff3a2a" stroke-width="1.26" stroke-linecap="butt" fill="none"/>
<path d="M455.80,197.60L455.80,194.78M455.80,197.60L458.48,196.73M455.80,197.60L457.46,199.88M455.80,197.60L454.14,199.88M455.80,197.60L453.12,196.73" stroke="#ff3a2a" stroke-width="1.26" stroke-linecap="butt" fill="none"/>
<path d="M455.80,203.10L455.80,200.28M455.80,203.10L458.48,202.23M455.80,203.10L457.46,205.38M455.80,203.10L454.14,205.38M455.80,203.10L453.12,202.23" stroke="#ff3a2a" stroke-width="1.26" stroke-linecap="butt" fill="none"/>
<path d="M441.50,174.30L441.50,171.48M441.50,174.30L444.18,173.43M441.50,174.30L443.16,176.58M441.50,174.30L439.84,176.58M441.50,174.30L438.82,173.43" stroke="#1e1eff" stroke-width="1.26" stroke-linecap="butt" fill="none"/>
<path d="M457.70,170.00L457.70,167.18M457.70,170.00L460.38,169.13M457.70,170.00L459.36,172.28M457.70,170.00L456.04,172.28M457.70,170.00L455.02,169.13" stroke="#1e1eff" stroke-width="1.26" stroke-linecap="butt" fill="none"/>
<polyline points="490.10,176.30 507.10,188.20 524.10,187.10 541.10,188.20 558.10,192.90" fill="none" stroke="#ff3a2a" stroke-width="1.1" stroke-dasharray="3.2,2"/>
<line x1="490.10" y1="174.30" x2="490.10" y2="178.30" stroke="#ff3a2a" stroke-width="1.0"/>
<line x1="488.50" y1="174.30" x2="491.70" y2="174.30" stroke="#ff3a2a" stroke-width="1.0"/>
<line x1="488.50" y1="178.30" x2="491.70" y2="178.30" stroke="#ff3a2a" stroke-width="1.0"/>
<line x1="507.10" y1="179.70" x2="507.10" y2="196.70" stroke="#ff3a2a" stroke-width="1.0"/>
<line x1="505.50" y1="179.70" x2="508.70" y2="179.70" stroke="#ff3a2a" stroke-width="1.0"/>
<line x1="505.50" y1="196.70" x2="508.70" y2="196.70" stroke="#ff3a2a" stroke-width="1.0"/>
<line x1="524.10" y1="180.10" x2="524.10" y2="194.10" stroke="#ff3a2a" stroke-width="1.0"/>
<line x1="522.50" y1="180.10" x2="525.70" y2="180.10" stroke="#ff3a2a" stroke-width="1.0"/>
<line x1="522.50" y1="194.10" x2="525.70" y2="194.10" stroke="#ff3a2a" stroke-width="1.0"/>
<line x1="541.10" y1="182.20" x2="541.10" y2="194.20" stroke="#ff3a2a" stroke-width="1.0"/>
<line x1="539.50" y1="182.20" x2="542.70" y2="182.20" stroke="#ff3a2a" stroke-width="1.0"/>
<line x1="539.50" y1="194.20" x2="542.70" y2="194.20" stroke="#ff3a2a" stroke-width="1.0"/>
<line x1="558.10" y1="186.40" x2="558.10" y2="199.40" stroke="#ff3a2a" stroke-width="1.0"/>
<line x1="556.50" y1="186.40" x2="559.70" y2="186.40" stroke="#ff3a2a" stroke-width="1.0"/>
<line x1="556.50" y1="199.40" x2="559.70" y2="199.40" stroke="#ff3a2a" stroke-width="1.0"/>
<circle cx="490.10" cy="176.30" r="1.90" fill="#ff3a2a"/>
<circle cx="507.10" cy="188.20" r="1.90" fill="#ff3a2a"/>
<circle cx="524.10" cy="187.10" r="1.90" fill="#ff3a2a"/>
<circle cx="541.10" cy="188.20" r="1.90" fill="#ff3a2a"/>
<circle cx="558.10" cy="192.90" r="1.90" fill="#ff3a2a"/>
<polyline points="490.10,202.00 507.10,201.70 524.10,201.20 541.10,201.20 558.10,200.50" fill="none" stroke="#1e1eff" stroke-width="1.1" stroke-dasharray="3.2,2"/>
<line x1="490.10" y1="199.00" x2="490.10" y2="205.00" stroke="#1e1eff" stroke-width="1.0"/>
<line x1="488.50" y1="199.00" x2="491.70" y2="199.00" stroke="#1e1eff" stroke-width="1.0"/>
<line x1="488.50" y1="205.00" x2="491.70" y2="205.00" stroke="#1e1eff" stroke-width="1.0"/>
<line x1="507.10" y1="199.20" x2="507.10" y2="204.20" stroke="#1e1eff" stroke-width="1.0"/>
<line x1="505.50" y1="199.20" x2="508.70" y2="199.20" stroke="#1e1eff" stroke-width="1.0"/>
<line x1="505.50" y1="204.20" x2="508.70" y2="204.20" stroke="#1e1eff" stroke-width="1.0"/>
<line x1="524.10" y1="197.70" x2="524.10" y2="204.70" stroke="#1e1eff" stroke-width="1.0"/>
<line x1="522.50" y1="197.70" x2="525.70" y2="197.70" stroke="#1e1eff" stroke-width="1.0"/>
<line x1="522.50" y1="204.70" x2="525.70" y2="204.70" stroke="#1e1eff" stroke-width="1.0"/>
<line x1="541.10" y1="200.20" x2="541.10" y2="202.20" stroke="#1e1eff" stroke-width="1.0"/>
<line x1="539.50" y1="200.20" x2="542.70" y2="200.20" stroke="#1e1eff" stroke-width="1.0"/>
<line x1="539.50" y1="202.20" x2="542.70" y2="202.20" stroke="#1e1eff" stroke-width="1.0"/>
<line x1="558.10" y1="198.00" x2="558.10" y2="203.00" stroke="#1e1eff" stroke-width="1.0"/>
<line x1="556.50" y1="198.00" x2="559.70" y2="198.00" stroke="#1e1eff" stroke-width="1.0"/>
<line x1="556.50" y1="203.00" x2="559.70" y2="203.00" stroke="#1e1eff" stroke-width="1.0"/>
<circle cx="490.10" cy="202.00" r="1.90" fill="#1e1eff"/>
<circle cx="507.10" cy="201.70" r="1.90" fill="#1e1eff"/>
<circle cx="524.10" cy="201.20" r="1.90" fill="#1e1eff"/>
<circle cx="541.10" cy="201.20" r="1.90" fill="#1e1eff"/>
<circle cx="558.10" cy="200.50" r="1.90" fill="#1e1eff"/>
<text x="495.00" y="178.00" font-size="12.02" textLength="21.00" lengthAdjust="spacingAndGlyphs" fill="#f8234a" stroke="#f8234a">pGS</text>
<text x="492.40" y="214.80" font-size="12.02" textLength="14.00" lengthAdjust="spacingAndGlyphs" fill="#1f1ff5" stroke="#1f1ff5">GS</text>
<path d="M558.10,177.20L558.10,174.38M558.10,177.20L560.78,176.33M558.10,177.20L559.76,179.48M558.10,177.20L556.44,179.48M558.10,177.20L555.42,176.33" stroke="#ff3a2a" stroke-width="1.26" stroke-linecap="butt" fill="none"/>
<path d="M558.10,182.60L558.10,179.78M558.10,182.60L560.78,181.73M558.10,182.60L559.76,184.88M558.10,182.60L556.44,184.88M558.10,182.60L555.42,181.73" stroke="#ff3a2a" stroke-width="1.26" stroke-linecap="butt" fill="none"/>
<polyline points="589.50,176.60 606.50,181.50 623.50,195.20 640.50,195.90 657.50,200.50" fill="none" stroke="#ff3a2a" stroke-width="1.1" stroke-dasharray="3.2,2"/>
<line x1="589.50" y1="175.60" x2="589.50" y2="177.60" stroke="#ff3a2a" stroke-width="1.0"/>
<line x1="587.90" y1="175.60" x2="591.10" y2="175.60" stroke="#ff3a2a" stroke-width="1.0"/>
<line x1="587.90" y1="177.60" x2="591.10" y2="177.60" stroke="#ff3a2a" stroke-width="1.0"/>
<line x1="606.50" y1="177.50" x2="606.50" y2="185.50" stroke="#ff3a2a" stroke-width="1.0"/>
<line x1="604.90" y1="177.50" x2="608.10" y2="177.50" stroke="#ff3a2a" stroke-width="1.0"/>
<line x1="604.90" y1="185.50" x2="608.10" y2="185.50" stroke="#ff3a2a" stroke-width="1.0"/>
<line x1="623.50" y1="193.70" x2="623.50" y2="196.70" stroke="#ff3a2a" stroke-width="1.0"/>
<line x1="621.90" y1="193.70" x2="625.10" y2="193.70" stroke="#ff3a2a" stroke-width="1.0"/>
<line x1="621.90" y1="196.70" x2="625.10" y2="196.70" stroke="#ff3a2a" stroke-width="1.0"/>
<line x1="640.50" y1="194.40" x2="640.50" y2="197.40" stroke="#ff3a2a" stroke-width="1.0"/>
<line x1="638.90" y1="194.40" x2="642.10" y2="194.40" stroke="#ff3a2a" stroke-width="1.0"/>
<line x1="638.90" y1="197.40" x2="642.10" y2="197.40" stroke="#ff3a2a" stroke-width="1.0"/>
<line x1="657.50" y1="196.50" x2="657.50" y2="204.50" stroke="#ff3a2a" stroke-width="1.0"/>
<line x1="655.90" y1="196.50" x2="659.10" y2="196.50" stroke="#ff3a2a" stroke-width="1.0"/>
<line x1="655.90" y1="204.50" x2="659.10" y2="204.50" stroke="#ff3a2a" stroke-width="1.0"/>
<circle cx="589.50" cy="176.60" r="1.90" fill="#ff3a2a"/>
<circle cx="606.50" cy="181.50" r="1.90" fill="#ff3a2a"/>
<circle cx="623.50" cy="195.20" r="1.90" fill="#ff3a2a"/>
<circle cx="640.50" cy="195.90" r="1.90" fill="#ff3a2a"/>
<circle cx="657.50" cy="200.50" r="1.90" fill="#ff3a2a"/>
<polyline points="589.50,211.80 606.50,206.90 623.50,199.90 640.50,198.70 657.50,197.00" fill="none" stroke="#1e1eff" stroke-width="1.1" stroke-dasharray="3.2,2"/>
<line x1="589.50" y1="210.80" x2="589.50" y2="212.80" stroke="#1e1eff" stroke-width="1.0"/>
<line x1="587.90" y1="210.80" x2="591.10" y2="210.80" stroke="#1e1eff" stroke-width="1.0"/>
<line x1="587.90" y1="212.80" x2="591.10" y2="212.80" stroke="#1e1eff" stroke-width="1.0"/>
<line x1="606.50" y1="205.90" x2="606.50" y2="207.90" stroke="#1e1eff" stroke-width="1.0"/>
<line x1="604.90" y1="205.90" x2="608.10" y2="205.90" stroke="#1e1eff" stroke-width="1.0"/>
<line x1="604.90" y1="207.90" x2="608.10" y2="207.90" stroke="#1e1eff" stroke-width="1.0"/>
<line x1="623.50" y1="196.90" x2="623.50" y2="202.90" stroke="#1e1eff" stroke-width="1.0"/>
<line x1="621.90" y1="196.90" x2="625.10" y2="196.90" stroke="#1e1eff" stroke-width="1.0"/>
<line x1="621.90" y1="202.90" x2="625.10" y2="202.90" stroke="#1e1eff" stroke-width="1.0"/>
<line x1="640.50" y1="197.20" x2="640.50" y2="200.20" stroke="#1e1eff" stroke-width="1.0"/>
<line x1="638.90" y1="197.20" x2="642.10" y2="197.20" stroke="#1e1eff" stroke-width="1.0"/>
<line x1="638.90" y1="200.20" x2="642.10" y2="200.20" stroke="#1e1eff" stroke-width="1.0"/>
<line x1="657.50" y1="194.00" x2="657.50" y2="200.00" stroke="#1e1eff" stroke-width="1.0"/>
<line x1="655.90" y1="194.00" x2="659.10" y2="194.00" stroke="#1e1eff" stroke-width="1.0"/>
<line x1="655.90" y1="200.00" x2="659.10" y2="200.00" stroke="#1e1eff" stroke-width="1.0"/>
<circle cx="589.50" cy="211.80" r="1.90" fill="#1e1eff"/>
<circle cx="606.50" cy="206.90" r="1.90" fill="#1e1eff"/>
<circle cx="623.50" cy="199.90" r="1.90" fill="#1e1eff"/>
<circle cx="640.50" cy="198.70" r="1.90" fill="#1e1eff"/>
<circle cx="657.50" cy="197.00" r="1.90" fill="#1e1eff"/>
<text x="583.90" y="190.30" font-size="12.02" textLength="21.40" lengthAdjust="spacingAndGlyphs" fill="#f8234a" stroke="#f8234a">pGS</text>
<text x="591.30" y="202.90" font-size="12.02" textLength="14.90" lengthAdjust="spacingAndGlyphs" fill="#1f1ff5" stroke="#1f1ff5">GS</text>
<path d="M623.50,178.40L623.50,175.58M623.50,178.40L626.18,177.53M623.50,178.40L625.16,180.68M623.50,178.40L621.84,180.68M623.50,178.40L620.82,177.53" stroke="#ff3a2a" stroke-width="1.26" stroke-linecap="butt" fill="none"/>
<path d="M623.50,184.00L623.50,181.18M623.50,184.00L626.18,183.13M623.50,184.00L625.16,186.28M623.50,184.00L621.84,186.28M623.50,184.00L620.82,183.13" stroke="#ff3a2a" stroke-width="1.26" stroke-linecap="butt" fill="none"/>
<path d="M623.50,189.60L623.50,186.78M623.50,189.60L626.18,188.73M623.50,189.60L625.16,191.88M623.50,189.60L621.84,191.88M623.50,189.60L620.82,188.73" stroke="#ff3a2a" stroke-width="1.26" stroke-linecap="butt" fill="none"/>
<path d="M640.50,178.40L640.50,175.58M640.50,178.40L643.18,177.53M640.50,178.40L642.16,180.68M640.50,178.40L638.84,180.68M640.50,178.40L637.82,177.53" stroke="#ff3a2a" stroke-width="1.26" stroke-linecap="butt" fill="none"/>
<path d="M640.50,184.00L640.50,181.18M640.50,184.00L643.18,183.13M640.50,184.00L642.16,186.28M640.50,184.00L638.84,186.28M640.50,184.00L637.82,183.13" stroke="#ff3a2a" stroke-width="1.26" stroke-linecap="butt" fill="none"/>
<path d="M640.50,189.60L640.50,186.78M640.50,189.60L643.18,188.73M640.50,189.60L642.16,191.88M640.50,189.60L638.84,191.88M640.50,189.60L637.82,188.73" stroke="#ff3a2a" stroke-width="1.26" stroke-linecap="butt" fill="none"/>
<path d="M657.50,178.40L657.50,175.58M657.50,178.40L660.18,177.53M657.50,178.40L659.16,180.68M657.50,178.40L655.84,180.68M657.50,178.40L654.82,177.53" stroke="#ff3a2a" stroke-width="1.26" stroke-linecap="butt" fill="none"/>
<path d="M657.50,184.00L657.50,181.18M657.50,184.00L660.18,183.13M657.50,184.00L659.16,186.28M657.50,184.00L655.84,186.28M657.50,184.00L654.82,183.13" stroke="#ff3a2a" stroke-width="1.26" stroke-linecap="butt" fill="none"/>
<path d="M657.50,189.60L657.50,186.78M657.50,189.60L660.18,188.73M657.50,189.60L659.16,191.88M657.50,189.60L655.84,191.88M657.50,189.60L654.82,188.73" stroke="#ff3a2a" stroke-width="1.26" stroke-linecap="butt" fill="none"/>
<path d="M627.00,203.40L627.00,200.58M627.00,203.40L629.68,202.53M627.00,203.40L628.66,205.68M627.00,203.40L625.34,205.68M627.00,203.40L624.32,202.53" stroke="#1e1eff" stroke-width="1.26" stroke-linecap="butt" fill="none"/>
<path d="M627.00,209.00L627.00,206.18M627.00,209.00L629.68,208.13M627.00,209.00L628.66,211.28M627.00,209.00L625.34,211.28M627.00,209.00L624.32,208.13" stroke="#1e1eff" stroke-width="1.26" stroke-linecap="butt" fill="none"/>
<path d="M627.00,214.60L627.00,211.78M627.00,214.60L629.68,213.73M627.00,214.60L628.66,216.88M627.00,214.60L625.34,216.88M627.00,214.60L624.32,213.73" stroke="#1e1eff" stroke-width="1.26" stroke-linecap="butt" fill="none"/>
<path d="M644.00,203.40L644.00,200.58M644.00,203.40L646.68,202.53M644.00,203.40L645.66,205.68M644.00,203.40L642.34,205.68M644.00,203.40L641.32,202.53" stroke="#1e1eff" stroke-width="1.26" stroke-linecap="butt" fill="none"/>
<path d="M644.00,209.00L644.00,206.18M644.00,209.00L646.68,208.13M644.00,209.00L645.66,211.28M644.00,209.00L642.34,211.28M644.00,209.00L641.32,208.13" stroke="#1e1eff" stroke-width="1.26" stroke-linecap="butt" fill="none"/>
<path d="M644.00,214.60L644.00,211.78M644.00,214.60L646.68,213.73M644.00,214.60L645.66,216.88M644.00,214.60L642.34,216.88M644.00,214.60L641.32,213.73" stroke="#1e1eff" stroke-width="1.26" stroke-linecap="butt" fill="none"/>
<path d="M662.80,192.20L662.80,189.38M662.80,192.20L665.48,191.33M662.80,192.20L664.46,194.48M662.80,192.20L661.14,194.48M662.80,192.20L660.12,191.33" stroke="#1e1eff" stroke-width="1.26" stroke-linecap="butt" fill="none"/>
<path d="M662.80,197.60L662.80,194.78M662.80,197.60L665.48,196.73M662.80,197.60L664.46,199.88M662.80,197.60L661.14,199.88M662.80,197.60L660.12,196.73" stroke="#1e1eff" stroke-width="1.26" stroke-linecap="butt" fill="none"/>
<path d="M662.80,203.00L662.80,200.18M662.80,203.00L665.48,202.13M662.80,203.00L664.46,205.28M662.80,203.00L661.14,205.28M662.80,203.00L660.12,202.13" stroke="#1e1eff" stroke-width="1.26" stroke-linecap="butt" fill="none"/>
<polyline points="392.20,239.70 409.20,247.60 426.20,247.60 443.20,245.40 460.20,245.00" fill="none" stroke="#1e1eff" stroke-width="1.1"/>
<line x1="392.20" y1="236.20" x2="392.20" y2="243.20" stroke="#1e1eff" stroke-width="1.0"/>
<line x1="390.60" y1="236.20" x2="393.80" y2="236.20" stroke="#1e1eff" stroke-width="1.0"/>
<line x1="390.60" y1="243.20" x2="393.80" y2="243.20" stroke="#1e1eff" stroke-width="1.0"/>
<line x1="409.20" y1="242.60" x2="409.20" y2="252.60" stroke="#1e1eff" stroke-width="1.0"/>
<line x1="407.60" y1="242.60" x2="410.80" y2="242.60" stroke="#1e1eff" stroke-width="1.0"/>
<line x1="407.60" y1="252.60" x2="410.80" y2="252.60" stroke="#1e1eff" stroke-width="1.0"/>
<line x1="426.20" y1="244.60" x2="426.20" y2="250.60" stroke="#1e1eff" stroke-width="1.0"/>
<line x1="424.60" y1="244.60" x2="427.80" y2="244.60" stroke="#1e1eff" stroke-width="1.0"/>
<line x1="424.60" y1="250.60" x2="427.80" y2="250.60" stroke="#1e1eff" stroke-width="1.0"/>
<line x1="443.20" y1="236.40" x2="443.20" y2="254.40" stroke="#1e1eff" stroke-width="1.0"/>
<line x1="441.60" y1="236.40" x2="444.80" y2="236.40" stroke="#1e1eff" stroke-width="1.0"/>
<line x1="441.60" y1="254.40" x2="444.80" y2="254.40" stroke="#1e1eff" stroke-width="1.0"/>
<line x1="460.20" y1="238.00" x2="460.20" y2="252.00" stroke="#1e1eff" stroke-width="1.0"/>
<line x1="458.60" y1="238.00" x2="461.80" y2="238.00" stroke="#1e1eff" stroke-width="1.0"/>
<line x1="458.60" y1="252.00" x2="461.80" y2="252.00" stroke="#1e1eff" stroke-width="1.0"/>
<circle cx="392.20" cy="239.70" r="1.90" fill="#1e1eff"/>
<circle cx="409.20" cy="247.60" r="1.90" fill="#1e1eff"/>
<circle cx="426.20" cy="247.60" r="1.90" fill="#1e1eff"/>
<circle cx="443.20" cy="245.40" r="1.90" fill="#1e1eff"/>
<circle cx="460.20" cy="245.00" r="1.90" fill="#1e1eff"/>
<polyline points="392.20,239.70 409.20,250.10 426.20,253.90 443.20,255.20 460.20,254.30" fill="none" stroke="#ff3a2a" stroke-width="1.1"/>
<line x1="392.20" y1="236.20" x2="392.20" y2="243.20" stroke="#ff3a2a" stroke-width="1.0"/>
<line x1="390.60" y1="236.20" x2="393.80" y2="236.20" stroke="#ff3a2a" stroke-width="1.0"/>
<line x1="390.60" y1="243.20" x2="393.80" y2="243.20" stroke="#ff3a2a" stroke-width="1.0"/>
<line x1="409.20" y1="241.10" x2="409.20" y2="259.10" stroke="#ff3a2a" stroke-width="1.0"/>
<line x1="407.60" y1="241.10" x2="410.80" y2="241.10" stroke="#ff3a2a" stroke-width="1.0"/>
<line x1="407.60" y1="259.10" x2="410.80" y2="259.10" stroke="#ff3a2a" stroke-width="1.0"/>
<line x1="426.20" y1="251.40" x2="426.20" y2="256.40" stroke="#ff3a2a" stroke-width="1.0"/>
<line x1="424.60" y1="251.40" x2="427.80" y2="251.40" stroke="#ff3a2a" stroke-width="1.0"/>
<line x1="424.60" y1="256.40" x2="427.80" y2="256.40" stroke="#ff3a2a" stroke-width="1.0"/>
<line x1="443.20" y1="250.70" x2="443.20" y2="259.70" stroke="#ff3a2a" stroke-width="1.0"/>
<line x1="441.60" y1="250.70" x2="444.80" y2="250.70" stroke="#ff3a2a" stroke-width="1.0"/>
<line x1="441.60" y1="259.70" x2="444.80" y2="259.70" stroke="#ff3a2a" stroke-width="1.0"/>
<line x1="460.20" y1="253.50" x2="460.20" y2="255.10" stroke="#ff3a2a" stroke-width="1.0"/>
<line x1="458.60" y1="253.50" x2="461.80" y2="253.50" stroke="#ff3a2a" stroke-width="1.0"/>
<line x1="458.60" y1="255.10" x2="461.80" y2="255.10" stroke="#ff3a2a" stroke-width="1.0"/>
<circle cx="392.20" cy="239.70" r="1.90" fill="#ff3a2a"/>
<circle cx="409.20" cy="250.10" r="1.90" fill="#ff3a2a"/>
<circle cx="426.20" cy="253.90" r="1.90" fill="#ff3a2a"/>
<circle cx="443.20" cy="255.20" r="1.90" fill="#ff3a2a"/>
<circle cx="460.20" cy="254.30" r="1.90" fill="#ff3a2a"/>
<text x="402.60" y="234.90" font-size="12.02" textLength="28.90" lengthAdjust="spacingAndGlyphs" fill="#1f1ff5" stroke="#1f1ff5">GYG1</text>
<text x="388.00" y="271.90" font-size="12.02" textLength="29.40" lengthAdjust="spacingAndGlyphs" fill="#f8234a" stroke="#f8234a">GYG2</text>
<path d="M426.20,261.00L426.20,258.18M426.20,261.00L428.88,260.13M426.20,261.00L427.86,263.28M426.20,261.00L424.54,263.28M426.20,261.00L423.52,260.13" stroke="#ff3a2a" stroke-width="1.26" stroke-linecap="butt" fill="none"/>
<path d="M443.20,264.70L443.20,261.88M443.20,264.70L445.88,263.83M443.20,264.70L444.86,266.98M443.20,264.70L441.54,266.98M443.20,264.70L440.52,263.83" stroke="#ff3a2a" stroke-width="1.26" stroke-linecap="butt" fill="none"/>
<path d="M460.20,261.00L460.20,258.18M460.20,261.00L462.88,260.13M460.20,261.00L461.86,263.28M460.20,261.00L458.54,263.28M460.20,261.00L457.52,260.13" stroke="#ff3a2a" stroke-width="1.26" stroke-linecap="butt" fill="none"/>
<polyline points="490.10,243.00 507.10,249.50 524.10,247.90 541.10,251.80 558.10,246.50" fill="none" stroke="#ff3a2a" stroke-width="1.1"/>
<line x1="490.10" y1="238.50" x2="490.10" y2="247.50" stroke="#ff3a2a" stroke-width="1.0"/>
<line x1="488.50" y1="238.50" x2="491.70" y2="238.50" stroke="#ff3a2a" stroke-width="1.0"/>
<line x1="488.50" y1="247.50" x2="491.70" y2="247.50" stroke="#ff3a2a" stroke-width="1.0"/>
<line x1="507.10" y1="244.00" x2="507.10" y2="255.00" stroke="#ff3a2a" stroke-width="1.0"/>
<line x1="505.50" y1="244.00" x2="508.70" y2="244.00" stroke="#ff3a2a" stroke-width="1.0"/>
<line x1="505.50" y1="255.00" x2="508.70" y2="255.00" stroke="#ff3a2a" stroke-width="1.0"/>
<line x1="524.10" y1="237.40" x2="524.10" y2="258.40" stroke="#ff3a2a" stroke-width="1.0"/>
<line x1="522.50" y1="237.40" x2="525.70" y2="237.40" stroke="#ff3a2a" stroke-width="1.0"/>
<line x1="522.50" y1="258.40" x2="525.70" y2="258.40" stroke="#ff3a2a" stroke-width="1.0"/>
<line x1="541.10" y1="245.80" x2="541.10" y2="257.80" stroke="#ff3a2a" stroke-width="1.0"/>
<line x1="539.50" y1="245.80" x2="542.70" y2="245.80" stroke="#ff3a2a" stroke-width="1.0"/>
<line x1="539.50" y1="257.80" x2="542.70" y2="257.80" stroke="#ff3a2a" stroke-width="1.0"/>
<line x1="558.10" y1="232.00" x2="558.10" y2="261.00" stroke="#ff3a2a" stroke-width="1.0"/>
<line x1="556.50" y1="232.00" x2="559.70" y2="232.00" stroke="#ff3a2a" stroke-width="1.0"/>
<line x1="556.50" y1="261.00" x2="559.70" y2="261.00" stroke="#ff3a2a" stroke-width="1.0"/>
<circle cx="490.10" cy="243.00" r="1.90" fill="#ff3a2a"/>
<circle cx="507.10" cy="249.50" r="1.90" fill="#ff3a2a"/>
<circle cx="524.10" cy="247.90" r="1.90" fill="#ff3a2a"/>
<circle cx="541.10" cy="251.80" r="1.90" fill="#ff3a2a"/>
<circle cx="558.10" cy="246.50" r="1.90" fill="#ff3a2a"/>
<polyline points="490.10,276.00 507.10,276.00 524.10,276.00 541.10,276.00 558.10,276.00" fill="none" stroke="#1e1eff" stroke-width="1.6"/>
<rect x="488.50" y="274.40" width="3.20" height="3.20" fill="#1e1eff"/>
<rect x="505.50" y="274.40" width="3.20" height="3.20" fill="#1e1eff"/>
<rect x="522.50" y="274.40" width="3.20" height="3.20" fill="#1e1eff"/>
<rect x="539.50" y="274.40" width="3.20" height="3.20" fill="#1e1eff"/>
<rect x="556.50" y="274.40" width="3.20" height="3.20" fill="#1e1eff"/>
<text x="519.20" y="235.70" font-size="12.02" textLength="28.40" lengthAdjust="spacingAndGlyphs" fill="#f8234a" stroke="#f8234a">GYG2</text>
<text x="525.20" y="271.60" font-size="12.02" textLength="28.00" lengthAdjust="spacingAndGlyphs" fill="#1f1ff5" stroke="#1f1ff5">GYG1</text>
<polyline points="589.50,245.10 606.50,241.60 623.50,242.20 640.50,242.70 657.50,242.70" fill="none" stroke="#1e1eff" stroke-width="1.1"/>
<line x1="589.50" y1="244.50" x2="589.50" y2="245.70" stroke="#1e1eff" stroke-width="1.0"/>
<line x1="587.90" y1="244.50" x2="591.10" y2="244.50" stroke="#1e1eff" stroke-width="1.0"/>
<line x1="587.90" y1="245.70" x2="591.10" y2="245.70" stroke="#1e1eff" stroke-width="1.0"/>
<line x1="606.50" y1="239.10" x2="606.50" y2="244.10" stroke="#1e1eff" stroke-width="1.0"/>
<line x1="604.90" y1="239.10" x2="608.10" y2="239.10" stroke="#1e1eff" stroke-width="1.0"/>
<line x1="604.90" y1="244.10" x2="608.10" y2="244.10" stroke="#1e1eff" stroke-width="1.0"/>
<line x1="623.50" y1="239.70" x2="623.50" y2="244.70" stroke="#1e1eff" stroke-width="1.0"/>
<line x1="621.90" y1="239.70" x2="625.10" y2="239.70" stroke="#1e1eff" stroke-width="1.0"/>
<line x1="621.90" y1="244.70" x2="625.10" y2="244.70" stroke="#1e1eff" stroke-width="1.0"/>
<line x1="640.50" y1="238.20" x2="640.50" y2="247.20" stroke="#1e1eff" stroke-width="1.0"/>
<line x1="638.90" y1="238.20" x2="642.10" y2="238.20" stroke="#1e1eff" stroke-width="1.0"/>
<line x1="638.90" y1="247.20" x2="642.10" y2="247.20" stroke="#1e1eff" stroke-width="1.0"/>
<line x1="657.50" y1="238.20" x2="657.50" y2="247.20" stroke="#1e1eff" stroke-width="1.0"/>
<line x1="655.90" y1="238.20" x2="659.10" y2="238.20" stroke="#1e1eff" stroke-width="1.0"/>
<line x1="655.90" y1="247.20" x2="659.10" y2="247.20" stroke="#1e1eff" stroke-width="1.0"/>
<circle cx="589.50" cy="245.10" r="1.90" fill="#1e1eff"/>
<circle cx="606.50" cy="241.60" r="1.90" fill="#1e1eff"/>
<circle cx="623.50" cy="242.20" r="1.90" fill="#1e1eff"/>
<circle cx="640.50" cy="242.70" r="1.90" fill="#1e1eff"/>
<circle cx="657.50" cy="242.70" r="1.90" fill="#1e1eff"/>
<polyline points="589.50,276.00 606.50,276.00 623.50,276.00 640.50,276.00 657.50,276.00" fill="none" stroke="#ff3a2a" stroke-width="1.6"/>
<rect x="587.90" y="274.40" width="3.20" height="3.20" fill="#ff3a2a"/>
<rect x="604.90" y="274.40" width="3.20" height="3.20" fill="#ff3a2a"/>
<rect x="621.90" y="274.40" width="3.20" height="3.20" fill="#ff3a2a"/>
<rect x="638.90" y="274.40" width="3.20" height="3.20" fill="#ff3a2a"/>
<rect x="655.90" y="274.40" width="3.20" height="3.20" fill="#ff3a2a"/>
<text x="621.90" y="233.90" font-size="12.02" textLength="28.10" lengthAdjust="spacingAndGlyphs" fill="#1f1ff5" stroke="#1f1ff5">GYG1</text>
<text x="622.80" y="271.90" font-size="12.02" textLength="28.90" lengthAdjust="spacingAndGlyphs" fill="#f8234a" stroke="#f8234a">GYG2</text>
<text x="392.20" y="285.40" font-size="10.45" text-anchor="middle" textLength="5.56" lengthAdjust="spacingAndGlyphs" stroke="#000">0</text>
<text x="409.20" y="285.40" font-size="10.45" text-anchor="middle" textLength="5.56" lengthAdjust="spacingAndGlyphs" stroke="#000">1</text>
<text x="426.20" y="285.40" font-size="10.45" text-anchor="middle" textLength="5.56" lengthAdjust="spacingAndGlyphs" stroke="#000">2</text>
<text x="443.20" y="285.40" font-size="10.45" text-anchor="middle" textLength="5.56" lengthAdjust="spacingAndGlyphs" stroke="#000">3</text>
<text x="460.20" y="285.40" font-size="10.45" text-anchor="middle" textLength="5.56" lengthAdjust="spacingAndGlyphs" stroke="#000">4</text>
<text x="490.10" y="285.40" font-size="10.45" text-anchor="middle" textLength="5.56" lengthAdjust="spacingAndGlyphs" stroke="#000">0</text>
<text x="507.10" y="285.40" font-size="10.45" text-anchor="middle" textLength="5.56" lengthAdjust="spacingAndGlyphs" stroke="#000">1</text>
<text x="524.10" y="285.40" font-size="10.45" text-anchor="middle" textLength="5.56" lengthAdjust="spacingAndGlyphs" stroke="#000">2</text>
<text x="541.10" y="285.40" font-size="10.45" text-anchor="middle" textLength="5.56" lengthAdjust="spacingAndGlyphs" stroke="#000">3</text>
<text x="558.10" y="285.40" font-size="10.45" text-anchor="middle" textLength="5.56" lengthAdjust="spacingAndGlyphs" stroke="#000">4</text>
<text x="589.50" y="285.40" font-size="10.45" text-anchor="middle" textLength="5.56" lengthAdjust="spacingAndGlyphs" stroke="#000">0</text>
<text x="606.50" y="285.40" font-size="10.45" text-anchor="middle" textLength="5.56" lengthAdjust="spacingAndGlyphs" stroke="#000">1</text>
<text x="623.50" y="285.40" font-size="10.45" text-anchor="middle" textLength="5.56" lengthAdjust="spacingAndGlyphs" stroke="#000">2</text>
<text x="640.50" y="285.40" font-size="10.45" text-anchor="middle" textLength="5.56" lengthAdjust="spacingAndGlyphs" stroke="#000">3</text>
<text x="657.50" y="285.40" font-size="10.45" text-anchor="middle" textLength="5.56" lengthAdjust="spacingAndGlyphs" stroke="#000">4</text>
<text x="666.30" y="285.40" font-size="10.45" textLength="9.90" lengthAdjust="spacingAndGlyphs" stroke="#000">hr</text>
<text x="0.80" y="323.60" font-size="16.72" textLength="8.60" lengthAdjust="spacingAndGlyphs" stroke="#000">c</text>
<text x="51.90" y="323.40" font-size="11.29" textLength="235.00" lengthAdjust="spacingAndGlyphs" fill="#1f1ff5" stroke="#1f1ff5">Under metabolic change conditions for Co-IP</text>
<line x1="51.90" y1="326.40" x2="288.00" y2="326.40" stroke="#1f1ff5" stroke-width="1.5"/>
<text x="154.30" y="337.20" font-size="11.7" textLength="36.50" lengthAdjust="spacingAndGlyphs" stroke="#000">IP:Flag</text>
<line x1="62.40" y1="339.00" x2="280.20" y2="339.00" stroke="#000" stroke-width="1.4"/>
<text x="63.50" y="359.40" font-size="11.08" textLength="52.50" lengthAdjust="spacingAndGlyphs" stroke="#000">GYG1-Flag</text>
<text x="141.20" y="359.40" font-size="11.08" textLength="52.10" lengthAdjust="spacingAndGlyphs" stroke="#000">GYG2-Flag</text>
<text x="228.00" y="347.60" font-size="11.08" textLength="45.50" lengthAdjust="spacingAndGlyphs" stroke="#000">OE:GYG2</text>
<text x="219.40" y="359.40" font-size="11.08" textLength="63.20" lengthAdjust="spacingAndGlyphs" stroke="#000">in GYG1-Flag</text>
<line x1="63.00" y1="361.60" x2="122.00" y2="361.60" stroke="#000" stroke-width="1.4"/>
<line x1="139.90" y1="361.60" x2="200.70" y2="361.60" stroke="#000" stroke-width="1.4"/>
<line x1="222.30" y1="361.60" x2="278.90" y2="361.60" stroke="#000" stroke-width="1.4"/>
<text x="66.10" y="372.30" font-size="10.03" textLength="20.40" lengthAdjust="spacingAndGlyphs" stroke="#000">FSK</text>
<text x="97.90" y="372.30" font-size="10.03" textLength="20.30" lengthAdjust="spacingAndGlyphs" stroke="#000">GLC</text>
<text x="143.70" y="372.30" font-size="10.03" textLength="21.00" lengthAdjust="spacingAndGlyphs" stroke="#000">FSK</text>
<text x="176.70" y="372.30" font-size="10.03" textLength="20.30" lengthAdjust="spacingAndGlyphs" stroke="#000">GLC</text>
<text x="225.60" y="372.30" font-size="10.03" textLength="19.80" lengthAdjust="spacingAndGlyphs" stroke="#000">FSK</text>
<text x="257.10" y="372.30" font-size="10.03" textLength="21.10" lengthAdjust="spacingAndGlyphs" stroke="#000">GLC</text>
<line x1="63.00" y1="374.50" x2="89.80" y2="374.50" stroke="#000" stroke-width="1.4"/>
<line x1="95.90" y1="374.50" x2="122.20" y2="374.50" stroke="#000" stroke-width="1.4"/>
<line x1="141.20" y1="374.50" x2="167.70" y2="374.50" stroke="#000" stroke-width="1.4"/>
<line x1="174.70" y1="374.50" x2="200.70" y2="374.50" stroke="#000" stroke-width="1.4"/>
<line x1="222.30" y1="374.50" x2="248.60" y2="374.50" stroke="#000" stroke-width="1.4"/>
<line x1="254.60" y1="374.50" x2="281.40" y2="374.50" stroke="#000" stroke-width="1.4"/>
<text x="67.40" y="384.00" font-size="10.03" text-anchor="middle" textLength="5.34" lengthAdjust="spacingAndGlyphs" stroke="#000">1</text>
<text x="84.30" y="384.00" font-size="10.03" text-anchor="middle" textLength="5.34" lengthAdjust="spacingAndGlyphs" stroke="#000">4</text>
<text x="99.00" y="384.00" font-size="10.03" text-anchor="middle" textLength="5.34" lengthAdjust="spacingAndGlyphs" stroke="#000">1</text>
<text x="116.00" y="384.00" font-size="10.03" text-anchor="middle" textLength="5.34" lengthAdjust="spacingAndGlyphs" stroke="#000">4</text>
<text x="122.80" y="384.00" font-size="9.72" textLength="9.00" lengthAdjust="spacingAndGlyphs" stroke="#000">hr</text>
<text x="145.40" y="384.00" font-size="10.03" text-anchor="middle" textLength="5.34" lengthAdjust="spacingAndGlyphs" stroke="#000">1</text>
<text x="162.80" y="384.00" font-size="10.03" text-anchor="middle" textLength="5.34" lengthAdjust="spacingAndGlyphs" stroke="#000">4</text>
<text x="177.20" y="384.00" font-size="10.03" text-anchor="middle" textLength="5.34" lengthAdjust="spacingAndGlyphs" stroke="#000">1</text>
<text x="194.00" y="384.00" font-size="10.03" text-anchor="middle" textLength="5.34" lengthAdjust="spacingAndGlyphs" stroke="#000">4</text>
<text x="202.00" y="384.00" font-size="9.72" textLength="9.00" lengthAdjust="spacingAndGlyphs" stroke="#000">hr</text>
<text x="226.80" y="384.00" font-size="10.03" text-anchor="middle" textLength="5.34" lengthAdjust="spacingAndGlyphs" stroke="#000">1</text>
<text x="243.70" y="384.00" font-size="10.03" text-anchor="middle" textLength="5.34" lengthAdjust="spacingAndGlyphs" stroke="#000">4</text>
<text x="257.80" y="384.00" font-size="10.03" text-anchor="middle" textLength="5.34" lengthAdjust="spacingAndGlyphs" stroke="#000">1</text>
<text x="275.90" y="384.00" font-size="10.03" text-anchor="middle" textLength="5.34" lengthAdjust="spacingAndGlyphs" stroke="#000">4</text>
<text x="281.50" y="384.00" font-size="9.72" textLength="9.00" lengthAdjust="spacingAndGlyphs" stroke="#000">hr</text>
<text x="55.20" y="395.80" font-size="14.0" text-anchor="end" textLength="24.30" lengthAdjust="spacingAndGlyphs" stroke="#000">pGS</text>
<text x="55.00" y="406.60" font-size="10.03" text-anchor="end" textLength="35.20" lengthAdjust="spacingAndGlyphs" stroke="#000">(85kDa)</text>
<text x="55.20" y="424.60" font-size="13.58" text-anchor="end" textLength="16.60" lengthAdjust="spacingAndGlyphs" stroke="#000">GS</text>
<text x="55.00" y="434.20" font-size="10.03" text-anchor="end" textLength="35.20" lengthAdjust="spacingAndGlyphs" stroke="#000">(84kDa)</text>
<text x="55.00" y="451.20" font-size="13.58" text-anchor="end" textLength="24.10" lengthAdjust="spacingAndGlyphs" stroke="#000">Flag</text>
<rect x="58.00" y="386.00" width="229.10" height="19.70" fill="#e8e8e8" stroke="#333" stroke-width="1.2"/>
<rect x="61.50" y="395.30" width="14.00" height="7.40" rx="2.96" fill="#000" fill-opacity="0.99" filter="url(#bl2)"/>
<rect x="78.30" y="398.00" width="12.00" height="4.00" rx="1.60" fill="#000" fill-opacity="0.13" filter="url(#bl2)"/>
<rect x="94.80" y="397.50" width="12.00" height="3.60" rx="1.44" fill="#000" fill-opacity="0.80" filter="url(#bl2)"/>
<rect x="109.85" y="396.10" width="13.50" height="5.40" rx="2.16" fill="#000" fill-opacity="0.97" filter="url(#bl2)"/>
<rect x="144.50" y="397.00" width="11.00" height="4.00" rx="1.60" fill="#000" fill-opacity="0.20" filter="url(#bl2)"/>
<rect x="160.30" y="397.00" width="11.00" height="4.00" rx="1.60" fill="#000" fill-opacity="0.16" filter="url(#bl2)"/>
<rect x="175.90" y="397.00" width="11.00" height="4.00" rx="1.60" fill="#000" fill-opacity="0.20" filter="url(#bl2)"/>
<rect x="191.50" y="397.00" width="11.00" height="4.00" rx="1.60" fill="#000" fill-opacity="0.22" filter="url(#bl2)"/>
<rect x="223.40" y="394.20" width="14.00" height="7.60" rx="3.04" fill="#000" fill-opacity="0.99" filter="url(#bl2)"/>
<rect x="241.90" y="397.25" width="10.00" height="3.50" rx="1.40" fill="#000" fill-opacity="0.12" filter="url(#bl2)"/>
<rect x="257.00" y="396.35" width="13.00" height="4.50" rx="1.80" fill="#000" fill-opacity="0.88" filter="url(#bl2)"/>
<rect x="271.95" y="391.60" width="14.50" height="10.00" rx="4.00" fill="#000" fill-opacity="0.99" filter="url(#bl2)"/>
<rect x="128.80" y="401.55" width="11.00" height="2.50" rx="1.00" fill="#000" fill-opacity="0.12" filter="url(#bl)"/>
<rect x="208.20" y="401.30" width="11.00" height="3.00" rx="1.20" fill="#000" fill-opacity="0.12" filter="url(#bl)"/>
<rect x="58.00" y="411.40" width="229.10" height="23.80" fill="#ededed" stroke="#333" stroke-width="1.2"/>
<rect x="61.50" y="418.50" width="14.00" height="8.80" rx="3.52" fill="#000" fill-opacity="0.97" filter="url(#bl2)"/>
<rect x="77.80" y="424.70" width="13.00" height="6.00" rx="2.40" fill="#000" fill-opacity="0.50" filter="url(#bl2)"/>
<rect x="93.80" y="424.60" width="14.00" height="8.00" rx="3.20" fill="#000" fill-opacity="0.97" filter="url(#bl2)"/>
<rect x="110.10" y="424.00" width="13.00" height="7.00" rx="2.80" fill="#000" fill-opacity="0.55" filter="url(#bl2)"/>
<rect x="144.50" y="421.75" width="11.00" height="5.50" rx="2.20" fill="#000" fill-opacity="0.20" filter="url(#bl2)"/>
<rect x="160.30" y="421.75" width="11.00" height="5.50" rx="2.20" fill="#000" fill-opacity="0.17" filter="url(#bl2)"/>
<rect x="175.90" y="420.95" width="11.00" height="5.50" rx="2.20" fill="#000" fill-opacity="0.22" filter="url(#bl2)"/>
<rect x="191.50" y="420.95" width="11.00" height="5.50" rx="2.20" fill="#000" fill-opacity="0.20" filter="url(#bl2)"/>
<rect x="223.40" y="418.00" width="14.00" height="9.40" rx="3.76" fill="#000" fill-opacity="0.99" filter="url(#bl2)"/>
<rect x="239.90" y="420.75" width="14.00" height="9.50" rx="3.80" fill="#000" fill-opacity="0.99" filter="url(#bl2)"/>
<rect x="256.25" y="418.20" width="14.50" height="12.00" rx="4.80" fill="#000" fill-opacity="0.99" filter="url(#bl2)"/>
<rect x="272.20" y="419.10" width="14.00" height="10.00" rx="4.00" fill="#000" fill-opacity="0.99" filter="url(#bl2)"/>
<rect x="58.30" y="440.40" width="70.30" height="16.80" fill="#f0f0f0" stroke="#333" stroke-width="1.2"/>
<rect x="61.50" y="445.05" width="14.00" height="6.50" rx="2.60" fill="#000" fill-opacity="0.95" filter="url(#bl)"/>
<rect x="77.30" y="447.50" width="14.00" height="5.00" rx="2.00" fill="#000" fill-opacity="0.70" filter="url(#bl)"/>
<rect x="93.80" y="447.50" width="14.00" height="6.00" rx="2.40" fill="#000" fill-opacity="0.97" filter="url(#bl)"/>
<rect x="109.60" y="446.70" width="14.00" height="5.00" rx="2.00" fill="#000" fill-opacity="0.85" filter="url(#bl)"/>
<rect x="143.10" y="440.40" width="61.30" height="16.80" fill="#f0f0f0" stroke="#333" stroke-width="1.2"/>
<rect x="142.30" y="445.00" width="13.00" height="2.80" rx="1.12" fill="#000" fill-opacity="0.75" filter="url(#bl)"/>
<rect x="142.30" y="449.00" width="13.00" height="3.60" rx="1.44" fill="#000" fill-opacity="0.95" filter="url(#bl)"/>
<rect x="158.10" y="445.00" width="13.00" height="2.80" rx="1.12" fill="#000" fill-opacity="0.75" filter="url(#bl)"/>
<rect x="158.10" y="449.00" width="13.00" height="3.60" rx="1.44" fill="#000" fill-opacity="0.95" filter="url(#bl)"/>
<rect x="173.70" y="445.00" width="13.00" height="2.80" rx="1.12" fill="#000" fill-opacity="0.75" filter="url(#bl)"/>
<rect x="173.70" y="449.00" width="13.00" height="3.60" rx="1.44" fill="#000" fill-opacity="0.95" filter="url(#bl)"/>
<rect x="189.30" y="445.00" width="13.00" height="2.80" rx="1.12" fill="#000" fill-opacity="0.75" filter="url(#bl)"/>
<rect x="189.30" y="449.00" width="13.00" height="3.60" rx="1.44" fill="#000" fill-opacity="0.95" filter="url(#bl)"/>
<rect x="221.20" y="441.00" width="66.30" height="16.40" fill="#f0f0f0" stroke="#333" stroke-width="1.2"/>
<rect x="223.40" y="448.20" width="14.00" height="6.00" rx="2.40" fill="#000" fill-opacity="0.95" filter="url(#bl)"/>
<rect x="239.90" y="449.70" width="14.00" height="4.00" rx="1.60" fill="#000" fill-opacity="0.75" filter="url(#bl)"/>
<rect x="256.50" y="448.10" width="14.00" height="5.00" rx="2.00" fill="#000" fill-opacity="0.85" filter="url(#bl)"/>
<rect x="272.20" y="445.70" width="14.00" height="6.00" rx="2.40" fill="#000" fill-opacity="0.85" filter="url(#bl)"/>
<text x="75.70" y="467.00" font-size="10.66" textLength="33.50" lengthAdjust="spacingAndGlyphs" stroke="#000">(GYG1)</text>
<text x="157.60" y="467.00" font-size="10.66" textLength="35.40" lengthAdjust="spacingAndGlyphs" stroke="#000">(GYG2)</text>
<text x="237.70" y="467.00" font-size="10.66" textLength="35.50" lengthAdjust="spacingAndGlyphs" stroke="#000">(GYG1)</text>
<rect x="288.40" y="403.10" width="1.4" height="1.3" fill="#000"/>
<text x="291.50" y="406.59" font-size="8.15" textLength="8.80" lengthAdjust="spacingAndGlyphs" stroke="#000">75</text>
<rect x="288.40" y="431.60" width="1.4" height="1.3" fill="#000"/>
<text x="291.50" y="435.09" font-size="8.15" textLength="8.80" lengthAdjust="spacingAndGlyphs" stroke="#000">75</text>
<rect x="129.20" y="454.40" width="1.4" height="1.3" fill="#000"/>
<text x="132.30" y="457.89" font-size="8.15" textLength="8.80" lengthAdjust="spacingAndGlyphs" stroke="#000">37</text>
<rect x="205.20" y="443.00" width="1.4" height="1.3" fill="#000"/>
<text x="208.30" y="446.49" font-size="8.15" textLength="8.80" lengthAdjust="spacingAndGlyphs" stroke="#000">75</text>
<rect x="288.40" y="454.90" width="1.4" height="1.3" fill="#000"/>
<text x="291.50" y="458.39" font-size="8.15" textLength="8.80" lengthAdjust="spacingAndGlyphs" stroke="#000">37</text>
<text x="151.80" y="490.90" font-size="11.7" textLength="27.30" lengthAdjust="spacingAndGlyphs" stroke="#000">Input</text>
<line x1="64.20" y1="492.90" x2="273.50" y2="492.90" stroke="#000" stroke-width="1.4"/>
<text x="63.50" y="511.60" font-size="11.08" textLength="52.10" lengthAdjust="spacingAndGlyphs" stroke="#000">GYG1-Flag</text>
<text x="139.40" y="511.60" font-size="11.08" textLength="51.40" lengthAdjust="spacingAndGlyphs" stroke="#000">GYG2-Flag</text>
<text x="221.90" y="501.70" font-size="11.08" textLength="45.60" lengthAdjust="spacingAndGlyphs" stroke="#000">OE:GYG2</text>
<text x="213.10" y="512.60" font-size="11.08" textLength="63.30" lengthAdjust="spacingAndGlyphs" stroke="#000">in GYG1-Flag</text>
<line x1="63.50" y1="513.80" x2="121.00" y2="513.80" stroke="#000" stroke-width="1.4"/>
<line x1="138.70" y1="513.80" x2="196.50" y2="513.80" stroke="#000" stroke-width="1.4"/>
<line x1="216.70" y1="514.60" x2="273.90" y2="514.60" stroke="#000" stroke-width="1.4"/>
<text x="66.60" y="523.80" font-size="10.03" textLength="19.80" lengthAdjust="spacingAndGlyphs" stroke="#000">FSK</text>
<text x="97.60" y="523.80" font-size="10.03" textLength="19.20" lengthAdjust="spacingAndGlyphs" stroke="#000">GLC</text>
<text x="141.20" y="523.80" font-size="10.03" textLength="19.80" lengthAdjust="spacingAndGlyphs" stroke="#000">FSK</text>
<text x="172.20" y="523.80" font-size="10.03" textLength="20.30" lengthAdjust="spacingAndGlyphs" stroke="#000">GLC</text>
<text x="219.80" y="523.80" font-size="10.03" textLength="19.10" lengthAdjust="spacingAndGlyphs" stroke="#000">FSK</text>
<text x="250.60" y="523.80" font-size="10.03" textLength="19.80" lengthAdjust="spacingAndGlyphs" stroke="#000">GLC</text>
<line x1="63.50" y1="525.30" x2="90.00" y2="525.30" stroke="#000" stroke-width="1.4"/>
<line x1="95.30" y1="525.30" x2="121.00" y2="525.30" stroke="#000" stroke-width="1.4"/>
<line x1="139.40" y1="525.30" x2="164.70" y2="525.30" stroke="#000" stroke-width="1.4"/>
<line x1="170.20" y1="525.30" x2="196.50" y2="525.30" stroke="#000" stroke-width="1.4"/>
<line x1="215.60" y1="525.30" x2="242.20" y2="525.30" stroke="#000" stroke-width="1.4"/>
<line x1="248.60" y1="525.30" x2="274.50" y2="525.30" stroke="#000" stroke-width="1.4"/>
<text x="67.70" y="535.00" font-size="10.03" text-anchor="middle" textLength="5.34" lengthAdjust="spacingAndGlyphs" stroke="#000">1</text>
<text x="84.60" y="535.00" font-size="10.03" text-anchor="middle" textLength="5.34" lengthAdjust="spacingAndGlyphs" stroke="#000">4</text>
<text x="98.60" y="535.00" font-size="10.03" text-anchor="middle" textLength="5.34" lengthAdjust="spacingAndGlyphs" stroke="#000">1</text>
<text x="114.50" y="535.00" font-size="10.03" text-anchor="middle" textLength="5.34" lengthAdjust="spacingAndGlyphs" stroke="#000">4</text>
<text x="121.50" y="535.00" font-size="9.72" textLength="9.20" lengthAdjust="spacingAndGlyphs" stroke="#000">hr</text>
<text x="143.70" y="535.00" font-size="10.03" text-anchor="middle" textLength="5.34" lengthAdjust="spacingAndGlyphs" stroke="#000">1</text>
<text x="158.50" y="535.00" font-size="10.03" text-anchor="middle" textLength="5.34" lengthAdjust="spacingAndGlyphs" stroke="#000">4</text>
<text x="173.40" y="535.00" font-size="10.03" text-anchor="middle" textLength="5.34" lengthAdjust="spacingAndGlyphs" stroke="#000">1</text>
<text x="189.60" y="535.00" font-size="10.03" text-anchor="middle" textLength="5.34" lengthAdjust="spacingAndGlyphs" stroke="#000">4</text>
<text x="196.20" y="535.00" font-size="9.72" textLength="9.20" lengthAdjust="spacingAndGlyphs" stroke="#000">hr</text>
<text x="221.40" y="535.00" font-size="10.03" text-anchor="middle" textLength="5.34" lengthAdjust="spacingAndGlyphs" stroke="#000">1</text>
<text x="237.50" y="535.00" font-size="10.03" text-anchor="middle" textLength="5.34" lengthAdjust="spacingAndGlyphs" stroke="#000">4</text>
<text x="251.50" y="535.00" font-size="10.03" text-anchor="middle" textLength="5.34" lengthAdjust="spacingAndGlyphs" stroke="#000">1</text>
<text x="267.60" y="535.00" font-size="10.03" text-anchor="middle" textLength="5.34" lengthAdjust="spacingAndGlyphs" stroke="#000">4</text>
<text x="273.90" y="535.00" font-size="9.72" textLength="9.20" lengthAdjust="spacingAndGlyphs" stroke="#000">hr</text>
<text x="53.60" y="545.60" font-size="13.38" text-anchor="end" textLength="24.20" lengthAdjust="spacingAndGlyphs" stroke="#000">pGS</text>
<text x="54.90" y="555.00" font-size="10.03" text-anchor="end" textLength="35.20" lengthAdjust="spacingAndGlyphs" stroke="#000">(85kDa)</text>
<text x="53.50" y="572.70" font-size="13.17" text-anchor="end" textLength="16.40" lengthAdjust="spacingAndGlyphs" stroke="#000">GS</text>
<text x="54.90" y="581.60" font-size="10.03" text-anchor="end" textLength="35.20" lengthAdjust="spacingAndGlyphs" stroke="#000">(84kDa)</text>
<text x="53.50" y="599.60" font-size="13.17" text-anchor="end" textLength="23.40" lengthAdjust="spacingAndGlyphs" stroke="#000">VCL</text>
<text x="56.00" y="608.20" font-size="10.03" text-anchor="end" textLength="40.80" lengthAdjust="spacingAndGlyphs" stroke="#000">(145kDa)</text>
<rect x="57.20" y="536.40" width="65.20" height="18.60" fill="#d9d9d9" stroke="#333" stroke-width="1.2"/>
<rect x="61.20" y="545.25" width="13.00" height="5.50" rx="2.20" fill="#000" fill-opacity="0.99" filter="url(#bl2)"/>
<rect x="79.10" y="546.90" width="11.00" height="2.60" rx="1.04" fill="#000" fill-opacity="0.20" filter="url(#bl2)"/>
<rect x="93.10" y="546.50" width="11.00" height="3.00" rx="1.20" fill="#000" fill-opacity="0.42" filter="url(#bl2)"/>
<rect x="108.50" y="545.20" width="12.00" height="3.60" rx="1.44" fill="#000" fill-opacity="0.75" filter="url(#bl2)"/>
<rect x="137.40" y="536.40" width="61.90" height="18.60" fill="#d9d9d9" stroke="#333" stroke-width="1.2"/>
<rect x="137.70" y="545.70" width="12.00" height="3.80" rx="1.52" fill="#000" fill-opacity="0.90" filter="url(#bl2)"/>
<rect x="152.50" y="545.20" width="12.00" height="3.60" rx="1.44" fill="#000" fill-opacity="0.82" filter="url(#bl2)"/>
<rect x="167.40" y="544.60" width="12.00" height="4.00" rx="1.60" fill="#000" fill-opacity="0.92" filter="url(#bl2)"/>
<rect x="183.60" y="545.20" width="12.00" height="3.60" rx="1.44" fill="#000" fill-opacity="0.80" filter="url(#bl2)"/>
<rect x="213.10" y="536.40" width="63.90" height="18.60" fill="#d9d9d9" stroke="#333" stroke-width="1.2"/>
<rect x="215.30" y="543.20" width="12.00" height="4.00" rx="1.60" fill="#000" fill-opacity="0.75" filter="url(#bl2)"/>
<rect x="231.70" y="544.75" width="10.00" height="2.50" rx="1.00" fill="#000" fill-opacity="0.10" filter="url(#bl2)"/>
<rect x="246.60" y="543.00" width="10.00" height="3.00" rx="1.20" fill="#000" fill-opacity="0.25" filter="url(#bl2)"/>
<rect x="261.80" y="543.00" width="12.00" height="3.60" rx="1.44" fill="#000" fill-opacity="0.60" filter="url(#bl2)"/>
<rect x="57.20" y="561.10" width="65.20" height="23.10" fill="#f0f0f0" stroke="#333" stroke-width="1.2"/>
<rect x="61.70" y="569.90" width="12.00" height="5.00" rx="2.00" fill="#000" fill-opacity="0.75" filter="url(#bl2)"/>
<rect x="78.60" y="573.55" width="12.00" height="4.50" rx="1.80" fill="#000" fill-opacity="0.55" filter="url(#bl2)"/>
<rect x="92.10" y="573.70" width="13.00" height="5.00" rx="2.00" fill="#000" fill-opacity="0.97" filter="url(#bl2)"/>
<rect x="108.50" y="573.50" width="12.00" height="5.00" rx="2.00" fill="#000" fill-opacity="0.50" filter="url(#bl2)"/>
<rect x="137.40" y="561.10" width="61.90" height="23.10" fill="#f0f0f0" stroke="#333" stroke-width="1.2"/>
<rect x="137.70" y="572.45" width="12.00" height="4.50" rx="1.80" fill="#000" fill-opacity="0.88" filter="url(#bl2)"/>
<rect x="153.00" y="572.90" width="11.00" height="4.00" rx="1.60" fill="#000" fill-opacity="0.60" filter="url(#bl2)"/>
<rect x="166.90" y="571.90" width="13.00" height="5.00" rx="2.00" fill="#000" fill-opacity="0.97" filter="url(#bl2)"/>
<rect x="183.60" y="572.35" width="12.00" height="4.50" rx="1.80" fill="#000" fill-opacity="0.80" filter="url(#bl2)"/>
<rect x="213.10" y="561.10" width="63.90" height="23.10" fill="#f0f0f0" stroke="#333" stroke-width="1.2"/>
<rect x="215.30" y="572.45" width="12.00" height="4.50" rx="1.80" fill="#000" fill-opacity="0.88" filter="url(#bl2)"/>
<rect x="230.20" y="572.00" width="13.00" height="5.00" rx="2.00" fill="#000" fill-opacity="0.97" filter="url(#bl2)"/>
<rect x="245.10" y="569.80" width="13.00" height="5.00" rx="2.00" fill="#000" fill-opacity="0.99" filter="url(#bl2)"/>
<rect x="261.80" y="568.30" width="12.00" height="5.00" rx="2.00" fill="#000" fill-opacity="0.72" filter="url(#bl2)"/>
<rect x="57.20" y="591.00" width="65.20" height="19.50" fill="#f4f4f4" stroke="#333" stroke-width="1.2"/>
<rect x="61.70" y="599.80" width="12.00" height="3.60" rx="1.44" fill="#000" fill-opacity="0.97" filter="url(#bl2)"/>
<rect x="78.60" y="601.00" width="12.00" height="3.20" rx="1.28" fill="#000" fill-opacity="0.95" filter="url(#bl2)"/>
<rect x="92.60" y="601.10" width="12.00" height="3.40" rx="1.36" fill="#000" fill-opacity="0.95" filter="url(#bl2)"/>
<rect x="108.50" y="601.40" width="12.00" height="3.20" rx="1.28" fill="#000" fill-opacity="0.95" filter="url(#bl2)"/>
<rect x="137.40" y="591.00" width="61.90" height="19.50" fill="#f4f4f4" stroke="#333" stroke-width="1.2"/>
<rect x="137.70" y="601.10" width="12.00" height="3.40" rx="1.36" fill="#000" fill-opacity="0.97" filter="url(#bl2)"/>
<rect x="152.50" y="600.80" width="12.00" height="3.20" rx="1.28" fill="#000" fill-opacity="0.95" filter="url(#bl2)"/>
<rect x="167.40" y="600.50" width="12.00" height="3.40" rx="1.36" fill="#000" fill-opacity="0.95" filter="url(#bl2)"/>
<rect x="183.60" y="600.60" width="12.00" height="3.20" rx="1.28" fill="#000" fill-opacity="0.95" filter="url(#bl2)"/>
<rect x="213.10" y="591.00" width="63.90" height="19.50" fill="#f4f4f4" stroke="#333" stroke-width="1.2"/>
<rect x="215.30" y="601.00" width="12.00" height="3.60" rx="1.44" fill="#000" fill-opacity="0.97" filter="url(#bl2)"/>
<rect x="230.70" y="600.10" width="12.00" height="3.40" rx="1.36" fill="#000" fill-opacity="0.95" filter="url(#bl2)"/>
<rect x="245.60" y="598.60" width="12.00" height="3.60" rx="1.44" fill="#000" fill-opacity="0.95" filter="url(#bl2)"/>
<rect x="261.80" y="597.90" width="12.00" height="3.40" rx="1.36" fill="#000" fill-opacity="0.95" filter="url(#bl2)"/>
<rect x="277.60" y="552.50" width="1.4" height="1.3" fill="#000"/>
<text x="280.70" y="555.99" font-size="8.15" textLength="8.80" lengthAdjust="spacingAndGlyphs" stroke="#000">75</text>
<rect x="277.60" y="580.30" width="1.4" height="1.3" fill="#000"/>
<text x="280.70" y="583.79" font-size="8.15" textLength="8.80" lengthAdjust="spacingAndGlyphs" stroke="#000">75</text>
<rect x="277.60" y="603.90" width="1.4" height="1.3" fill="#000"/>
<text x="280.70" y="607.39" font-size="8.15" textLength="12.60" lengthAdjust="spacingAndGlyphs" stroke="#000">100</text>
<text x="342.40" y="324.90" font-size="15.67" textLength="9.00" lengthAdjust="spacingAndGlyphs" stroke="#000">d</text>
<text x="381.60" y="354.00" font-size="11.7" textLength="28.00" lengthAdjust="spacingAndGlyphs" stroke="#000">Oligo</text>
<text x="415.90" y="354.00" font-size="11.7" textLength="28.10" lengthAdjust="spacingAndGlyphs" stroke="#000">FCCP</text>
<text x="449.80" y="354.00" font-size="11.7" textLength="36.20" lengthAdjust="spacingAndGlyphs" stroke="#000">Rot/AA</text>
<line x1="372.70" y1="356.90" x2="372.70" y2="428.50" stroke="#000" stroke-width="1.3"/>
<line x1="372.10" y1="428.50" x2="493.00" y2="428.50" stroke="#000" stroke-width="1.3"/>
<text x="370.20" y="362.38" font-size="9.61" text-anchor="end" textLength="14.70" lengthAdjust="spacingAndGlyphs" stroke="#000">250</text>
<text x="370.20" y="376.24" font-size="9.61" text-anchor="end" textLength="14.70" lengthAdjust="spacingAndGlyphs" stroke="#000">200</text>
<text x="370.20" y="390.10" font-size="9.61" text-anchor="end" textLength="14.70" lengthAdjust="spacingAndGlyphs" stroke="#000">150</text>
<text x="370.20" y="403.97" font-size="9.61" text-anchor="end" textLength="14.70" lengthAdjust="spacingAndGlyphs" stroke="#000">100</text>
<text x="370.20" y="417.83" font-size="9.61" text-anchor="end" textLength="9.80" lengthAdjust="spacingAndGlyphs" stroke="#000">50</text>
<text x="370.20" y="431.70" font-size="9.61" text-anchor="end" textLength="4.90" lengthAdjust="spacingAndGlyphs" stroke="#000">0</text>
<line x1="400.30" y1="355.40" x2="400.30" y2="428.50" stroke="#444" stroke-width="0.8" stroke-dasharray="1.2,1.2"/>
<line x1="431.10" y1="355.40" x2="431.10" y2="428.50" stroke="#444" stroke-width="0.8" stroke-dasharray="1.2,1.2"/>
<line x1="460.80" y1="355.40" x2="460.80" y2="428.50" stroke="#444" stroke-width="0.8" stroke-dasharray="1.2,1.2"/>
<text x="395.60" y="438.10" font-size="10.45" text-anchor="middle" textLength="11.12" lengthAdjust="spacingAndGlyphs" stroke="#000">18</text>
<text x="424.60" y="438.10" font-size="10.45" text-anchor="middle" textLength="11.12" lengthAdjust="spacingAndGlyphs" stroke="#000">45</text>
<text x="454.50" y="438.10" font-size="10.45" text-anchor="middle" textLength="11.12" lengthAdjust="spacingAndGlyphs" stroke="#000">70</text>
<text x="483.00" y="438.10" font-size="10.45" text-anchor="middle" textLength="11.12" lengthAdjust="spacingAndGlyphs" stroke="#000">97</text>
<polyline points="377.40,398.00 387.90,397.44 397.90,399.38 407.70,413.25 417.80,414.08 427.60,413.25 438.10,404.93 447.90,406.87 458.00,409.09 468.50,417.41 478.30,417.96 488.30,418.24" fill="none" stroke="#3cb02c" stroke-width="1.3"/>
<line x1="377.40" y1="395.50" x2="377.40" y2="400.49" stroke="#3cb02c" stroke-width="1.0"/>
<line x1="375.40" y1="395.50" x2="379.40" y2="395.50" stroke="#3cb02c" stroke-width="1.0"/>
<line x1="375.40" y1="400.49" x2="379.40" y2="400.49" stroke="#3cb02c" stroke-width="1.0"/>
<line x1="387.90" y1="395.50" x2="387.90" y2="399.38" stroke="#3cb02c" stroke-width="1.0"/>
<line x1="385.90" y1="395.50" x2="389.90" y2="395.50" stroke="#3cb02c" stroke-width="1.0"/>
<line x1="385.90" y1="399.38" x2="389.90" y2="399.38" stroke="#3cb02c" stroke-width="1.0"/>
<line x1="397.90" y1="397.44" x2="397.90" y2="401.32" stroke="#3cb02c" stroke-width="1.0"/>
<line x1="395.90" y1="397.44" x2="399.90" y2="397.44" stroke="#3cb02c" stroke-width="1.0"/>
<line x1="395.90" y1="401.32" x2="399.90" y2="401.32" stroke="#3cb02c" stroke-width="1.0"/>
<line x1="407.70" y1="412.14" x2="407.70" y2="414.36" stroke="#3cb02c" stroke-width="1.0"/>
<line x1="405.70" y1="412.14" x2="409.70" y2="412.14" stroke="#3cb02c" stroke-width="1.0"/>
<line x1="405.70" y1="414.36" x2="409.70" y2="414.36" stroke="#3cb02c" stroke-width="1.0"/>
<line x1="417.80" y1="413.25" x2="417.80" y2="414.91" stroke="#3cb02c" stroke-width="1.0"/>
<line x1="415.80" y1="413.25" x2="419.80" y2="413.25" stroke="#3cb02c" stroke-width="1.0"/>
<line x1="415.80" y1="414.91" x2="419.80" y2="414.91" stroke="#3cb02c" stroke-width="1.0"/>
<line x1="427.60" y1="412.42" x2="427.60" y2="414.08" stroke="#3cb02c" stroke-width="1.0"/>
<line x1="425.60" y1="412.42" x2="429.60" y2="412.42" stroke="#3cb02c" stroke-width="1.0"/>
<line x1="425.60" y1="414.08" x2="429.60" y2="414.08" stroke="#3cb02c" stroke-width="1.0"/>
<line x1="438.10" y1="403.27" x2="438.10" y2="406.59" stroke="#3cb02c" stroke-width="1.0"/>
<line x1="436.10" y1="403.27" x2="440.10" y2="403.27" stroke="#3cb02c" stroke-width="1.0"/>
<line x1="436.10" y1="406.59" x2="440.10" y2="406.59" stroke="#3cb02c" stroke-width="1.0"/>
<line x1="447.90" y1="406.04" x2="447.90" y2="407.70" stroke="#3cb02c" stroke-width="1.0"/>
<line x1="445.90" y1="406.04" x2="449.90" y2="406.04" stroke="#3cb02c" stroke-width="1.0"/>
<line x1="445.90" y1="407.70" x2="449.90" y2="407.70" stroke="#3cb02c" stroke-width="1.0"/>
<line x1="458.00" y1="408.53" x2="458.00" y2="409.64" stroke="#3cb02c" stroke-width="1.0"/>
<line x1="456.00" y1="408.53" x2="460.00" y2="408.53" stroke="#3cb02c" stroke-width="1.0"/>
<line x1="456.00" y1="409.64" x2="460.00" y2="409.64" stroke="#3cb02c" stroke-width="1.0"/>
<line x1="468.50" y1="416.30" x2="468.50" y2="418.52" stroke="#3cb02c" stroke-width="1.0"/>
<line x1="466.50" y1="416.30" x2="470.50" y2="416.30" stroke="#3cb02c" stroke-width="1.0"/>
<line x1="466.50" y1="418.52" x2="470.50" y2="418.52" stroke="#3cb02c" stroke-width="1.0"/>
<line x1="478.30" y1="416.30" x2="478.30" y2="419.63" stroke="#3cb02c" stroke-width="1.0"/>
<line x1="476.30" y1="416.30" x2="480.30" y2="416.30" stroke="#3cb02c" stroke-width="1.0"/>
<line x1="476.30" y1="419.63" x2="480.30" y2="419.63" stroke="#3cb02c" stroke-width="1.0"/>
<line x1="488.30" y1="417.41" x2="488.30" y2="419.07" stroke="#3cb02c" stroke-width="1.0"/>
<line x1="486.30" y1="417.41" x2="490.30" y2="417.41" stroke="#3cb02c" stroke-width="1.0"/>
<line x1="486.30" y1="419.07" x2="490.30" y2="419.07" stroke="#3cb02c" stroke-width="1.0"/>
<path d="M377.40,396.10 L379.30,399.52 L375.50,399.52 Z" fill="#3cb02c"/>
<path d="M387.90,395.54 L389.80,398.96 L386.00,398.96 Z" fill="#3cb02c"/>
<path d="M397.90,397.48 L399.80,400.90 L396.00,400.90 Z" fill="#3cb02c"/>
<path d="M407.70,411.35 L409.60,414.77 L405.80,414.77 Z" fill="#3cb02c"/>
<path d="M417.80,412.18 L419.70,415.60 L415.90,415.60 Z" fill="#3cb02c"/>
<path d="M427.60,411.35 L429.50,414.77 L425.70,414.77 Z" fill="#3cb02c"/>
<path d="M438.10,403.03 L440.00,406.45 L436.20,406.45 Z" fill="#3cb02c"/>
<path d="M447.90,404.97 L449.80,408.39 L446.00,408.39 Z" fill="#3cb02c"/>
<path d="M458.00,407.19 L459.90,410.61 L456.10,410.61 Z" fill="#3cb02c"/>
<path d="M468.50,415.51 L470.40,418.93 L466.60,418.93 Z" fill="#3cb02c"/>
<path d="M478.30,416.06 L480.20,419.48 L476.40,419.48 Z" fill="#3cb02c"/>
<path d="M488.30,416.34 L490.20,419.76 L486.40,419.76 Z" fill="#3cb02c"/>
<polyline points="377.40,392.45 387.90,393.01 397.90,393.56 407.70,418.79 417.80,418.52 427.60,418.24 438.10,402.16 447.90,404.10 458.00,408.53 468.50,422.40 478.30,422.40 488.30,422.40" fill="none" stroke="#2020ff" stroke-width="1.3"/>
<line x1="377.40" y1="391.62" x2="377.40" y2="393.28" stroke="#2020ff" stroke-width="1.0"/>
<line x1="375.40" y1="391.62" x2="379.40" y2="391.62" stroke="#2020ff" stroke-width="1.0"/>
<line x1="375.40" y1="393.28" x2="379.40" y2="393.28" stroke="#2020ff" stroke-width="1.0"/>
<line x1="387.90" y1="392.45" x2="387.90" y2="393.56" stroke="#2020ff" stroke-width="1.0"/>
<line x1="385.90" y1="392.45" x2="389.90" y2="392.45" stroke="#2020ff" stroke-width="1.0"/>
<line x1="385.90" y1="393.56" x2="389.90" y2="393.56" stroke="#2020ff" stroke-width="1.0"/>
<line x1="397.90" y1="392.73" x2="397.90" y2="394.39" stroke="#2020ff" stroke-width="1.0"/>
<line x1="395.90" y1="392.73" x2="399.90" y2="392.73" stroke="#2020ff" stroke-width="1.0"/>
<line x1="395.90" y1="394.39" x2="399.90" y2="394.39" stroke="#2020ff" stroke-width="1.0"/>
<line x1="407.70" y1="418.24" x2="407.70" y2="419.35" stroke="#2020ff" stroke-width="1.0"/>
<line x1="405.70" y1="418.24" x2="409.70" y2="418.24" stroke="#2020ff" stroke-width="1.0"/>
<line x1="405.70" y1="419.35" x2="409.70" y2="419.35" stroke="#2020ff" stroke-width="1.0"/>
<line x1="417.80" y1="417.96" x2="417.80" y2="419.07" stroke="#2020ff" stroke-width="1.0"/>
<line x1="415.80" y1="417.96" x2="419.80" y2="417.96" stroke="#2020ff" stroke-width="1.0"/>
<line x1="415.80" y1="419.07" x2="419.80" y2="419.07" stroke="#2020ff" stroke-width="1.0"/>
<line x1="427.60" y1="417.69" x2="427.60" y2="418.79" stroke="#2020ff" stroke-width="1.0"/>
<line x1="425.60" y1="417.69" x2="429.60" y2="417.69" stroke="#2020ff" stroke-width="1.0"/>
<line x1="425.60" y1="418.79" x2="429.60" y2="418.79" stroke="#2020ff" stroke-width="1.0"/>
<line x1="438.10" y1="401.05" x2="438.10" y2="403.27" stroke="#2020ff" stroke-width="1.0"/>
<line x1="436.10" y1="401.05" x2="440.10" y2="401.05" stroke="#2020ff" stroke-width="1.0"/>
<line x1="436.10" y1="403.27" x2="440.10" y2="403.27" stroke="#2020ff" stroke-width="1.0"/>
<line x1="447.90" y1="403.27" x2="447.90" y2="404.93" stroke="#2020ff" stroke-width="1.0"/>
<line x1="445.90" y1="403.27" x2="449.90" y2="403.27" stroke="#2020ff" stroke-width="1.0"/>
<line x1="445.90" y1="404.93" x2="449.90" y2="404.93" stroke="#2020ff" stroke-width="1.0"/>
<line x1="458.00" y1="407.98" x2="458.00" y2="409.09" stroke="#2020ff" stroke-width="1.0"/>
<line x1="456.00" y1="407.98" x2="460.00" y2="407.98" stroke="#2020ff" stroke-width="1.0"/>
<line x1="456.00" y1="409.09" x2="460.00" y2="409.09" stroke="#2020ff" stroke-width="1.0"/>
<line x1="468.50" y1="421.84" x2="468.50" y2="422.95" stroke="#2020ff" stroke-width="1.0"/>
<line x1="466.50" y1="421.84" x2="470.50" y2="421.84" stroke="#2020ff" stroke-width="1.0"/>
<line x1="466.50" y1="422.95" x2="470.50" y2="422.95" stroke="#2020ff" stroke-width="1.0"/>
<line x1="478.30" y1="421.84" x2="478.30" y2="422.95" stroke="#2020ff" stroke-width="1.0"/>
<line x1="476.30" y1="421.84" x2="480.30" y2="421.84" stroke="#2020ff" stroke-width="1.0"/>
<line x1="476.30" y1="422.95" x2="480.30" y2="422.95" stroke="#2020ff" stroke-width="1.0"/>
<line x1="488.30" y1="421.84" x2="488.30" y2="422.95" stroke="#2020ff" stroke-width="1.0"/>
<line x1="486.30" y1="421.84" x2="490.30" y2="421.84" stroke="#2020ff" stroke-width="1.0"/>
<line x1="486.30" y1="422.95" x2="490.30" y2="422.95" stroke="#2020ff" stroke-width="1.0"/>
<circle cx="377.40" cy="392.45" r="1.90" fill="#2020ff"/>
<circle cx="387.90" cy="393.01" r="1.90" fill="#2020ff"/>
<circle cx="397.90" cy="393.56" r="1.90" fill="#2020ff"/>
<circle cx="407.70" cy="418.79" r="1.90" fill="#2020ff"/>
<circle cx="417.80" cy="418.52" r="1.90" fill="#2020ff"/>
<circle cx="427.60" cy="418.24" r="1.90" fill="#2020ff"/>
<circle cx="438.10" cy="402.16" r="1.90" fill="#2020ff"/>
<circle cx="447.90" cy="404.10" r="1.90" fill="#2020ff"/>
<circle cx="458.00" cy="408.53" r="1.90" fill="#2020ff"/>
<circle cx="468.50" cy="422.40" r="1.90" fill="#2020ff"/>
<circle cx="478.30" cy="422.40" r="1.90" fill="#2020ff"/>
<circle cx="488.30" cy="422.40" r="1.90" fill="#2020ff"/>
<polyline points="377.40,378.59 387.90,379.14 397.90,379.97 407.70,414.63 417.80,414.63 427.60,414.08 438.10,373.59 447.90,380.80 458.00,382.75 468.50,421.01 478.30,421.01 488.30,421.01" fill="none" stroke="#ff2a10" stroke-width="1.3"/>
<line x1="377.40" y1="377.75" x2="377.40" y2="379.42" stroke="#ff2a10" stroke-width="1.0"/>
<line x1="375.40" y1="377.75" x2="379.40" y2="377.75" stroke="#ff2a10" stroke-width="1.0"/>
<line x1="375.40" y1="379.42" x2="379.40" y2="379.42" stroke="#ff2a10" stroke-width="1.0"/>
<line x1="387.90" y1="377.75" x2="387.90" y2="380.53" stroke="#ff2a10" stroke-width="1.0"/>
<line x1="385.90" y1="377.75" x2="389.90" y2="377.75" stroke="#ff2a10" stroke-width="1.0"/>
<line x1="385.90" y1="380.53" x2="389.90" y2="380.53" stroke="#ff2a10" stroke-width="1.0"/>
<line x1="397.90" y1="378.86" x2="397.90" y2="381.08" stroke="#ff2a10" stroke-width="1.0"/>
<line x1="395.90" y1="378.86" x2="399.90" y2="378.86" stroke="#ff2a10" stroke-width="1.0"/>
<line x1="395.90" y1="381.08" x2="399.90" y2="381.08" stroke="#ff2a10" stroke-width="1.0"/>
<line x1="407.70" y1="413.53" x2="407.70" y2="415.74" stroke="#ff2a10" stroke-width="1.0"/>
<line x1="405.70" y1="413.53" x2="409.70" y2="413.53" stroke="#ff2a10" stroke-width="1.0"/>
<line x1="405.70" y1="415.74" x2="409.70" y2="415.74" stroke="#ff2a10" stroke-width="1.0"/>
<line x1="417.80" y1="413.25" x2="417.80" y2="416.02" stroke="#ff2a10" stroke-width="1.0"/>
<line x1="415.80" y1="413.25" x2="419.80" y2="413.25" stroke="#ff2a10" stroke-width="1.0"/>
<line x1="415.80" y1="416.02" x2="419.80" y2="416.02" stroke="#ff2a10" stroke-width="1.0"/>
<line x1="427.60" y1="412.69" x2="427.60" y2="415.47" stroke="#ff2a10" stroke-width="1.0"/>
<line x1="425.60" y1="412.69" x2="429.60" y2="412.69" stroke="#ff2a10" stroke-width="1.0"/>
<line x1="425.60" y1="415.47" x2="429.60" y2="415.47" stroke="#ff2a10" stroke-width="1.0"/>
<line x1="438.10" y1="371.38" x2="438.10" y2="375.81" stroke="#ff2a10" stroke-width="1.0"/>
<line x1="436.10" y1="371.38" x2="440.10" y2="371.38" stroke="#ff2a10" stroke-width="1.0"/>
<line x1="436.10" y1="375.81" x2="440.10" y2="375.81" stroke="#ff2a10" stroke-width="1.0"/>
<line x1="447.90" y1="378.86" x2="447.90" y2="382.75" stroke="#ff2a10" stroke-width="1.0"/>
<line x1="445.90" y1="378.86" x2="449.90" y2="378.86" stroke="#ff2a10" stroke-width="1.0"/>
<line x1="445.90" y1="382.75" x2="449.90" y2="382.75" stroke="#ff2a10" stroke-width="1.0"/>
<line x1="458.00" y1="380.80" x2="458.00" y2="384.69" stroke="#ff2a10" stroke-width="1.0"/>
<line x1="456.00" y1="380.80" x2="460.00" y2="380.80" stroke="#ff2a10" stroke-width="1.0"/>
<line x1="456.00" y1="384.69" x2="460.00" y2="384.69" stroke="#ff2a10" stroke-width="1.0"/>
<line x1="468.50" y1="420.18" x2="468.50" y2="421.84" stroke="#ff2a10" stroke-width="1.0"/>
<line x1="466.50" y1="420.18" x2="470.50" y2="420.18" stroke="#ff2a10" stroke-width="1.0"/>
<line x1="466.50" y1="421.84" x2="470.50" y2="421.84" stroke="#ff2a10" stroke-width="1.0"/>
<line x1="478.30" y1="419.90" x2="478.30" y2="422.12" stroke="#ff2a10" stroke-width="1.0"/>
<line x1="476.30" y1="419.90" x2="480.30" y2="419.90" stroke="#ff2a10" stroke-width="1.0"/>
<line x1="476.30" y1="422.12" x2="480.30" y2="422.12" stroke="#ff2a10" stroke-width="1.0"/>
<line x1="488.30" y1="420.18" x2="488.30" y2="421.84" stroke="#ff2a10" stroke-width="1.0"/>
<line x1="486.30" y1="420.18" x2="490.30" y2="420.18" stroke="#ff2a10" stroke-width="1.0"/>
<line x1="486.30" y1="421.84" x2="490.30" y2="421.84" stroke="#ff2a10" stroke-width="1.0"/>
<rect x="375.40" y="376.59" width="4.00" height="4.00" fill="#ff2a10"/>
<rect x="385.90" y="377.14" width="4.00" height="4.00" fill="#ff2a10"/>
<rect x="395.90" y="377.97" width="4.00" height="4.00" fill="#ff2a10"/>
<rect x="405.70" y="412.63" width="4.00" height="4.00" fill="#ff2a10"/>
<rect x="415.80" y="412.63" width="4.00" height="4.00" fill="#ff2a10"/>
<rect x="425.60" y="412.08" width="4.00" height="4.00" fill="#ff2a10"/>
<rect x="436.10" y="371.59" width="4.00" height="4.00" fill="#ff2a10"/>
<rect x="445.90" y="378.80" width="4.00" height="4.00" fill="#ff2a10"/>
<rect x="456.00" y="380.75" width="4.00" height="4.00" fill="#ff2a10"/>
<rect x="466.50" y="419.01" width="4.00" height="4.00" fill="#ff2a10"/>
<rect x="476.30" y="419.01" width="4.00" height="4.00" fill="#ff2a10"/>
<rect x="486.30" y="419.01" width="4.00" height="4.00" fill="#ff2a10"/>
<text x="406.60" y="447.80" font-size="11.29" textLength="53.70" lengthAdjust="spacingAndGlyphs" stroke="#000">Time (min)</text>
<text stroke="#000" transform="translate(351.6,440.6) rotate(-90)" font-size="13.2" textLength="103" lengthAdjust="spacingAndGlyphs">OCR (pmol/min)</text>
<line x1="509.40" y1="353.00" x2="509.40" y2="436.20" stroke="#000" stroke-width="1.3"/>
<line x1="508.80" y1="436.20" x2="679.00" y2="436.20" stroke="#000" stroke-width="1.3"/>
<text x="507.40" y="357.10" font-size="11.49" text-anchor="end" textLength="18.60" lengthAdjust="spacingAndGlyphs" stroke="#000">200</text>
<text x="507.40" y="377.80" font-size="11.49" text-anchor="end" textLength="18.60" lengthAdjust="spacingAndGlyphs" stroke="#000">150</text>
<text x="507.40" y="398.50" font-size="11.49" text-anchor="end" textLength="18.60" lengthAdjust="spacingAndGlyphs" stroke="#000">100</text>
<text x="507.40" y="419.20" font-size="11.49" text-anchor="end" textLength="12.40" lengthAdjust="spacingAndGlyphs" stroke="#000">50</text>
<text x="507.40" y="439.90" font-size="11.49" text-anchor="end" textLength="6.20" lengthAdjust="spacingAndGlyphs" stroke="#000">0</text>
<rect x="514.20" y="389.80" width="11.10" height="46.40" fill="#2a14f8" stroke="#111" stroke-width="1.0"/>
<line x1="519.75" y1="388.60" x2="519.75" y2="391.00" stroke="#111" stroke-width="1.0"/>
<line x1="517.15" y1="388.60" x2="522.35" y2="388.60" stroke="#111" stroke-width="1.0"/>
<line x1="517.15" y1="391.00" x2="522.35" y2="391.00" stroke="#111" stroke-width="1.0"/>
<circle cx="519.75" cy="389.80" r="1.10" fill="#111"/>
<rect x="529.60" y="371.80" width="11.80" height="64.40" fill="#ff2a08" stroke="#111" stroke-width="1.0"/>
<line x1="535.50" y1="363.80" x2="535.50" y2="377.80" stroke="#111" stroke-width="1.0"/>
<line x1="532.90" y1="363.80" x2="538.10" y2="363.80" stroke="#111" stroke-width="1.0"/>
<line x1="532.90" y1="377.80" x2="538.10" y2="377.80" stroke="#111" stroke-width="1.0"/>
<circle cx="533.50" cy="375.80" r="1.10" fill="#111"/>
<circle cx="537.50" cy="369.80" r="1.10" fill="#111"/>
<circle cx="537.50" cy="374.80" r="1.10" fill="#111"/>
<rect x="545.50" y="406.20" width="12.10" height="30.00" fill="#3ca060" stroke="#111" stroke-width="1.0"/>
<line x1="551.55" y1="395.20" x2="551.55" y2="415.20" stroke="#111" stroke-width="1.0"/>
<line x1="548.95" y1="395.20" x2="554.15" y2="395.20" stroke="#111" stroke-width="1.0"/>
<line x1="548.95" y1="415.20" x2="554.15" y2="415.20" stroke="#111" stroke-width="1.0"/>
<circle cx="551.55" cy="410.20" r="1.10" fill="#111"/>
<rect x="566.30" y="408.90" width="11.10" height="27.30" fill="#2a14f8" stroke="#111" stroke-width="1.0"/>
<line x1="571.85" y1="408.30" x2="571.85" y2="409.50" stroke="#111" stroke-width="1.0"/>
<line x1="569.25" y1="408.30" x2="574.45" y2="408.30" stroke="#111" stroke-width="1.0"/>
<line x1="569.25" y1="409.50" x2="574.45" y2="409.50" stroke="#111" stroke-width="1.0"/>
<rect x="581.90" y="379.00" width="11.40" height="57.20" fill="#ff2a08" stroke="#111" stroke-width="1.0"/>
<line x1="587.60" y1="376.50" x2="587.60" y2="381.50" stroke="#111" stroke-width="1.0"/>
<line x1="585.00" y1="376.50" x2="590.20" y2="376.50" stroke="#111" stroke-width="1.0"/>
<line x1="585.00" y1="381.50" x2="590.20" y2="381.50" stroke="#111" stroke-width="1.0"/>
<circle cx="585.60" cy="379.00" r="1.10" fill="#111"/>
<circle cx="589.60" cy="380.00" r="1.10" fill="#111"/>
<rect x="598.20" y="421.10" width="11.40" height="15.10" fill="#3ca060" stroke="#111" stroke-width="1.0"/>
<line x1="603.90" y1="415.10" x2="603.90" y2="425.10" stroke="#111" stroke-width="1.0"/>
<line x1="601.30" y1="415.10" x2="606.50" y2="415.10" stroke="#111" stroke-width="1.0"/>
<line x1="601.30" y1="425.10" x2="606.50" y2="425.10" stroke="#111" stroke-width="1.0"/>
<circle cx="603.90" cy="424.10" r="1.10" fill="#111"/>
<rect x="626.10" y="399.50" width="11.40" height="36.70" fill="#2a14f8" stroke="#111" stroke-width="1.0"/>
<line x1="631.80" y1="398.50" x2="631.80" y2="400.50" stroke="#111" stroke-width="1.0"/>
<line x1="629.20" y1="398.50" x2="634.40" y2="398.50" stroke="#111" stroke-width="1.0"/>
<line x1="629.20" y1="400.50" x2="634.40" y2="400.50" stroke="#111" stroke-width="1.0"/>
<rect x="642.30" y="385.60" width="11.40" height="50.60" fill="#ff2a08" stroke="#111" stroke-width="1.0"/>
<line x1="648.00" y1="378.60" x2="648.00" y2="390.60" stroke="#111" stroke-width="1.0"/>
<line x1="645.40" y1="378.60" x2="650.60" y2="378.60" stroke="#111" stroke-width="1.0"/>
<line x1="645.40" y1="390.60" x2="650.60" y2="390.60" stroke="#111" stroke-width="1.0"/>
<circle cx="646.50" cy="387.60" r="1.10" fill="#111"/>
<circle cx="650.00" cy="388.60" r="1.10" fill="#111"/>
<rect x="658.00" y="413.20" width="11.30" height="23.00" fill="#3ca060" stroke="#111" stroke-width="1.0"/>
<line x1="663.65" y1="406.20" x2="663.65" y2="418.20" stroke="#111" stroke-width="1.0"/>
<line x1="661.05" y1="406.20" x2="666.25" y2="406.20" stroke="#111" stroke-width="1.0"/>
<line x1="661.05" y1="418.20" x2="666.25" y2="418.20" stroke="#111" stroke-width="1.0"/>
<circle cx="663.65" cy="416.20" r="1.10" fill="#111"/>
<text x="511.30" y="326.30" font-size="11.49" textLength="29.40" lengthAdjust="spacingAndGlyphs" stroke="#000">Basal</text>
<text x="495.70" y="337.00" font-size="11.49" textLength="59.20" lengthAdjust="spacingAndGlyphs" stroke="#000">Respiration</text>
<text x="569.10" y="326.30" font-size="11.49" textLength="43.30" lengthAdjust="spacingAndGlyphs" stroke="#000">Maximal</text>
<text x="560.60" y="337.00" font-size="11.49" textLength="59.80" lengthAdjust="spacingAndGlyphs" stroke="#000">Respiration</text>
<text x="642.30" y="326.30" font-size="11.49" textLength="21.30" lengthAdjust="spacingAndGlyphs" stroke="#000">ATP</text>
<text x="626.10" y="337.00" font-size="11.49" textLength="57.50" lengthAdjust="spacingAndGlyphs" stroke="#000">Production</text>
<path d="M517.60,350.70 L517.60,347.70 L552.60,347.70 L552.60,350.70" fill="none" stroke="#111" stroke-width="1.6"/>
<path d="M535.10,343.10L535.10,339.69M535.10,343.10L538.34,342.05M535.10,343.10L537.10,345.86M535.10,343.10L533.10,345.86M535.10,343.10L531.86,342.05" stroke="#111" stroke-width="1.52" stroke-linecap="butt" fill="none"/>
<path d="M517.60,363.50 L517.60,360.50 L535.50,360.50 L535.50,363.50" fill="none" stroke="#111" stroke-width="1.6"/>
<path d="M523.20,355.90L523.20,352.49M523.20,355.90L526.44,354.85M523.20,355.90L525.20,358.66M523.20,355.90L521.20,358.66M523.20,355.90L519.96,354.85" stroke="#111" stroke-width="1.52" stroke-linecap="butt" fill="none"/>
<path d="M529.90,355.90L529.90,352.49M529.90,355.90L533.14,354.85M529.90,355.90L531.90,358.66M529.90,355.90L527.90,358.66M529.90,355.90L526.66,354.85" stroke="#111" stroke-width="1.52" stroke-linecap="butt" fill="none"/>
<path d="M570.60,350.70 L570.60,347.70 L605.30,347.70 L605.30,350.70" fill="none" stroke="#111" stroke-width="1.6"/>
<path d="M584.60,343.10L584.60,339.69M584.60,343.10L587.84,342.05M584.60,343.10L586.60,345.86M584.60,343.10L582.60,345.86M584.60,343.10L581.36,342.05" stroke="#111" stroke-width="1.52" stroke-linecap="butt" fill="none"/>
<path d="M591.30,343.10L591.30,339.69M591.30,343.10L594.54,342.05M591.30,343.10L593.30,345.86M591.30,343.10L589.30,345.86M591.30,343.10L588.06,342.05" stroke="#111" stroke-width="1.52" stroke-linecap="butt" fill="none"/>
<path d="M570.60,363.50 L570.60,360.50 L588.20,360.50 L588.20,363.50" fill="none" stroke="#111" stroke-width="1.6"/>
<path d="M572.70,355.90L572.70,352.49M572.70,355.90L575.94,354.85M572.70,355.90L574.70,358.66M572.70,355.90L570.70,358.66M572.70,355.90L569.46,354.85" stroke="#111" stroke-width="1.52" stroke-linecap="butt" fill="none"/>
<path d="M579.40,355.90L579.40,352.49M579.40,355.90L582.64,354.85M579.40,355.90L581.40,358.66M579.40,355.90L577.40,358.66M579.40,355.90L576.16,354.85" stroke="#111" stroke-width="1.52" stroke-linecap="butt" fill="none"/>
<path d="M586.10,355.90L586.10,352.49M586.10,355.90L589.34,354.85M586.10,355.90L588.10,358.66M586.10,355.90L584.10,358.66M586.10,355.90L582.86,354.85" stroke="#111" stroke-width="1.52" stroke-linecap="butt" fill="none"/>
<path d="M630.00,350.70 L630.00,347.70 L663.60,347.70 L663.60,350.70" fill="none" stroke="#111" stroke-width="1.6"/>
<path d="M646.80,343.10L646.80,339.69M646.80,343.10L650.04,342.05M646.80,343.10L648.80,345.86M646.80,343.10L644.80,345.86M646.80,343.10L643.56,342.05" stroke="#111" stroke-width="1.52" stroke-linecap="butt" fill="none"/>
<path d="M630.00,363.50 L630.00,360.50 L647.10,360.50 L647.10,363.50" fill="none" stroke="#111" stroke-width="1.6"/>
<path d="M638.55,355.90L638.55,352.49M638.55,355.90L641.79,354.85M638.55,355.90L640.55,358.66M638.55,355.90L636.55,358.66M638.55,355.90L635.31,354.85" stroke="#111" stroke-width="1.52" stroke-linecap="butt" fill="none"/>
<line x1="340.00" y1="465.20" x2="346.60" y2="465.20" stroke="#2020ff" stroke-width="1.3"/>
<circle cx="342.80" cy="465.20" r="1.80" fill="#2020ff"/>
<text x="350.50" y="469.40" font-size="11.49" textLength="17.10" lengthAdjust="spacingAndGlyphs" stroke="#000">WT</text>
<line x1="368.90" y1="465.20" x2="379.40" y2="465.20" stroke="#ff2a10" stroke-width="1.3"/>
<rect x="372.20" y="463.20" width="4.00" height="4.00" fill="#ff2a10"/>
<text x="380.70" y="469.40" font-size="11.49" textLength="53.90" lengthAdjust="spacingAndGlyphs" stroke="#000">GYG1 KO</text>
<line x1="437.20" y1="465.20" x2="447.70" y2="465.20" stroke="#3cb02c" stroke-width="1.3"/>
<path d="M442.40,463.20 L444.40,466.80 L440.40,466.80 Z" fill="#3cb02c"/>
<text x="449.80" y="469.40" font-size="11.49" textLength="53.60" lengthAdjust="spacingAndGlyphs" stroke="#000">GYG2 KO</text>
<rect x="506.80" y="460.60" width="10.80" height="8.80" fill="#2a14f8" stroke="#111" stroke-width="1"/>
<text x="521.10" y="469.40" font-size="11.49" textLength="18.10" lengthAdjust="spacingAndGlyphs" stroke="#000">WT</text>
<rect x="545.90" y="460.60" width="10.30" height="8.80" fill="#ff2a08" stroke="#111" stroke-width="1"/>
<text x="558.10" y="469.40" font-size="11.49" textLength="53.20" lengthAdjust="spacingAndGlyphs" stroke="#000">GYG1 KO</text>
<rect x="617.50" y="460.60" width="10.00" height="8.80" fill="#3ca060" stroke="#111" stroke-width="1"/>
<text x="629.10" y="469.40" font-size="11.49" textLength="54.50" lengthAdjust="spacingAndGlyphs" stroke="#000">GYG2 KO</text>
<text x="342.80" y="488.20" font-size="15.67" textLength="9.40" lengthAdjust="spacingAndGlyphs" stroke="#000">e</text>
<text x="371.50" y="516.30" font-size="11.7" textLength="44.40" lengthAdjust="spacingAndGlyphs" stroke="#000">Glucose</text>
<text x="422.80" y="516.30" font-size="11.7" textLength="28.90" lengthAdjust="spacingAndGlyphs" stroke="#000">Oligo</text>
<text x="456.90" y="516.30" font-size="11.7" textLength="27.60" lengthAdjust="spacingAndGlyphs" stroke="#000">2-DG</text>
<line x1="372.70" y1="523.40" x2="372.70" y2="595.80" stroke="#000" stroke-width="1.3"/>
<line x1="372.10" y1="595.80" x2="491.80" y2="595.80" stroke="#000" stroke-width="1.3"/>
<text x="370.20" y="528.70" font-size="9.61" text-anchor="end" textLength="14.70" lengthAdjust="spacingAndGlyphs" stroke="#000">250</text>
<text x="370.20" y="542.70" font-size="9.61" text-anchor="end" textLength="14.70" lengthAdjust="spacingAndGlyphs" stroke="#000">200</text>
<text x="370.20" y="556.70" font-size="9.61" text-anchor="end" textLength="14.70" lengthAdjust="spacingAndGlyphs" stroke="#000">150</text>
<text x="370.20" y="570.70" font-size="9.61" text-anchor="end" textLength="14.70" lengthAdjust="spacingAndGlyphs" stroke="#000">100</text>
<text x="370.20" y="584.70" font-size="9.61" text-anchor="end" textLength="9.80" lengthAdjust="spacingAndGlyphs" stroke="#000">50</text>
<text x="370.20" y="598.70" font-size="9.61" text-anchor="end" textLength="4.90" lengthAdjust="spacingAndGlyphs" stroke="#000">0</text>
<line x1="399.60" y1="521.90" x2="399.60" y2="595.80" stroke="#444" stroke-width="0.8" stroke-dasharray="1.2,1.2"/>
<line x1="430.40" y1="521.90" x2="430.40" y2="595.80" stroke="#444" stroke-width="0.8" stroke-dasharray="1.2,1.2"/>
<line x1="459.60" y1="521.90" x2="459.60" y2="595.80" stroke="#444" stroke-width="0.8" stroke-dasharray="1.2,1.2"/>
<text x="394.90" y="605.40" font-size="10.45" text-anchor="middle" textLength="11.12" lengthAdjust="spacingAndGlyphs" stroke="#000">18</text>
<text x="424.60" y="605.40" font-size="10.45" text-anchor="middle" textLength="11.12" lengthAdjust="spacingAndGlyphs" stroke="#000">45</text>
<text x="453.80" y="605.40" font-size="10.45" text-anchor="middle" textLength="11.12" lengthAdjust="spacingAndGlyphs" stroke="#000">70</text>
<text x="482.50" y="605.40" font-size="10.45" text-anchor="middle" textLength="11.12" lengthAdjust="spacingAndGlyphs" stroke="#000">97</text>
<polyline points="377.40,586.54 387.40,587.66 397.20,588.50 407.70,578.14 417.80,580.10 427.60,580.94 438.10,571.70 447.90,573.10 458.00,573.10 468.00,587.10 478.30,589.90 487.90,590.46" fill="none" stroke="#ff2a10" stroke-width="1.3"/>
<line x1="377.40" y1="585.42" x2="377.40" y2="587.66" stroke="#ff2a10" stroke-width="1.0"/>
<line x1="375.40" y1="585.42" x2="379.40" y2="585.42" stroke="#ff2a10" stroke-width="1.0"/>
<line x1="375.40" y1="587.66" x2="379.40" y2="587.66" stroke="#ff2a10" stroke-width="1.0"/>
<line x1="387.40" y1="586.26" x2="387.40" y2="589.06" stroke="#ff2a10" stroke-width="1.0"/>
<line x1="385.40" y1="586.26" x2="389.40" y2="586.26" stroke="#ff2a10" stroke-width="1.0"/>
<line x1="385.40" y1="589.06" x2="389.40" y2="589.06" stroke="#ff2a10" stroke-width="1.0"/>
<line x1="397.20" y1="587.38" x2="397.20" y2="589.62" stroke="#ff2a10" stroke-width="1.0"/>
<line x1="395.20" y1="587.38" x2="399.20" y2="587.38" stroke="#ff2a10" stroke-width="1.0"/>
<line x1="395.20" y1="589.62" x2="399.20" y2="589.62" stroke="#ff2a10" stroke-width="1.0"/>
<line x1="407.70" y1="575.90" x2="407.70" y2="580.38" stroke="#ff2a10" stroke-width="1.0"/>
<line x1="405.70" y1="575.90" x2="409.70" y2="575.90" stroke="#ff2a10" stroke-width="1.0"/>
<line x1="405.70" y1="580.38" x2="409.70" y2="580.38" stroke="#ff2a10" stroke-width="1.0"/>
<line x1="417.80" y1="579.26" x2="417.80" y2="580.94" stroke="#ff2a10" stroke-width="1.0"/>
<line x1="415.80" y1="579.26" x2="419.80" y2="579.26" stroke="#ff2a10" stroke-width="1.0"/>
<line x1="415.80" y1="580.94" x2="419.80" y2="580.94" stroke="#ff2a10" stroke-width="1.0"/>
<line x1="427.60" y1="578.14" x2="427.60" y2="583.74" stroke="#ff2a10" stroke-width="1.0"/>
<line x1="425.60" y1="578.14" x2="429.60" y2="578.14" stroke="#ff2a10" stroke-width="1.0"/>
<line x1="425.60" y1="583.74" x2="429.60" y2="583.74" stroke="#ff2a10" stroke-width="1.0"/>
<line x1="438.10" y1="571.14" x2="438.10" y2="572.26" stroke="#ff2a10" stroke-width="1.0"/>
<line x1="436.10" y1="571.14" x2="440.10" y2="571.14" stroke="#ff2a10" stroke-width="1.0"/>
<line x1="436.10" y1="572.26" x2="440.10" y2="572.26" stroke="#ff2a10" stroke-width="1.0"/>
<line x1="447.90" y1="572.54" x2="447.90" y2="573.66" stroke="#ff2a10" stroke-width="1.0"/>
<line x1="445.90" y1="572.54" x2="449.90" y2="572.54" stroke="#ff2a10" stroke-width="1.0"/>
<line x1="445.90" y1="573.66" x2="449.90" y2="573.66" stroke="#ff2a10" stroke-width="1.0"/>
<line x1="458.00" y1="572.54" x2="458.00" y2="573.66" stroke="#ff2a10" stroke-width="1.0"/>
<line x1="456.00" y1="572.54" x2="460.00" y2="572.54" stroke="#ff2a10" stroke-width="1.0"/>
<line x1="456.00" y1="573.66" x2="460.00" y2="573.66" stroke="#ff2a10" stroke-width="1.0"/>
<line x1="468.00" y1="586.26" x2="468.00" y2="587.94" stroke="#ff2a10" stroke-width="1.0"/>
<line x1="466.00" y1="586.26" x2="470.00" y2="586.26" stroke="#ff2a10" stroke-width="1.0"/>
<line x1="466.00" y1="587.94" x2="470.00" y2="587.94" stroke="#ff2a10" stroke-width="1.0"/>
<line x1="478.30" y1="589.06" x2="478.30" y2="590.74" stroke="#ff2a10" stroke-width="1.0"/>
<line x1="476.30" y1="589.06" x2="480.30" y2="589.06" stroke="#ff2a10" stroke-width="1.0"/>
<line x1="476.30" y1="590.74" x2="480.30" y2="590.74" stroke="#ff2a10" stroke-width="1.0"/>
<line x1="487.90" y1="589.34" x2="487.90" y2="591.58" stroke="#ff2a10" stroke-width="1.0"/>
<line x1="485.90" y1="589.34" x2="489.90" y2="589.34" stroke="#ff2a10" stroke-width="1.0"/>
<line x1="485.90" y1="591.58" x2="489.90" y2="591.58" stroke="#ff2a10" stroke-width="1.0"/>
<rect x="375.40" y="584.54" width="4.00" height="4.00" fill="#ff2a10"/>
<rect x="385.40" y="585.66" width="4.00" height="4.00" fill="#ff2a10"/>
<rect x="395.20" y="586.50" width="4.00" height="4.00" fill="#ff2a10"/>
<rect x="405.70" y="576.14" width="4.00" height="4.00" fill="#ff2a10"/>
<rect x="415.80" y="578.10" width="4.00" height="4.00" fill="#ff2a10"/>
<rect x="425.60" y="578.94" width="4.00" height="4.00" fill="#ff2a10"/>
<rect x="436.10" y="569.70" width="4.00" height="4.00" fill="#ff2a10"/>
<rect x="445.90" y="571.10" width="4.00" height="4.00" fill="#ff2a10"/>
<rect x="456.00" y="571.10" width="4.00" height="4.00" fill="#ff2a10"/>
<rect x="466.00" y="585.10" width="4.00" height="4.00" fill="#ff2a10"/>
<rect x="476.30" y="587.90" width="4.00" height="4.00" fill="#ff2a10"/>
<rect x="485.90" y="588.46" width="4.00" height="4.00" fill="#ff2a10"/>
<polyline points="377.40,582.06 387.40,582.06 397.20,582.06 407.70,566.10 417.80,566.66 427.60,570.86 438.10,556.30 447.90,558.54 458.00,559.66 468.00,580.10 478.30,587.10 487.90,587.66" fill="none" stroke="#2020ff" stroke-width="1.3"/>
<line x1="377.40" y1="580.38" x2="377.40" y2="583.74" stroke="#2020ff" stroke-width="1.0"/>
<line x1="375.40" y1="580.38" x2="379.40" y2="580.38" stroke="#2020ff" stroke-width="1.0"/>
<line x1="375.40" y1="583.74" x2="379.40" y2="583.74" stroke="#2020ff" stroke-width="1.0"/>
<line x1="387.40" y1="579.26" x2="387.40" y2="584.86" stroke="#2020ff" stroke-width="1.0"/>
<line x1="385.40" y1="579.26" x2="389.40" y2="579.26" stroke="#2020ff" stroke-width="1.0"/>
<line x1="385.40" y1="584.86" x2="389.40" y2="584.86" stroke="#2020ff" stroke-width="1.0"/>
<line x1="397.20" y1="578.98" x2="397.20" y2="585.14" stroke="#2020ff" stroke-width="1.0"/>
<line x1="395.20" y1="578.98" x2="399.20" y2="578.98" stroke="#2020ff" stroke-width="1.0"/>
<line x1="395.20" y1="585.14" x2="399.20" y2="585.14" stroke="#2020ff" stroke-width="1.0"/>
<line x1="407.70" y1="565.54" x2="407.70" y2="566.66" stroke="#2020ff" stroke-width="1.0"/>
<line x1="405.70" y1="565.54" x2="409.70" y2="565.54" stroke="#2020ff" stroke-width="1.0"/>
<line x1="405.70" y1="566.66" x2="409.70" y2="566.66" stroke="#2020ff" stroke-width="1.0"/>
<line x1="417.80" y1="566.10" x2="417.80" y2="567.22" stroke="#2020ff" stroke-width="1.0"/>
<line x1="415.80" y1="566.10" x2="419.80" y2="566.10" stroke="#2020ff" stroke-width="1.0"/>
<line x1="415.80" y1="567.22" x2="419.80" y2="567.22" stroke="#2020ff" stroke-width="1.0"/>
<line x1="427.60" y1="570.30" x2="427.60" y2="571.42" stroke="#2020ff" stroke-width="1.0"/>
<line x1="425.60" y1="570.30" x2="429.60" y2="570.30" stroke="#2020ff" stroke-width="1.0"/>
<line x1="425.60" y1="571.42" x2="429.60" y2="571.42" stroke="#2020ff" stroke-width="1.0"/>
<line x1="438.10" y1="553.78" x2="438.10" y2="558.82" stroke="#2020ff" stroke-width="1.0"/>
<line x1="436.10" y1="553.78" x2="440.10" y2="553.78" stroke="#2020ff" stroke-width="1.0"/>
<line x1="436.10" y1="558.82" x2="440.10" y2="558.82" stroke="#2020ff" stroke-width="1.0"/>
<line x1="447.90" y1="557.70" x2="447.90" y2="559.38" stroke="#2020ff" stroke-width="1.0"/>
<line x1="445.90" y1="557.70" x2="449.90" y2="557.70" stroke="#2020ff" stroke-width="1.0"/>
<line x1="445.90" y1="559.38" x2="449.90" y2="559.38" stroke="#2020ff" stroke-width="1.0"/>
<line x1="458.00" y1="558.82" x2="458.00" y2="560.50" stroke="#2020ff" stroke-width="1.0"/>
<line x1="456.00" y1="558.82" x2="460.00" y2="558.82" stroke="#2020ff" stroke-width="1.0"/>
<line x1="456.00" y1="560.50" x2="460.00" y2="560.50" stroke="#2020ff" stroke-width="1.0"/>
<line x1="468.00" y1="577.30" x2="468.00" y2="582.90" stroke="#2020ff" stroke-width="1.0"/>
<line x1="466.00" y1="577.30" x2="470.00" y2="577.30" stroke="#2020ff" stroke-width="1.0"/>
<line x1="466.00" y1="582.90" x2="470.00" y2="582.90" stroke="#2020ff" stroke-width="1.0"/>
<line x1="478.30" y1="585.42" x2="478.30" y2="588.78" stroke="#2020ff" stroke-width="1.0"/>
<line x1="476.30" y1="585.42" x2="480.30" y2="585.42" stroke="#2020ff" stroke-width="1.0"/>
<line x1="476.30" y1="588.78" x2="480.30" y2="588.78" stroke="#2020ff" stroke-width="1.0"/>
<line x1="487.90" y1="585.98" x2="487.90" y2="589.34" stroke="#2020ff" stroke-width="1.0"/>
<line x1="485.90" y1="585.98" x2="489.90" y2="585.98" stroke="#2020ff" stroke-width="1.0"/>
<line x1="485.90" y1="589.34" x2="489.90" y2="589.34" stroke="#2020ff" stroke-width="1.0"/>
<circle cx="377.40" cy="582.06" r="1.90" fill="#2020ff"/>
<circle cx="387.40" cy="582.06" r="1.90" fill="#2020ff"/>
<circle cx="397.20" cy="582.06" r="1.90" fill="#2020ff"/>
<circle cx="407.70" cy="566.10" r="1.90" fill="#2020ff"/>
<circle cx="417.80" cy="566.66" r="1.90" fill="#2020ff"/>
<circle cx="427.60" cy="570.86" r="1.90" fill="#2020ff"/>
<circle cx="438.10" cy="556.30" r="1.90" fill="#2020ff"/>
<circle cx="447.90" cy="558.54" r="1.90" fill="#2020ff"/>
<circle cx="458.00" cy="559.66" r="1.90" fill="#2020ff"/>
<circle cx="468.00" cy="580.10" r="1.90" fill="#2020ff"/>
<circle cx="478.30" cy="587.10" r="1.90" fill="#2020ff"/>
<circle cx="487.90" cy="587.66" r="1.90" fill="#2020ff"/>
<polyline points="377.40,580.66 387.40,580.94 397.20,581.50 407.70,545.66 417.80,547.34 427.60,546.50 438.10,535.30 447.90,538.66 458.00,541.74 468.00,578.14 478.30,586.54 487.90,587.94" fill="none" stroke="#3cb02c" stroke-width="1.3"/>
<line x1="377.40" y1="579.82" x2="377.40" y2="581.50" stroke="#3cb02c" stroke-width="1.0"/>
<line x1="375.40" y1="579.82" x2="379.40" y2="579.82" stroke="#3cb02c" stroke-width="1.0"/>
<line x1="375.40" y1="581.50" x2="379.40" y2="581.50" stroke="#3cb02c" stroke-width="1.0"/>
<line x1="387.40" y1="580.10" x2="387.40" y2="581.78" stroke="#3cb02c" stroke-width="1.0"/>
<line x1="385.40" y1="580.10" x2="389.40" y2="580.10" stroke="#3cb02c" stroke-width="1.0"/>
<line x1="385.40" y1="581.78" x2="389.40" y2="581.78" stroke="#3cb02c" stroke-width="1.0"/>
<line x1="397.20" y1="580.66" x2="397.20" y2="582.34" stroke="#3cb02c" stroke-width="1.0"/>
<line x1="395.20" y1="580.66" x2="399.20" y2="580.66" stroke="#3cb02c" stroke-width="1.0"/>
<line x1="395.20" y1="582.34" x2="399.20" y2="582.34" stroke="#3cb02c" stroke-width="1.0"/>
<line x1="407.70" y1="537.82" x2="407.70" y2="553.50" stroke="#3cb02c" stroke-width="1.0"/>
<line x1="405.70" y1="537.82" x2="409.70" y2="537.82" stroke="#3cb02c" stroke-width="1.0"/>
<line x1="405.70" y1="553.50" x2="409.70" y2="553.50" stroke="#3cb02c" stroke-width="1.0"/>
<line x1="417.80" y1="541.18" x2="417.80" y2="553.50" stroke="#3cb02c" stroke-width="1.0"/>
<line x1="415.80" y1="541.18" x2="419.80" y2="541.18" stroke="#3cb02c" stroke-width="1.0"/>
<line x1="415.80" y1="553.50" x2="419.80" y2="553.50" stroke="#3cb02c" stroke-width="1.0"/>
<line x1="427.60" y1="538.66" x2="427.60" y2="554.34" stroke="#3cb02c" stroke-width="1.0"/>
<line x1="425.60" y1="538.66" x2="429.60" y2="538.66" stroke="#3cb02c" stroke-width="1.0"/>
<line x1="425.60" y1="554.34" x2="429.60" y2="554.34" stroke="#3cb02c" stroke-width="1.0"/>
<line x1="438.10" y1="528.30" x2="438.10" y2="542.30" stroke="#3cb02c" stroke-width="1.0"/>
<line x1="436.10" y1="528.30" x2="440.10" y2="528.30" stroke="#3cb02c" stroke-width="1.0"/>
<line x1="436.10" y1="542.30" x2="440.10" y2="542.30" stroke="#3cb02c" stroke-width="1.0"/>
<line x1="447.90" y1="532.50" x2="447.90" y2="544.82" stroke="#3cb02c" stroke-width="1.0"/>
<line x1="445.90" y1="532.50" x2="449.90" y2="532.50" stroke="#3cb02c" stroke-width="1.0"/>
<line x1="445.90" y1="544.82" x2="449.90" y2="544.82" stroke="#3cb02c" stroke-width="1.0"/>
<line x1="458.00" y1="535.58" x2="458.00" y2="547.90" stroke="#3cb02c" stroke-width="1.0"/>
<line x1="456.00" y1="535.58" x2="460.00" y2="535.58" stroke="#3cb02c" stroke-width="1.0"/>
<line x1="456.00" y1="547.90" x2="460.00" y2="547.90" stroke="#3cb02c" stroke-width="1.0"/>
<line x1="468.00" y1="575.90" x2="468.00" y2="580.38" stroke="#3cb02c" stroke-width="1.0"/>
<line x1="466.00" y1="575.90" x2="470.00" y2="575.90" stroke="#3cb02c" stroke-width="1.0"/>
<line x1="466.00" y1="580.38" x2="470.00" y2="580.38" stroke="#3cb02c" stroke-width="1.0"/>
<line x1="478.30" y1="585.14" x2="478.30" y2="587.94" stroke="#3cb02c" stroke-width="1.0"/>
<line x1="476.30" y1="585.14" x2="480.30" y2="585.14" stroke="#3cb02c" stroke-width="1.0"/>
<line x1="476.30" y1="587.94" x2="480.30" y2="587.94" stroke="#3cb02c" stroke-width="1.0"/>
<line x1="487.90" y1="586.54" x2="487.90" y2="589.34" stroke="#3cb02c" stroke-width="1.0"/>
<line x1="485.90" y1="586.54" x2="489.90" y2="586.54" stroke="#3cb02c" stroke-width="1.0"/>
<line x1="485.90" y1="589.34" x2="489.90" y2="589.34" stroke="#3cb02c" stroke-width="1.0"/>
<path d="M377.40,578.76 L379.30,582.18 L375.50,582.18 Z" fill="#3cb02c"/>
<path d="M387.40,579.04 L389.30,582.46 L385.50,582.46 Z" fill="#3cb02c"/>
<path d="M397.20,579.60 L399.10,583.02 L395.30,583.02 Z" fill="#3cb02c"/>
<path d="M407.70,543.76 L409.60,547.18 L405.80,547.18 Z" fill="#3cb02c"/>
<path d="M417.80,545.44 L419.70,548.86 L415.90,548.86 Z" fill="#3cb02c"/>
<path d="M427.60,544.60 L429.50,548.02 L425.70,548.02 Z" fill="#3cb02c"/>
<path d="M438.10,533.40 L440.00,536.82 L436.20,536.82 Z" fill="#3cb02c"/>
<path d="M447.90,536.76 L449.80,540.18 L446.00,540.18 Z" fill="#3cb02c"/>
<path d="M458.00,539.84 L459.90,543.26 L456.10,543.26 Z" fill="#3cb02c"/>
<path d="M468.00,576.24 L469.90,579.66 L466.10,579.66 Z" fill="#3cb02c"/>
<path d="M478.30,584.64 L480.20,588.06 L476.40,588.06 Z" fill="#3cb02c"/>
<path d="M487.90,586.04 L489.80,589.46 L486.00,589.46 Z" fill="#3cb02c"/>
<line x1="430.40" y1="521.50" x2="430.40" y2="595.80" stroke="#222" stroke-width="1.0" stroke-dasharray="1.5,0.8"/>
<text x="405.40" y="614.60" font-size="11.29" textLength="54.90" lengthAdjust="spacingAndGlyphs" stroke="#000">Time (min)</text>
<text stroke="#000" transform="translate(351.6,609.8) rotate(-90)" font-size="13.2" textLength="110" lengthAdjust="spacingAndGlyphs">ECAR (mpH/min)</text>
<line x1="509.40" y1="519.50" x2="509.40" y2="605.90" stroke="#000" stroke-width="1.3"/>
<line x1="508.80" y1="605.90" x2="679.30" y2="605.90" stroke="#000" stroke-width="1.3"/>
<text x="507.40" y="524.40" font-size="11.49" text-anchor="end" textLength="18.60" lengthAdjust="spacingAndGlyphs" stroke="#000">200</text>
<text x="507.40" y="545.60" font-size="11.49" text-anchor="end" textLength="18.60" lengthAdjust="spacingAndGlyphs" stroke="#000">150</text>
<text x="507.40" y="566.80" font-size="11.49" text-anchor="end" textLength="18.60" lengthAdjust="spacingAndGlyphs" stroke="#000">100</text>
<text x="507.40" y="588.00" font-size="11.49" text-anchor="end" textLength="12.40" lengthAdjust="spacingAndGlyphs" stroke="#000">50</text>
<text x="507.40" y="609.20" font-size="11.49" text-anchor="end" textLength="6.20" lengthAdjust="spacingAndGlyphs" stroke="#000">0</text>
<rect x="513.30" y="576.30" width="12.30" height="29.60" fill="#2a14f8" stroke="#111" stroke-width="1.0"/>
<line x1="519.45" y1="572.30" x2="519.45" y2="580.30" stroke="#111" stroke-width="1.0"/>
<line x1="516.85" y1="572.30" x2="522.05" y2="572.30" stroke="#111" stroke-width="1.0"/>
<line x1="516.85" y1="580.30" x2="522.05" y2="580.30" stroke="#111" stroke-width="1.0"/>
<circle cx="517.45" cy="578.30" r="1.10" fill="#111"/>
<circle cx="521.45" cy="579.30" r="1.10" fill="#111"/>
<circle cx="519.45" cy="574.30" r="1.10" fill="#111"/>
<rect x="529.90" y="591.70" width="11.90" height="14.20" fill="#ff2a08" stroke="#111" stroke-width="1.0"/>
<line x1="535.85" y1="590.70" x2="535.85" y2="592.70" stroke="#111" stroke-width="1.0"/>
<line x1="533.25" y1="590.70" x2="538.45" y2="590.70" stroke="#111" stroke-width="1.0"/>
<line x1="533.25" y1="592.70" x2="538.45" y2="592.70" stroke="#111" stroke-width="1.0"/>
<circle cx="533.85" cy="591.70" r="1.10" fill="#111"/>
<circle cx="537.85" cy="591.70" r="1.10" fill="#111"/>
<rect x="546.40" y="548.40" width="11.90" height="57.50" fill="#3ca060" stroke="#111" stroke-width="1.0"/>
<line x1="552.35" y1="535.40" x2="552.35" y2="561.40" stroke="#111" stroke-width="1.0"/>
<line x1="549.75" y1="535.40" x2="554.95" y2="535.40" stroke="#111" stroke-width="1.0"/>
<line x1="549.75" y1="561.40" x2="554.95" y2="561.40" stroke="#111" stroke-width="1.0"/>
<circle cx="552.35" cy="536.40" r="1.10" fill="#111"/>
<circle cx="552.35" cy="554.40" r="1.10" fill="#111"/>
<circle cx="551.35" cy="562.40" r="1.10" fill="#111"/>
<rect x="568.30" y="562.10" width="12.20" height="43.80" fill="#2a14f8" stroke="#111" stroke-width="1.0"/>
<line x1="574.40" y1="556.10" x2="574.40" y2="567.10" stroke="#111" stroke-width="1.0"/>
<line x1="571.80" y1="556.10" x2="577.00" y2="556.10" stroke="#111" stroke-width="1.0"/>
<line x1="571.80" y1="567.10" x2="577.00" y2="567.10" stroke="#111" stroke-width="1.0"/>
<circle cx="572.40" cy="558.10" r="1.10" fill="#111"/>
<circle cx="576.40" cy="564.10" r="1.10" fill="#111"/>
<circle cx="574.40" cy="567.10" r="1.10" fill="#111"/>
<rect x="585.40" y="580.60" width="11.90" height="25.30" fill="#ff2a08" stroke="#111" stroke-width="1.0"/>
<line x1="591.35" y1="576.60" x2="591.35" y2="583.60" stroke="#111" stroke-width="1.0"/>
<line x1="588.75" y1="576.60" x2="593.95" y2="576.60" stroke="#111" stroke-width="1.0"/>
<line x1="588.75" y1="583.60" x2="593.95" y2="583.60" stroke="#111" stroke-width="1.0"/>
<circle cx="589.35" cy="578.60" r="1.10" fill="#111"/>
<circle cx="593.35" cy="577.60" r="1.10" fill="#111"/>
<circle cx="591.35" cy="582.60" r="1.10" fill="#111"/>
<rect x="601.90" y="533.60" width="12.50" height="72.30" fill="#3ca060" stroke="#111" stroke-width="1.0"/>
<line x1="608.15" y1="522.60" x2="608.15" y2="544.60" stroke="#111" stroke-width="1.0"/>
<line x1="605.55" y1="522.60" x2="610.75" y2="522.60" stroke="#111" stroke-width="1.0"/>
<line x1="605.55" y1="544.60" x2="610.75" y2="544.60" stroke="#111" stroke-width="1.0"/>
<circle cx="608.15" cy="524.60" r="1.10" fill="#111"/>
<circle cx="607.15" cy="535.60" r="1.10" fill="#111"/>
<circle cx="609.15" cy="541.60" r="1.10" fill="#111"/>
<rect x="628.10" y="592.50" width="12.20" height="13.40" fill="#2a14f8" stroke="#111" stroke-width="1.0"/>
<line x1="634.20" y1="588.50" x2="634.20" y2="595.50" stroke="#111" stroke-width="1.0"/>
<line x1="631.60" y1="588.50" x2="636.80" y2="588.50" stroke="#111" stroke-width="1.0"/>
<line x1="631.60" y1="595.50" x2="636.80" y2="595.50" stroke="#111" stroke-width="1.0"/>
<circle cx="633.20" cy="590.50" r="1.10" fill="#111"/>
<circle cx="636.20" cy="593.50" r="1.10" fill="#111"/>
<rect x="645.10" y="595.40" width="12.00" height="10.50" fill="#ff2a08" stroke="#111" stroke-width="1.0"/>
<line x1="651.10" y1="592.40" x2="651.10" y2="597.40" stroke="#111" stroke-width="1.0"/>
<line x1="648.50" y1="592.40" x2="653.70" y2="592.40" stroke="#111" stroke-width="1.0"/>
<line x1="648.50" y1="597.40" x2="653.70" y2="597.40" stroke="#111" stroke-width="1.0"/>
<circle cx="649.10" cy="594.40" r="1.10" fill="#111"/>
<circle cx="653.10" cy="595.40" r="1.10" fill="#111"/>
<rect x="661.60" y="593.40" width="12.00" height="12.50" fill="#3ca060" stroke="#111" stroke-width="1.0"/>
<line x1="667.60" y1="587.40" x2="667.60" y2="598.40" stroke="#111" stroke-width="1.0"/>
<line x1="665.00" y1="587.40" x2="670.20" y2="587.40" stroke="#111" stroke-width="1.0"/>
<line x1="665.00" y1="598.40" x2="670.20" y2="598.40" stroke="#111" stroke-width="1.0"/>
<circle cx="667.60" cy="588.40" r="1.10" fill="#111"/>
<circle cx="668.60" cy="597.40" r="1.10" fill="#111"/>
<text x="504.90" y="496.90" font-size="11.91" textLength="54.00" lengthAdjust="spacingAndGlyphs" stroke="#000">Glycolysis</text>
<text x="568.10" y="491.60" font-size="11.91" textLength="51.30" lengthAdjust="spacingAndGlyphs" stroke="#000">Glycolytic</text>
<text x="572.90" y="502.40" font-size="11.91" textLength="43.80" lengthAdjust="spacingAndGlyphs" stroke="#000">Capacity</text>
<text x="629.60" y="493.50" font-size="11.91" textLength="51.90" lengthAdjust="spacingAndGlyphs" stroke="#000">Glycolytic</text>
<text x="635.60" y="503.90" font-size="11.91" textLength="42.60" lengthAdjust="spacingAndGlyphs" stroke="#000">Reserve</text>
<path d="M517.60,520.10 L517.60,517.10 L552.60,517.10 L552.60,520.10" fill="none" stroke="#111" stroke-width="1.6"/>
<path d="M528.40,512.50L528.40,509.09M528.40,512.50L531.64,511.45M528.40,512.50L530.40,515.26M528.40,512.50L526.40,515.26M528.40,512.50L525.16,511.45" stroke="#111" stroke-width="1.52" stroke-linecap="butt" fill="none"/>
<path d="M535.10,512.50L535.10,509.09M535.10,512.50L538.34,511.45M535.10,512.50L537.10,515.26M535.10,512.50L533.10,515.26M535.10,512.50L531.86,511.45" stroke="#111" stroke-width="1.52" stroke-linecap="butt" fill="none"/>
<path d="M541.80,512.50L541.80,509.09M541.80,512.50L545.04,511.45M541.80,512.50L543.80,515.26M541.80,512.50L539.80,515.26M541.80,512.50L538.56,511.45" stroke="#111" stroke-width="1.52" stroke-linecap="butt" fill="none"/>
<path d="M517.60,530.00 L517.60,527.00 L535.50,527.00 L535.50,530.00" fill="none" stroke="#111" stroke-width="1.6"/>
<path d="M526.55,522.40L526.55,518.99M526.55,522.40L529.79,521.35M526.55,522.40L528.55,525.16M526.55,522.40L524.55,525.16M526.55,522.40L523.31,521.35" stroke="#111" stroke-width="1.52" stroke-linecap="butt" fill="none"/>
<path d="M572.60,520.10 L572.60,517.10 L608.10,517.10 L608.10,520.10" fill="none" stroke="#111" stroke-width="1.6"/>
<path d="M583.65,512.50L583.65,509.09M583.65,512.50L586.89,511.45M583.65,512.50L585.65,515.26M583.65,512.50L581.65,515.26M583.65,512.50L580.41,511.45" stroke="#111" stroke-width="1.52" stroke-linecap="butt" fill="none"/>
<path d="M590.35,512.50L590.35,509.09M590.35,512.50L593.59,511.45M590.35,512.50L592.35,515.26M590.35,512.50L588.35,515.26M590.35,512.50L587.11,511.45" stroke="#111" stroke-width="1.52" stroke-linecap="butt" fill="none"/>
<path d="M597.05,512.50L597.05,509.09M597.05,512.50L600.29,511.45M597.05,512.50L599.05,515.26M597.05,512.50L595.05,515.26M597.05,512.50L593.81,511.45" stroke="#111" stroke-width="1.52" stroke-linecap="butt" fill="none"/>
<path d="M572.60,530.00 L572.60,527.00 L591.00,527.00 L591.00,530.00" fill="none" stroke="#111" stroke-width="1.6"/>
<path d="M578.45,522.40L578.45,518.99M578.45,522.40L581.69,521.35M578.45,522.40L580.45,525.16M578.45,522.40L576.45,525.16M578.45,522.40L575.21,521.35" stroke="#111" stroke-width="1.52" stroke-linecap="butt" fill="none"/>
<path d="M585.15,522.40L585.15,518.99M585.15,522.40L588.39,521.35M585.15,522.40L587.15,525.16M585.15,522.40L583.15,525.16M585.15,522.40L581.91,521.35" stroke="#111" stroke-width="1.52" stroke-linecap="butt" fill="none"/>
<text x="2.40" y="653.00" font-size="16.2" textLength="6.40" lengthAdjust="spacingAndGlyphs" stroke="#000">f</text>
<rect x="70.70" y="646.60" width="12.13" height="13.61" fill="#f0a8b4" stroke="#a0a0a8" stroke-width="0.6"/>
<rect x="82.83" y="646.60" width="12.13" height="13.61" fill="#f4bcc8" stroke="#a0a0a8" stroke-width="0.6"/>
<rect x="94.97" y="646.60" width="12.13" height="13.61" fill="#f0b8c4" stroke="#a0a0a8" stroke-width="0.6"/>
<rect x="107.10" y="646.60" width="12.13" height="13.61" fill="#6040f8" stroke="#a0a0a8" stroke-width="0.6"/>
<rect x="119.23" y="646.60" width="12.13" height="13.61" fill="#1000f8" stroke="#a0a0a8" stroke-width="0.6"/>
<rect x="131.37" y="646.60" width="12.13" height="13.61" fill="#9090f0" stroke="#a0a0a8" stroke-width="0.6"/>
<rect x="143.50" y="646.60" width="12.13" height="13.61" fill="#f06880" stroke="#a0a0a8" stroke-width="0.6"/>
<rect x="155.63" y="646.60" width="12.13" height="13.61" fill="#f05870" stroke="#a0a0a8" stroke-width="0.6"/>
<rect x="167.77" y="646.60" width="12.13" height="13.61" fill="#f06878" stroke="#a0a0a8" stroke-width="0.6"/>
<rect x="70.70" y="660.21" width="12.13" height="13.61" fill="#f07888" stroke="#a0a0a8" stroke-width="0.6"/>
<rect x="82.83" y="660.21" width="12.13" height="13.61" fill="#f04860" stroke="#a0a0a8" stroke-width="0.6"/>
<rect x="94.97" y="660.21" width="12.13" height="13.61" fill="#f82010" stroke="#a0a0a8" stroke-width="0.6"/>
<rect x="107.10" y="660.21" width="12.13" height="13.61" fill="#7060f0" stroke="#a0a0a8" stroke-width="0.6"/>
<rect x="119.23" y="660.21" width="12.13" height="13.61" fill="#2000f0" stroke="#a0a0a8" stroke-width="0.6"/>
<rect x="131.37" y="660.21" width="12.13" height="13.61" fill="#c0c0f8" stroke="#a0a0a8" stroke-width="0.6"/>
<rect x="143.50" y="660.21" width="12.13" height="13.61" fill="#fafaff" stroke="#a0a0a8" stroke-width="0.6"/>
<rect x="155.63" y="660.21" width="12.13" height="13.61" fill="#b0b0f8" stroke="#a0a0a8" stroke-width="0.6"/>
<rect x="167.77" y="660.21" width="12.13" height="13.61" fill="#fcfcfc" stroke="#a0a0a8" stroke-width="0.6"/>
<rect x="70.70" y="673.81" width="12.13" height="13.61" fill="#f06878" stroke="#a0a0a8" stroke-width="0.6"/>
<rect x="82.83" y="673.81" width="12.13" height="13.61" fill="#f07888" stroke="#a0a0a8" stroke-width="0.6"/>
<rect x="94.97" y="673.81" width="12.13" height="13.61" fill="#f08898" stroke="#a0a0a8" stroke-width="0.6"/>
<rect x="107.10" y="673.81" width="12.13" height="13.61" fill="#2000f0" stroke="#a0a0a8" stroke-width="0.6"/>
<rect x="119.23" y="673.81" width="12.13" height="13.61" fill="#2010f0" stroke="#a0a0a8" stroke-width="0.6"/>
<rect x="131.37" y="673.81" width="12.13" height="13.61" fill="#8070f0" stroke="#a0a0a8" stroke-width="0.6"/>
<rect x="143.50" y="673.81" width="12.13" height="13.61" fill="#f4b8c0" stroke="#a0a0a8" stroke-width="0.6"/>
<rect x="155.63" y="673.81" width="12.13" height="13.61" fill="#f08898" stroke="#a0a0a8" stroke-width="0.6"/>
<rect x="167.77" y="673.81" width="12.13" height="13.61" fill="#f098a0" stroke="#a0a0a8" stroke-width="0.6"/>
<rect x="70.70" y="687.42" width="12.13" height="13.61" fill="#f04860" stroke="#a0a0a8" stroke-width="0.6"/>
<rect x="82.83" y="687.42" width="12.13" height="13.61" fill="#f83040" stroke="#a0a0a8" stroke-width="0.6"/>
<rect x="94.97" y="687.42" width="12.13" height="13.61" fill="#f06070" stroke="#a0a0a8" stroke-width="0.6"/>
<rect x="107.10" y="687.42" width="12.13" height="13.61" fill="#7060f0" stroke="#a0a0a8" stroke-width="0.6"/>
<rect x="119.23" y="687.42" width="12.13" height="13.61" fill="#2000f0" stroke="#a0a0a8" stroke-width="0.6"/>
<rect x="131.37" y="687.42" width="12.13" height="13.61" fill="#7060f0" stroke="#a0a0a8" stroke-width="0.6"/>
<rect x="143.50" y="687.42" width="12.13" height="13.61" fill="#e8e8f8" stroke="#a0a0a8" stroke-width="0.6"/>
<rect x="155.63" y="687.42" width="12.13" height="13.61" fill="#f4c8d0" stroke="#a0a0a8" stroke-width="0.6"/>
<rect x="167.77" y="687.42" width="12.13" height="13.61" fill="#f0c8d0" stroke="#a0a0a8" stroke-width="0.6"/>
<rect x="70.70" y="701.02" width="12.13" height="13.61" fill="#5040f8" stroke="#a0a0a8" stroke-width="0.6"/>
<rect x="82.83" y="701.02" width="12.13" height="13.61" fill="#3010f8" stroke="#a0a0a8" stroke-width="0.6"/>
<rect x="94.97" y="701.02" width="12.13" height="13.61" fill="#6858f0" stroke="#a0a0a8" stroke-width="0.6"/>
<rect x="107.10" y="701.02" width="12.13" height="13.61" fill="#f8e8e8" stroke="#a0a0a8" stroke-width="0.6"/>
<rect x="119.23" y="701.02" width="12.13" height="13.61" fill="#f8e8ec" stroke="#a0a0a8" stroke-width="0.6"/>
<rect x="131.37" y="701.02" width="12.13" height="13.61" fill="#f8d8dc" stroke="#a0a0a8" stroke-width="0.6"/>
<rect x="143.50" y="701.02" width="12.13" height="13.61" fill="#f82030" stroke="#a0a0a8" stroke-width="0.6"/>
<rect x="155.63" y="701.02" width="12.13" height="13.61" fill="#f84050" stroke="#a0a0a8" stroke-width="0.6"/>
<rect x="167.77" y="701.02" width="12.13" height="13.61" fill="#f08898" stroke="#a0a0a8" stroke-width="0.6"/>
<rect x="70.70" y="714.63" width="12.13" height="13.61" fill="#6858f8" stroke="#a0a0a8" stroke-width="0.6"/>
<rect x="82.83" y="714.63" width="12.13" height="13.61" fill="#7868f0" stroke="#a0a0a8" stroke-width="0.6"/>
<rect x="94.97" y="714.63" width="12.13" height="13.61" fill="#9088f0" stroke="#a0a0a8" stroke-width="0.6"/>
<rect x="107.10" y="714.63" width="12.13" height="13.61" fill="#8878f0" stroke="#a0a0a8" stroke-width="0.6"/>
<rect x="119.23" y="714.63" width="12.13" height="13.61" fill="#f8f0f0" stroke="#a0a0a8" stroke-width="0.6"/>
<rect x="131.37" y="714.63" width="12.13" height="13.61" fill="#b8b0f8" stroke="#a0a0a8" stroke-width="0.6"/>
<rect x="143.50" y="714.63" width="12.13" height="13.61" fill="#f82010" stroke="#a0a0a8" stroke-width="0.6"/>
<rect x="155.63" y="714.63" width="12.13" height="13.61" fill="#f05868" stroke="#a0a0a8" stroke-width="0.6"/>
<rect x="167.77" y="714.63" width="12.13" height="13.61" fill="#f83848" stroke="#a0a0a8" stroke-width="0.6"/>
<rect x="70.70" y="728.23" width="12.13" height="13.61" fill="#b8b0f8" stroke="#a0a0a8" stroke-width="0.6"/>
<rect x="82.83" y="728.23" width="12.13" height="13.61" fill="#8878f8" stroke="#a0a0a8" stroke-width="0.6"/>
<rect x="94.97" y="728.23" width="12.13" height="13.61" fill="#a098f8" stroke="#a0a0a8" stroke-width="0.6"/>
<rect x="107.10" y="728.23" width="12.13" height="13.61" fill="#7868f0" stroke="#a0a0a8" stroke-width="0.6"/>
<rect x="119.23" y="728.23" width="12.13" height="13.61" fill="#7868f0" stroke="#a0a0a8" stroke-width="0.6"/>
<rect x="131.37" y="728.23" width="12.13" height="13.61" fill="#a8a0f0" stroke="#a0a0a8" stroke-width="0.6"/>
<rect x="143.50" y="728.23" width="12.13" height="13.61" fill="#f82838" stroke="#a0a0a8" stroke-width="0.6"/>
<rect x="155.63" y="728.23" width="12.13" height="13.61" fill="#f83040" stroke="#a0a0a8" stroke-width="0.6"/>
<rect x="167.77" y="728.23" width="12.13" height="13.61" fill="#f82030" stroke="#a0a0a8" stroke-width="0.6"/>
<rect x="70.70" y="741.84" width="12.13" height="13.61" fill="#f82840" stroke="#a0a0a8" stroke-width="0.6"/>
<rect x="82.83" y="741.84" width="12.13" height="13.61" fill="#f83048" stroke="#a0a0a8" stroke-width="0.6"/>
<rect x="94.97" y="741.84" width="12.13" height="13.61" fill="#f83048" stroke="#a0a0a8" stroke-width="0.6"/>
<rect x="107.10" y="741.84" width="12.13" height="13.61" fill="#6858f0" stroke="#a0a0a8" stroke-width="0.6"/>
<rect x="119.23" y="741.84" width="12.13" height="13.61" fill="#6050f0" stroke="#a0a0a8" stroke-width="0.6"/>
<rect x="131.37" y="741.84" width="12.13" height="13.61" fill="#6050f0" stroke="#a0a0a8" stroke-width="0.6"/>
<rect x="143.50" y="741.84" width="12.13" height="13.61" fill="#e0e0f8" stroke="#a0a0a8" stroke-width="0.6"/>
<rect x="155.63" y="741.84" width="12.13" height="13.61" fill="#d8d8f8" stroke="#a0a0a8" stroke-width="0.6"/>
<rect x="167.77" y="741.84" width="12.13" height="13.61" fill="#e0e0f8" stroke="#a0a0a8" stroke-width="0.6"/>
<rect x="70.70" y="755.44" width="12.13" height="13.61" fill="#f0f0fc" stroke="#a0a0a8" stroke-width="0.6"/>
<rect x="82.83" y="755.44" width="12.13" height="13.61" fill="#f04058" stroke="#a0a0a8" stroke-width="0.6"/>
<rect x="94.97" y="755.44" width="12.13" height="13.61" fill="#f4c8d0" stroke="#a0a0a8" stroke-width="0.6"/>
<rect x="107.10" y="755.44" width="12.13" height="13.61" fill="#9088f0" stroke="#a0a0a8" stroke-width="0.6"/>
<rect x="119.23" y="755.44" width="12.13" height="13.61" fill="#5030f8" stroke="#a0a0a8" stroke-width="0.6"/>
<rect x="131.37" y="755.44" width="12.13" height="13.61" fill="#1808f8" stroke="#a0a0a8" stroke-width="0.6"/>
<rect x="143.50" y="755.44" width="12.13" height="13.61" fill="#f06878" stroke="#a0a0a8" stroke-width="0.6"/>
<rect x="155.63" y="755.44" width="12.13" height="13.61" fill="#f08090" stroke="#a0a0a8" stroke-width="0.6"/>
<rect x="167.77" y="755.44" width="12.13" height="13.61" fill="#f07080" stroke="#a0a0a8" stroke-width="0.6"/>
<rect x="70.70" y="769.05" width="12.13" height="13.61" fill="#f4b8c0" stroke="#a0a0a8" stroke-width="0.6"/>
<rect x="82.83" y="769.05" width="12.13" height="13.61" fill="#f098a8" stroke="#a0a0a8" stroke-width="0.6"/>
<rect x="94.97" y="769.05" width="12.13" height="13.61" fill="#f098a0" stroke="#a0a0a8" stroke-width="0.6"/>
<rect x="107.10" y="769.05" width="12.13" height="13.61" fill="#1000f8" stroke="#a0a0a8" stroke-width="0.6"/>
<rect x="119.23" y="769.05" width="12.13" height="13.61" fill="#8880f0" stroke="#a0a0a8" stroke-width="0.6"/>
<rect x="131.37" y="769.05" width="12.13" height="13.61" fill="#2000f8" stroke="#a0a0a8" stroke-width="0.6"/>
<rect x="143.50" y="769.05" width="12.13" height="13.61" fill="#f07888" stroke="#a0a0a8" stroke-width="0.6"/>
<rect x="155.63" y="769.05" width="12.13" height="13.61" fill="#f07888" stroke="#a0a0a8" stroke-width="0.6"/>
<rect x="167.77" y="769.05" width="12.13" height="13.61" fill="#f06070" stroke="#a0a0a8" stroke-width="0.6"/>
<rect x="70.70" y="782.66" width="12.13" height="13.61" fill="#f06070" stroke="#a0a0a8" stroke-width="0.6"/>
<rect x="82.83" y="782.66" width="12.13" height="13.61" fill="#f4b0c0" stroke="#a0a0a8" stroke-width="0.6"/>
<rect x="94.97" y="782.66" width="12.13" height="13.61" fill="#fcfcfc" stroke="#a0a0a8" stroke-width="0.6"/>
<rect x="107.10" y="782.66" width="12.13" height="13.61" fill="#6050f0" stroke="#a0a0a8" stroke-width="0.6"/>
<rect x="119.23" y="782.66" width="12.13" height="13.61" fill="#6050f0" stroke="#a0a0a8" stroke-width="0.6"/>
<rect x="131.37" y="782.66" width="12.13" height="13.61" fill="#2000f8" stroke="#a0a0a8" stroke-width="0.6"/>
<rect x="143.50" y="782.66" width="12.13" height="13.61" fill="#f08898" stroke="#a0a0a8" stroke-width="0.6"/>
<rect x="155.63" y="782.66" width="12.13" height="13.61" fill="#f05060" stroke="#a0a0a8" stroke-width="0.6"/>
<rect x="167.77" y="782.66" width="12.13" height="13.61" fill="#f06878" stroke="#a0a0a8" stroke-width="0.6"/>
<rect x="70.70" y="796.26" width="12.13" height="13.61" fill="#2000f8" stroke="#a0a0a8" stroke-width="0.6"/>
<rect x="82.83" y="796.26" width="12.13" height="13.61" fill="#b8b8f8" stroke="#a0a0a8" stroke-width="0.6"/>
<rect x="94.97" y="796.26" width="12.13" height="13.61" fill="#b8b8f8" stroke="#a0a0a8" stroke-width="0.6"/>
<rect x="107.10" y="796.26" width="12.13" height="13.61" fill="#a8a0f0" stroke="#a0a0a8" stroke-width="0.6"/>
<rect x="119.23" y="796.26" width="12.13" height="13.61" fill="#e8e8f8" stroke="#a0a0a8" stroke-width="0.6"/>
<rect x="131.37" y="796.26" width="12.13" height="13.61" fill="#a098f0" stroke="#a0a0a8" stroke-width="0.6"/>
<rect x="143.50" y="796.26" width="12.13" height="13.61" fill="#f04050" stroke="#a0a0a8" stroke-width="0.6"/>
<rect x="155.63" y="796.26" width="12.13" height="13.61" fill="#f04050" stroke="#a0a0a8" stroke-width="0.6"/>
<rect x="167.77" y="796.26" width="12.13" height="13.61" fill="#f04050" stroke="#a0a0a8" stroke-width="0.6"/>
<rect x="70.70" y="809.87" width="12.13" height="13.61" fill="#f05870" stroke="#a0a0a8" stroke-width="0.6"/>
<rect x="82.83" y="809.87" width="12.13" height="13.61" fill="#f04050" stroke="#a0a0a8" stroke-width="0.6"/>
<rect x="94.97" y="809.87" width="12.13" height="13.61" fill="#f82030" stroke="#a0a0a8" stroke-width="0.6"/>
<rect x="107.10" y="809.87" width="12.13" height="13.61" fill="#2000f8" stroke="#a0a0a8" stroke-width="0.6"/>
<rect x="119.23" y="809.87" width="12.13" height="13.61" fill="#8880f0" stroke="#a0a0a8" stroke-width="0.6"/>
<rect x="131.37" y="809.87" width="12.13" height="13.61" fill="#c0c0f8" stroke="#a0a0a8" stroke-width="0.6"/>
<rect x="143.50" y="809.87" width="12.13" height="13.61" fill="#c0c0f8" stroke="#a0a0a8" stroke-width="0.6"/>
<rect x="155.63" y="809.87" width="12.13" height="13.61" fill="#fcf0f0" stroke="#a0a0a8" stroke-width="0.6"/>
<rect x="167.77" y="809.87" width="12.13" height="13.61" fill="#d8d8f8" stroke="#a0a0a8" stroke-width="0.6"/>
<rect x="70.70" y="823.47" width="12.13" height="13.61" fill="#d0d0f8" stroke="#a0a0a8" stroke-width="0.6"/>
<rect x="82.83" y="823.47" width="12.13" height="13.61" fill="#f82020" stroke="#a0a0a8" stroke-width="0.6"/>
<rect x="94.97" y="823.47" width="12.13" height="13.61" fill="#f82010" stroke="#a0a0a8" stroke-width="0.6"/>
<rect x="107.10" y="823.47" width="12.13" height="13.61" fill="#c0c0f8" stroke="#a0a0a8" stroke-width="0.6"/>
<rect x="119.23" y="823.47" width="12.13" height="13.61" fill="#f8e0e0" stroke="#a0a0a8" stroke-width="0.6"/>
<rect x="131.37" y="823.47" width="12.13" height="13.61" fill="#b8b8f8" stroke="#a0a0a8" stroke-width="0.6"/>
<rect x="143.50" y="823.47" width="12.13" height="13.61" fill="#e0e0f8" stroke="#a0a0a8" stroke-width="0.6"/>
<rect x="155.63" y="823.47" width="12.13" height="13.61" fill="#2000f8" stroke="#a0a0a8" stroke-width="0.6"/>
<rect x="167.77" y="823.47" width="12.13" height="13.61" fill="#d0d0f8" stroke="#a0a0a8" stroke-width="0.6"/>
<rect x="70.70" y="837.08" width="12.13" height="13.61" fill="#a8a8f8" stroke="#a0a0a8" stroke-width="0.6"/>
<rect x="82.83" y="837.08" width="12.13" height="13.61" fill="#f04050" stroke="#a0a0a8" stroke-width="0.6"/>
<rect x="94.97" y="837.08" width="12.13" height="13.61" fill="#e0e0f8" stroke="#a0a0a8" stroke-width="0.6"/>
<rect x="107.10" y="837.08" width="12.13" height="13.61" fill="#f8d8d8" stroke="#a0a0a8" stroke-width="0.6"/>
<rect x="119.23" y="837.08" width="12.13" height="13.61" fill="#f82010" stroke="#a0a0a8" stroke-width="0.6"/>
<rect x="131.37" y="837.08" width="12.13" height="13.61" fill="#e0e0f8" stroke="#a0a0a8" stroke-width="0.6"/>
<rect x="143.50" y="837.08" width="12.13" height="13.61" fill="#a8a0f0" stroke="#a0a0a8" stroke-width="0.6"/>
<rect x="155.63" y="837.08" width="12.13" height="13.61" fill="#d0d0f8" stroke="#a0a0a8" stroke-width="0.6"/>
<rect x="167.77" y="837.08" width="12.13" height="13.61" fill="#2000f8" stroke="#a0a0a8" stroke-width="0.6"/>
<rect x="70.70" y="850.68" width="12.13" height="13.61" fill="#9890f0" stroke="#a0a0a8" stroke-width="0.6"/>
<rect x="82.83" y="850.68" width="12.13" height="13.61" fill="#b0b0f8" stroke="#a0a0a8" stroke-width="0.6"/>
<rect x="94.97" y="850.68" width="12.13" height="13.61" fill="#d8d8f8" stroke="#a0a0a8" stroke-width="0.6"/>
<rect x="107.10" y="850.68" width="12.13" height="13.61" fill="#f82028" stroke="#a0a0a8" stroke-width="0.6"/>
<rect x="119.23" y="850.68" width="12.13" height="13.61" fill="#f82038" stroke="#a0a0a8" stroke-width="0.6"/>
<rect x="131.37" y="850.68" width="12.13" height="13.61" fill="#a8a0f0" stroke="#a0a0a8" stroke-width="0.6"/>
<rect x="143.50" y="850.68" width="12.13" height="13.61" fill="#7870f0" stroke="#a0a0a8" stroke-width="0.6"/>
<rect x="155.63" y="850.68" width="12.13" height="13.61" fill="#f05870" stroke="#a0a0a8" stroke-width="0.6"/>
<rect x="167.77" y="850.68" width="12.13" height="13.61" fill="#7868f0" stroke="#a0a0a8" stroke-width="0.6"/>
<rect x="70.70" y="864.29" width="12.13" height="13.61" fill="#f0f0fa" stroke="#a0a0a8" stroke-width="0.6"/>
<rect x="82.83" y="864.29" width="12.13" height="13.61" fill="#e4e4f8" stroke="#a0a0a8" stroke-width="0.6"/>
<rect x="94.97" y="864.29" width="12.13" height="13.61" fill="#b0b0f8" stroke="#a0a0a8" stroke-width="0.6"/>
<rect x="107.10" y="864.29" width="12.13" height="13.61" fill="#f0909c" stroke="#a0a0a8" stroke-width="0.6"/>
<rect x="119.23" y="864.29" width="12.13" height="13.61" fill="#f82838" stroke="#a0a0a8" stroke-width="0.6"/>
<rect x="131.37" y="864.29" width="12.13" height="13.61" fill="#f84050" stroke="#a0a0a8" stroke-width="0.6"/>
<rect x="143.50" y="864.29" width="12.13" height="13.61" fill="#b0b0f8" stroke="#a0a0a8" stroke-width="0.6"/>
<rect x="155.63" y="864.29" width="12.13" height="13.61" fill="#f0f0fa" stroke="#a0a0a8" stroke-width="0.6"/>
<rect x="167.77" y="864.29" width="12.13" height="13.61" fill="#2000f8" stroke="#a0a0a8" stroke-width="0.6"/>
<rect x="70.70" y="877.89" width="12.13" height="13.61" fill="#c0c0f8" stroke="#a0a0a8" stroke-width="0.6"/>
<rect x="82.83" y="877.89" width="12.13" height="13.61" fill="#5030f8" stroke="#a0a0a8" stroke-width="0.6"/>
<rect x="94.97" y="877.89" width="12.13" height="13.61" fill="#6050f8" stroke="#a0a0a8" stroke-width="0.6"/>
<rect x="107.10" y="877.89" width="12.13" height="13.61" fill="#f82010" stroke="#a0a0a8" stroke-width="0.6"/>
<rect x="119.23" y="877.89" width="12.13" height="13.61" fill="#f05068" stroke="#a0a0a8" stroke-width="0.6"/>
<rect x="131.37" y="877.89" width="12.13" height="13.61" fill="#f06070" stroke="#a0a0a8" stroke-width="0.6"/>
<rect x="143.50" y="877.89" width="12.13" height="13.61" fill="#f4d8e0" stroke="#a0a0a8" stroke-width="0.6"/>
<rect x="155.63" y="877.89" width="12.13" height="13.61" fill="#c8c8f8" stroke="#a0a0a8" stroke-width="0.6"/>
<rect x="167.77" y="877.89" width="12.13" height="13.61" fill="#7868f0" stroke="#a0a0a8" stroke-width="0.6"/>
<rect x="65.90" y="646.60" width="3.50" height="121.00" fill="#56c2ea"/>
<rect x="180.60" y="646.60" width="3.30" height="121.00" fill="#56c2ea"/>
<rect x="65.90" y="771.00" width="3.50" height="37.40" fill="#a6d86a"/>
<rect x="180.60" y="771.00" width="3.30" height="37.40" fill="#a6d86a"/>
<rect x="65.90" y="811.20" width="3.50" height="80.00" fill="#e8ac50"/>
<rect x="180.60" y="811.20" width="3.30" height="80.00" fill="#e8ac50"/>
<text x="186.10" y="657.90" font-size="11.7" textLength="23.61" lengthAdjust="spacingAndGlyphs" stroke="#000">G6P</text>
<text x="186.10" y="671.51" font-size="11.7" textLength="23.61" lengthAdjust="spacingAndGlyphs" stroke="#000">G1P</text>
<text x="186.10" y="685.11" font-size="11.7" textLength="23.60" lengthAdjust="spacingAndGlyphs" stroke="#000">FBP</text>
<text x="186.10" y="698.72" font-size="11.7" textLength="25.57" lengthAdjust="spacingAndGlyphs" stroke="#000">GAP</text>
<text x="186.10" y="712.33" font-size="11.7" textLength="33.44" lengthAdjust="spacingAndGlyphs" stroke="#000">DHAP</text>
<text x="186.10" y="725.93" font-size="11.7" textLength="23.61" lengthAdjust="spacingAndGlyphs" stroke="#000">PEP</text>
<text x="186.10" y="739.54" font-size="11.7" textLength="27.54" lengthAdjust="spacingAndGlyphs" stroke="#000">2-PG</text>
<text x="186.10" y="753.14" font-size="11.7" textLength="41.32" lengthAdjust="spacingAndGlyphs" stroke="#000">Lactate</text>
<text x="186.10" y="766.75" font-size="11.7" textLength="49.85" lengthAdjust="spacingAndGlyphs" stroke="#000">Pyruvate</text>
<text x="186.10" y="780.35" font-size="11.7" textLength="30.16" lengthAdjust="spacingAndGlyphs" stroke="#000">Ru5P</text>
<text x="186.10" y="793.96" font-size="11.7" textLength="22.95" lengthAdjust="spacingAndGlyphs" stroke="#000">R5P</text>
<text x="186.10" y="807.56" font-size="11.7" textLength="22.30" lengthAdjust="spacingAndGlyphs" stroke="#000">S7P</text>
<text x="186.10" y="821.17" font-size="11.7" textLength="93.12" lengthAdjust="spacingAndGlyphs" stroke="#000">Citrate/Isocitrate</text>
<text x="186.10" y="834.77" font-size="11.7" textLength="76.06" lengthAdjust="spacingAndGlyphs" stroke="#000">Cis-Aconitate</text>
<text x="186.10" y="848.38" font-size="11.7" textLength="54.41" lengthAdjust="spacingAndGlyphs" stroke="#000">Alpha-KG</text>
<text x="186.10" y="861.99" font-size="11.7" textLength="55.75" lengthAdjust="spacingAndGlyphs" stroke="#000">Succinate</text>
<text x="186.10" y="875.59" font-size="11.7" textLength="53.12" lengthAdjust="spacingAndGlyphs" stroke="#000">Fumarate</text>
<text x="186.10" y="889.20" font-size="11.7" textLength="36.73" lengthAdjust="spacingAndGlyphs" stroke="#000">Malate</text>
<text stroke="#000" transform="translate(60.3,745.6) rotate(-90)" font-size="15.5" textLength="76.5" lengthAdjust="spacingAndGlyphs">Glycolysis</text>
<text stroke="#000" transform="translate(60.6,804.2) rotate(-90)" font-size="15.5" textLength="29.5" lengthAdjust="spacingAndGlyphs">PPP</text>
<text stroke="#000" transform="translate(60.3,889.6) rotate(-90)" font-size="15.5" textLength="76.6" lengthAdjust="spacingAndGlyphs">TCA Cycle</text>
<line x1="72.70" y1="893.00" x2="104.00" y2="893.00" stroke="#555" stroke-width="1.6"/>
<line x1="108.70" y1="893.00" x2="140.10" y2="893.00" stroke="#555" stroke-width="1.6"/>
<line x1="144.20" y1="893.00" x2="177.50" y2="893.00" stroke="#555" stroke-width="1.6"/>
<text x="81.80" y="904.90" font-size="11.91" textLength="18.10" lengthAdjust="spacingAndGlyphs" stroke="#000">WT</text>
<text x="108.20" y="904.90" font-size="11.91" textLength="33.30" lengthAdjust="spacingAndGlyphs" stroke="#000">GYG1</text>
<text x="116.50" y="916.00" font-size="11.91" textLength="16.60" lengthAdjust="spacingAndGlyphs" stroke="#000">KO</text>
<text x="144.80" y="904.90" font-size="11.91" textLength="33.30" lengthAdjust="spacingAndGlyphs" stroke="#000">GYG2</text>
<text x="152.60" y="916.00" font-size="11.91" textLength="16.60" lengthAdjust="spacingAndGlyphs" stroke="#000">KO</text>
<defs><linearGradient id="cb" x1="0" y1="0" x2="0" y2="1"><stop offset="0" stop-color="#ff1010"/><stop offset="0.5" stop-color="#ffffff"/><stop offset="1" stop-color="#1010ff"/></linearGradient></defs>
<rect x="233.30" y="646.10" width="6.70" height="80.70" fill="url(#cb)"/>
<text x="242.00" y="669.00" font-size="11.49" textLength="4.60" lengthAdjust="spacingAndGlyphs" stroke="#000">1</text>
<text x="241.20" y="689.60" font-size="11.49" textLength="6.00" lengthAdjust="spacingAndGlyphs" stroke="#000">0</text>
<text x="241.40" y="710.80" font-size="11.49" textLength="8.60" lengthAdjust="spacingAndGlyphs" stroke="#000">-1</text>
<text x="342.20" y="652.00" font-size="16.2" textLength="9.60" lengthAdjust="spacingAndGlyphs" stroke="#000">g</text>
<text x="395.20" y="648.10" font-size="11.29" textLength="16.30" lengthAdjust="spacingAndGlyphs" font-weight="normal" stroke="#000" style="stroke-width:0.45px">WT</text>
<line x1="387.30" y1="650.60" x2="420.10" y2="650.60" stroke="#000" stroke-width="1.3"/>
<text x="422.00" y="648.10" font-size="11.29" textLength="48.10" lengthAdjust="spacingAndGlyphs" font-weight="normal" stroke="#000" style="stroke-width:0.45px">GYG1 KO</text>
<line x1="432.00" y1="650.60" x2="464.80" y2="650.60" stroke="#000" stroke-width="1.3"/>
<text x="471.90" y="648.10" font-size="11.29" textLength="48.10" lengthAdjust="spacingAndGlyphs" font-weight="normal" stroke="#000" style="stroke-width:0.45px">GYG2 KO</text>
<line x1="476.60" y1="650.60" x2="509.50" y2="650.60" stroke="#000" stroke-width="1.3"/>
<text x="517.60" y="648.10" font-size="11.29" textLength="16.80" lengthAdjust="spacingAndGlyphs" font-weight="normal" stroke="#000" style="stroke-width:0.45px">WT</text>
<line x1="518.10" y1="650.60" x2="554.90" y2="650.60" stroke="#000" stroke-width="1.3"/>
<text x="556.20" y="648.10" font-size="11.29" textLength="47.30" lengthAdjust="spacingAndGlyphs" font-weight="normal" stroke="#000" style="stroke-width:0.45px">GYG1 KO</text>
<line x1="566.70" y1="650.60" x2="599.60" y2="650.60" stroke="#000" stroke-width="1.3"/>
<text x="606.20" y="648.10" font-size="11.29" textLength="48.00" lengthAdjust="spacingAndGlyphs" font-weight="normal" stroke="#000" style="stroke-width:0.45px">GYG2 KO</text>
<line x1="612.20" y1="650.60" x2="644.30" y2="650.60" stroke="#000" stroke-width="1.3"/>
<rect x="372.00" y="657.80" width="2.80" height="89.80" fill="#56c2ea"/>
<rect x="371.00" y="762.90" width="3.20" height="81.20" fill="#e8ac50"/>
<text stroke="#000" transform="translate(366.6,734.0) rotate(-90)" font-size="11.5" textLength="63" lengthAdjust="spacingAndGlyphs">Glycolysis</text>
<text stroke="#000" transform="translate(366.6,834.3) rotate(-90)" font-size="11.5" textLength="63" lengthAdjust="spacingAndGlyphs">TCA Cycle</text>
<text x="378.10" y="661.30" font-size="11.91" textLength="22.90" lengthAdjust="spacingAndGlyphs" stroke="#000">G6P</text>
<text x="380.00" y="710.40" font-size="11.91" textLength="22.50" lengthAdjust="spacingAndGlyphs" stroke="#000">FBP</text>
<text x="518.70" y="659.70" font-size="11.91" textLength="26.20" lengthAdjust="spacingAndGlyphs" stroke="#000">2-PG</text>
<text x="518.70" y="707.30" font-size="11.91" textLength="48.00" lengthAdjust="spacingAndGlyphs" stroke="#000">Pyruvate</text>
<text x="376.80" y="759.50" font-size="11.91" textLength="54.60" lengthAdjust="spacingAndGlyphs" stroke="#000">Succinate</text>
<text x="518.70" y="759.50" font-size="11.91" textLength="35.70" lengthAdjust="spacingAndGlyphs" stroke="#000">Malate</text>
<text x="378.90" y="809.40" font-size="11.91" textLength="51.00" lengthAdjust="spacingAndGlyphs" stroke="#000">Fumarate</text>
<circle cx="403.50" cy="678.70" r="18.20" fill="#fff"/>
<path d="M403.50,678.70 L386.10,684.02 A18.20,18.20 0 0 1 385.84,683.10 Z" fill="#f09028"/>
<path d="M403.50,678.70 L385.84,683.10 A18.20,18.20 0 0 1 385.63,682.17 Z" fill="#f8f83c"/>
<path d="M403.50,678.70 L385.63,682.17 A18.20,18.20 0 0 1 385.37,680.29 Z" fill="#44ea10"/>
<path d="M403.50,678.70 L385.37,680.29 A18.20,18.20 0 0 1 385.30,678.70 Z" fill="#66faf8"/>
<path d="M403.50,678.70 L385.30,678.70 A18.20,18.20 0 0 1 403.50,660.50 Z" fill="#2412f2"/>
<circle cx="403.50" cy="678.70" r="18.20" fill="none" stroke="#333" stroke-width="0.8"/>
<circle cx="446.50" cy="668.20" r="7.20" fill="#fff"/>
<path d="M446.50,668.20 L441.68,662.85 A7.20,7.20 0 0 1 442.47,662.23 Z" fill="#f09028"/>
<path d="M446.50,668.20 L442.47,662.23 A7.20,7.20 0 0 1 444.04,661.43 Z" fill="#f8f83c"/>
<path d="M446.50,668.20 L444.04,661.43 A7.20,7.20 0 0 1 445.25,661.11 Z" fill="#44ea10"/>
<path d="M446.50,668.20 L445.25,661.11 A7.20,7.20 0 0 1 446.25,661.00 Z" fill="#66faf8"/>
<path d="M446.50,668.20 L446.25,661.00 A7.20,7.20 0 0 1 446.50,661.00 Z" fill="#2412f2"/>
<circle cx="446.50" cy="668.20" r="7.20" fill="none" stroke="#333" stroke-width="0.8"/>
<circle cx="493.40" cy="674.70" r="14.30" fill="#fff"/>
<path d="M493.40,674.70 L482.94,684.45 A14.30,14.30 0 0 1 481.98,683.31 Z" fill="#f09028"/>
<path d="M493.40,674.70 L481.98,683.31 A14.30,14.30 0 0 1 481.02,681.85 Z" fill="#f8f83c"/>
<path d="M493.40,674.70 L481.02,681.85 A14.30,14.30 0 0 1 479.96,679.59 Z" fill="#44ea10"/>
<path d="M493.40,674.70 L479.96,679.59 A14.30,14.30 0 0 1 479.41,677.67 Z" fill="#66faf8"/>
<path d="M493.40,674.70 L479.41,677.67 A14.30,14.30 0 0 1 493.40,660.40 Z" fill="#2412f2"/>
<circle cx="493.40" cy="674.70" r="14.30" fill="none" stroke="#333" stroke-width="0.8"/>
<circle cx="403.50" cy="731.10" r="18.30" fill="#fff"/>
<path d="M403.50,731.10 L387.05,739.12 A18.30,18.30 0 0 1 386.53,737.96 Z" fill="#f09028"/>
<path d="M403.50,731.10 L386.53,737.96 A18.30,18.30 0 0 1 386.10,736.76 Z" fill="#f8f83c"/>
<path d="M403.50,731.10 L386.10,736.76 A18.30,18.30 0 0 1 385.60,734.90 Z" fill="#44ea10"/>
<path d="M403.50,731.10 L385.60,734.90 A18.30,18.30 0 0 1 385.38,733.65 Z" fill="#66faf8"/>
<path d="M403.50,731.10 L385.38,733.65 A18.30,18.30 0 0 1 403.50,712.80 Z" fill="#2412f2"/>
<circle cx="403.50" cy="731.10" r="18.30" fill="none" stroke="#333" stroke-width="0.8"/>
<circle cx="446.40" cy="731.90" r="17.40" fill="#fff"/>
<path d="M446.40,731.90 L429.38,728.28 A17.40,17.40 0 0 1 429.59,727.40 Z" fill="#f09028"/>
<path d="M446.40,731.90 L429.59,727.40 A17.40,17.40 0 0 1 429.85,726.52 Z" fill="#f8f83c"/>
<path d="M446.40,731.90 L429.85,726.52 A17.40,17.40 0 0 1 446.40,714.50 Z" fill="#2412f2"/>
<circle cx="446.40" cy="731.90" r="17.40" fill="none" stroke="#333" stroke-width="0.8"/>
<circle cx="492.80" cy="724.50" r="24.70" fill="#fff"/>
<path d="M492.80,724.50 L469.66,733.15 A24.70,24.70 0 0 1 469.45,732.54 Z" fill="#f09028"/>
<path d="M492.80,724.50 L469.45,732.54 A24.70,24.70 0 0 1 469.31,732.13 Z" fill="#f8f83c"/>
<path d="M492.80,724.50 L469.31,732.13 A24.70,24.70 0 0 1 492.80,699.80 Z" fill="#2412f2"/>
<circle cx="492.80" cy="724.50" r="24.70" fill="none" stroke="#333" stroke-width="0.8"/>
<circle cx="538.50" cy="678.30" r="18.10" fill="#fff"/>
<path d="M538.50,678.30 L520.44,679.56 A18.10,18.10 0 0 1 520.40,678.30 Z" fill="#f09028"/>
<path d="M538.50,678.30 L520.40,678.30 A18.10,18.10 0 0 1 538.50,660.20 Z" fill="#44ea10"/>
<circle cx="538.50" cy="678.30" r="18.10" fill="none" stroke="#333" stroke-width="0.8"/>
<circle cx="580.00" cy="669.80" r="9.50" fill="#fff"/>
<path d="M580.00,669.80 L570.51,669.47 A9.50,9.50 0 0 1 570.59,668.48 Z" fill="#f09028"/>
<path d="M580.00,669.80 L570.59,668.48 A9.50,9.50 0 0 1 570.82,667.34 Z" fill="#f8f83c"/>
<path d="M580.00,669.80 L570.82,667.34 A9.50,9.50 0 0 1 580.00,660.30 Z" fill="#44ea10"/>
<circle cx="580.00" cy="669.80" r="9.50" fill="none" stroke="#333" stroke-width="0.8"/>
<circle cx="628.50" cy="677.30" r="17.10" fill="#fff"/>
<path d="M628.50,677.30 L613.54,685.59 A17.10,17.10 0 0 1 613.00,684.53 Z" fill="#f09028"/>
<path d="M628.50,677.30 L613.00,684.53 A17.10,17.10 0 0 1 612.43,683.15 Z" fill="#f8f83c"/>
<path d="M628.50,677.30 L612.43,683.15 A17.10,17.10 0 0 1 628.50,660.20 Z" fill="#44ea10"/>
<circle cx="628.50" cy="677.30" r="17.10" fill="none" stroke="#333" stroke-width="0.8"/>
<circle cx="538.50" cy="731.20" r="18.00" fill="#fff"/>
<path d="M538.50,731.20 L521.64,724.90 A18.00,18.00 0 0 1 522.61,722.75 Z" fill="#f09028"/>
<path d="M538.50,731.20 L522.61,722.75 A18.00,18.00 0 0 1 538.50,713.20 Z" fill="#44ea10"/>
<circle cx="538.50" cy="731.20" r="18.00" fill="none" stroke="#333" stroke-width="0.8"/>
<circle cx="579.90" cy="732.80" r="16.50" fill="#fff"/>
<path d="M579.90,732.80 L573.72,717.50 A16.50,16.50 0 0 1 575.91,716.79 Z" fill="#f09028"/>
<path d="M579.90,732.80 L575.91,716.79 A16.50,16.50 0 0 1 576.47,716.66 Z" fill="#f8f83c"/>
<path d="M579.90,732.80 L576.47,716.66 A16.50,16.50 0 0 1 579.90,716.30 Z" fill="#44ea10"/>
<circle cx="579.90" cy="732.80" r="16.50" fill="none" stroke="#333" stroke-width="0.8"/>
<circle cx="628.40" cy="722.80" r="27.00" fill="#fff"/>
<path d="M628.40,722.80 L601.81,718.11 A27.00,27.00 0 0 1 602.32,715.81 Z" fill="#f09028"/>
<path d="M628.40,722.80 L602.32,715.81 A27.00,27.00 0 0 1 628.40,695.80 Z" fill="#44ea10"/>
<circle cx="628.40" cy="722.80" r="27.00" fill="none" stroke="#333" stroke-width="0.8"/>
<circle cx="403.70" cy="779.30" r="18.20" fill="#fff"/>
<path d="M403.70,779.30 L392.25,765.16 A18.20,18.20 0 0 1 396.59,762.55 Z" fill="#f09028"/>
<path d="M403.70,779.30 L396.59,762.55 A18.20,18.20 0 0 1 397.48,762.20 Z" fill="#f8f83c"/>
<path d="M403.70,779.30 L397.48,762.20 A18.20,18.20 0 0 1 400.85,761.32 Z" fill="#44ea10"/>
<path d="M403.70,779.30 L400.85,761.32 A18.20,18.20 0 0 1 403.70,761.10 Z" fill="#66faf8"/>
<circle cx="403.70" cy="779.30" r="18.20" fill="none" stroke="#333" stroke-width="0.8"/>
<circle cx="446.20" cy="782.30" r="21.40" fill="#fff"/>
<path d="M446.20,782.30 L425.27,777.85 A21.40,21.40 0 0 1 427.67,771.60 Z" fill="#f09028"/>
<path d="M446.20,782.30 L427.67,771.60 A21.40,21.40 0 0 1 441.75,761.37 Z" fill="#f8f83c"/>
<path d="M446.20,782.30 L441.75,761.37 A21.40,21.40 0 0 1 443.22,761.11 Z" fill="#44ea10"/>
<path d="M446.20,782.30 L443.22,761.11 A21.40,21.40 0 0 1 446.20,760.90 Z" fill="#66faf8"/>
<circle cx="446.20" cy="782.30" r="21.40" fill="none" stroke="#333" stroke-width="0.8"/>
<circle cx="493.20" cy="783.60" r="23.40" fill="#fff"/>
<path d="M493.20,783.60 L476.37,767.34 A23.40,23.40 0 0 1 481.50,763.34 Z" fill="#f09028"/>
<path d="M493.20,783.60 L481.50,763.34 A23.40,23.40 0 0 1 487.14,761.00 Z" fill="#f8f83c"/>
<path d="M493.20,783.60 L487.14,761.00 A23.40,23.40 0 0 1 490.35,760.37 Z" fill="#44ea10"/>
<path d="M493.20,783.60 L490.35,760.37 A23.40,23.40 0 0 1 493.20,760.20 Z" fill="#66faf8"/>
<circle cx="493.20" cy="783.60" r="23.40" fill="none" stroke="#333" stroke-width="0.8"/>
<circle cx="404.00" cy="827.70" r="18.10" fill="#fff"/>
<path d="M404.00,827.70 L387.73,819.77 A18.10,18.10 0 0 1 390.13,816.07 Z" fill="#f09028"/>
<path d="M404.00,827.70 L390.13,816.07 A18.10,18.10 0 0 1 398.71,810.39 Z" fill="#f8f83c"/>
<path d="M404.00,827.70 L398.71,810.39 A18.10,18.10 0 0 1 403.05,809.62 Z" fill="#44ea10"/>
<path d="M404.00,827.70 L403.05,809.62 A18.10,18.10 0 0 1 404.00,809.60 Z" fill="#66faf8"/>
<circle cx="404.00" cy="827.70" r="18.10" fill="none" stroke="#333" stroke-width="0.8"/>
<circle cx="446.40" cy="829.10" r="17.10" fill="#fff"/>
<path d="M446.40,829.10 L430.66,822.42 A17.10,17.10 0 0 1 432.93,818.57 Z" fill="#f09028"/>
<path d="M446.40,829.10 L432.93,818.57 A17.10,17.10 0 0 1 440.55,813.03 Z" fill="#f8f83c"/>
<path d="M446.40,829.10 L440.55,813.03 A17.10,17.10 0 0 1 444.61,812.09 Z" fill="#44ea10"/>
<path d="M446.40,829.10 L444.61,812.09 A17.10,17.10 0 0 1 446.40,812.00 Z" fill="#66faf8"/>
<circle cx="446.40" cy="829.10" r="17.10" fill="none" stroke="#333" stroke-width="0.8"/>
<circle cx="493.20" cy="827.00" r="19.00" fill="#fff"/>
<path d="M493.20,827.00 L476.27,818.37 A19.00,19.00 0 0 1 478.65,814.79 Z" fill="#f09028"/>
<path d="M493.20,827.00 L478.65,814.79 A19.00,19.00 0 0 1 485.17,809.78 Z" fill="#f8f83c"/>
<path d="M493.20,827.00 L485.17,809.78 A19.00,19.00 0 0 1 493.20,808.00 Z" fill="#44ea10"/>
<circle cx="493.20" cy="827.00" r="19.00" fill="none" stroke="#333" stroke-width="0.8"/>
<circle cx="538.60" cy="779.20" r="18.00" fill="#fff"/>
<path d="M538.60,779.20 L522.86,770.47 A18.00,18.00 0 0 1 523.50,769.40 Z" fill="#f09028"/>
<path d="M538.60,779.20 L523.50,769.40 A18.00,18.00 0 0 1 530.43,763.16 Z" fill="#f8f83c"/>
<path d="M538.60,779.20 L530.43,763.16 A18.00,18.00 0 0 1 537.97,761.21 Z" fill="#44ea10"/>
<path d="M538.60,779.20 L537.97,761.21 A18.00,18.00 0 0 1 538.60,761.20 Z" fill="#66faf8"/>
<circle cx="538.60" cy="779.20" r="18.00" fill="none" stroke="#333" stroke-width="0.8"/>
<circle cx="579.90" cy="778.40" r="17.30" fill="#fff"/>
<path d="M579.90,778.40 L564.63,770.28 A17.30,17.30 0 0 1 565.39,768.98 Z" fill="#f09028"/>
<path d="M579.90,778.40 L565.39,768.98 A17.30,17.30 0 0 1 572.59,762.72 Z" fill="#f8f83c"/>
<path d="M579.90,778.40 L572.59,762.72 A17.30,17.30 0 0 1 578.99,761.12 Z" fill="#44ea10"/>
<path d="M579.90,778.40 L578.99,761.12 A17.30,17.30 0 0 1 579.90,761.10 Z" fill="#66faf8"/>
<circle cx="579.90" cy="778.40" r="17.30" fill="none" stroke="#333" stroke-width="0.8"/>
<circle cx="628.00" cy="780.50" r="19.40" fill="#fff"/>
<path d="M628.00,780.50 L610.87,771.39 A19.40,19.40 0 0 1 611.92,769.65 Z" fill="#f09028"/>
<path d="M628.00,780.50 L611.92,769.65 A19.40,19.40 0 0 1 619.19,763.21 Z" fill="#f8f83c"/>
<path d="M628.00,780.50 L619.19,763.21 A19.40,19.40 0 0 1 626.98,761.13 Z" fill="#44ea10"/>
<path d="M628.00,780.50 L626.98,761.13 A19.40,19.40 0 0 1 628.00,761.10 Z" fill="#66faf8"/>
<circle cx="628.00" cy="780.50" r="19.40" fill="none" stroke="#333" stroke-width="0.8"/>
<rect x="520.20" y="815.00" width="9.00" height="8.60" fill="#ffffff" stroke="#111" stroke-width="1.0"/>
<text x="530.20" y="823.60" font-size="11.91" textLength="23.60" lengthAdjust="spacingAndGlyphs" stroke="#000">m+0</text>
<rect x="556.20" y="815.00" width="9.00" height="8.60" fill="#f09028" stroke="#111" stroke-width="1.0"/>
<text x="566.20" y="823.60" font-size="11.91" textLength="23.60" lengthAdjust="spacingAndGlyphs" stroke="#000">m+1</text>
<rect x="593.00" y="815.00" width="9.00" height="8.60" fill="#f8f83c" stroke="#111" stroke-width="1.0"/>
<text x="603.00" y="823.60" font-size="11.91" textLength="23.60" lengthAdjust="spacingAndGlyphs" stroke="#000">m+2</text>
<rect x="629.00" y="815.00" width="9.00" height="8.60" fill="#44ea10" stroke="#111" stroke-width="1.0"/>
<text x="639.00" y="823.60" font-size="11.91" textLength="23.60" lengthAdjust="spacingAndGlyphs" stroke="#000">m+3</text>
<rect x="520.20" y="832.00" width="9.00" height="8.60" fill="#66faf8" stroke="#111" stroke-width="1.0"/>
<text x="530.20" y="840.60" font-size="11.91" textLength="23.60" lengthAdjust="spacingAndGlyphs" stroke="#000">m+4</text>
<rect x="556.20" y="832.00" width="9.00" height="8.60" fill="#44a2f6" stroke="#111" stroke-width="1.0"/>
<text x="566.20" y="840.60" font-size="11.91" textLength="23.60" lengthAdjust="spacingAndGlyphs" stroke="#000">m+5</text>
<rect x="593.00" y="832.00" width="9.00" height="8.60" fill="#2412f2" stroke="#111" stroke-width="1.0"/>
<text x="603.00" y="840.60" font-size="11.91" textLength="23.60" lengthAdjust="spacingAndGlyphs" stroke="#000">m+6</text>
<text x="398.30" y="859.90" font-size="13.17" textLength="93.60" lengthAdjust="spacingAndGlyphs" stroke="#000">% labeling from</text>
<text x="494.80" y="855.00" font-size="7.52" textLength="5.80" lengthAdjust="spacingAndGlyphs" stroke="#000">13</text>
<text x="500.80" y="859.90" font-size="13.17" textLength="73.50" lengthAdjust="spacingAndGlyphs" stroke="#000">C-Glucose:</text>
<line x1="398.30" y1="863.50" x2="398.30" y2="912.00" stroke="#000" stroke-width="1.0"/>
<line x1="433.30" y1="863.50" x2="433.30" y2="912.00" stroke="#000" stroke-width="1.0"/>
<line x1="468.20" y1="863.50" x2="468.20" y2="912.00" stroke="#000" stroke-width="1.0"/>
<line x1="502.80" y1="863.50" x2="502.80" y2="912.00" stroke="#000" stroke-width="1.0"/>
<line x1="539.20" y1="863.50" x2="539.20" y2="912.00" stroke="#000" stroke-width="1.0"/>
<line x1="574.30" y1="863.50" x2="574.30" y2="912.00" stroke="#000" stroke-width="1.0"/>
<line x1="610.20" y1="863.50" x2="610.20" y2="912.00" stroke="#000" stroke-width="1.0"/>
<line x1="645.80" y1="863.50" x2="645.80" y2="912.00" stroke="#000" stroke-width="1.0"/>
<line x1="397.80" y1="863.50" x2="646.30" y2="863.50" stroke="#000" stroke-width="1.0"/>
<line x1="397.80" y1="876.30" x2="646.30" y2="876.30" stroke="#000" stroke-width="1.0"/>
<line x1="397.80" y1="888.60" x2="646.30" y2="888.60" stroke="#000" stroke-width="1.0"/>
<line x1="397.80" y1="900.30" x2="646.30" y2="900.30" stroke="#000" stroke-width="1.0"/>
<line x1="397.80" y1="912.00" x2="646.30" y2="912.00" stroke="#000" stroke-width="1.0"/>
<text x="415.80" y="873.60" font-size="10.55" text-anchor="middle" textLength="20.21" lengthAdjust="spacingAndGlyphs" stroke="#000">G6P</text>
<text x="415.80" y="886.10" font-size="10.55" text-anchor="middle" textLength="19.66" lengthAdjust="spacingAndGlyphs" stroke="#000">29.4</text>
<text x="415.80" y="898.40" font-size="10.55" text-anchor="middle" textLength="19.66" lengthAdjust="spacingAndGlyphs" stroke="#000">12.4</text>
<text x="415.80" y="910.10" font-size="10.55" text-anchor="middle" textLength="19.66" lengthAdjust="spacingAndGlyphs" stroke="#000">37.0</text>
<text x="450.75" y="873.60" font-size="10.55" text-anchor="middle" textLength="20.20" lengthAdjust="spacingAndGlyphs" stroke="#000">FBP</text>
<text x="450.75" y="886.10" font-size="10.55" text-anchor="middle" textLength="19.66" lengthAdjust="spacingAndGlyphs" stroke="#000">32.3</text>
<text x="450.75" y="898.40" font-size="10.55" text-anchor="middle" textLength="19.66" lengthAdjust="spacingAndGlyphs" stroke="#000">21.6</text>
<text x="450.75" y="910.10" font-size="10.55" text-anchor="middle" textLength="19.66" lengthAdjust="spacingAndGlyphs" stroke="#000">30.7</text>
<text x="485.50" y="873.60" font-size="10.55" text-anchor="middle" textLength="23.57" lengthAdjust="spacingAndGlyphs" stroke="#000">2-PG</text>
<text x="485.50" y="886.10" font-size="10.55" text-anchor="middle" textLength="19.66" lengthAdjust="spacingAndGlyphs" stroke="#000">25.2</text>
<text x="485.50" y="898.40" font-size="10.55" text-anchor="middle" textLength="19.66" lengthAdjust="spacingAndGlyphs" stroke="#000">24.4</text>
<text x="485.50" y="910.10" font-size="10.55" text-anchor="middle" textLength="11.23" lengthAdjust="spacingAndGlyphs" stroke="#000">33</text>
<text x="521.00" y="873.60" font-size="10.55" text-anchor="middle" textLength="20.77" lengthAdjust="spacingAndGlyphs" stroke="#000">PYR</text>
<text x="521.00" y="886.10" font-size="10.55" text-anchor="middle" textLength="19.66" lengthAdjust="spacingAndGlyphs" stroke="#000">19.3</text>
<text x="521.00" y="898.40" font-size="10.55" text-anchor="middle" textLength="14.04" lengthAdjust="spacingAndGlyphs" stroke="#000">6.0</text>
<text x="521.00" y="910.10" font-size="10.55" text-anchor="middle" textLength="19.66" lengthAdjust="spacingAndGlyphs" stroke="#000">21.7</text>
<text x="556.75" y="873.60" font-size="10.55" text-anchor="middle" textLength="28.62" lengthAdjust="spacingAndGlyphs" stroke="#000">SUCC</text>
<text x="556.75" y="886.10" font-size="10.55" text-anchor="middle" textLength="19.66" lengthAdjust="spacingAndGlyphs" stroke="#000">10.8</text>
<text x="556.75" y="898.40" font-size="10.55" text-anchor="middle" textLength="19.66" lengthAdjust="spacingAndGlyphs" stroke="#000">21.8</text>
<text x="556.75" y="910.10" font-size="10.55" text-anchor="middle" textLength="19.66" lengthAdjust="spacingAndGlyphs" stroke="#000">12.8</text>
<text x="592.25" y="873.60" font-size="10.55" text-anchor="middle" textLength="21.88" lengthAdjust="spacingAndGlyphs" stroke="#000">FUM</text>
<text x="592.25" y="886.10" font-size="10.55" text-anchor="middle" textLength="19.66" lengthAdjust="spacingAndGlyphs" stroke="#000">17.8</text>
<text x="592.25" y="898.40" font-size="10.55" text-anchor="middle" textLength="19.66" lengthAdjust="spacingAndGlyphs" stroke="#000">18.5</text>
<text x="592.25" y="910.10" font-size="10.55" text-anchor="middle" textLength="19.66" lengthAdjust="spacingAndGlyphs" stroke="#000">17.5</text>
<text x="628.00" y="873.60" font-size="10.55" text-anchor="middle" textLength="21.88" lengthAdjust="spacingAndGlyphs" stroke="#000">MAL</text>
<text x="628.00" y="886.10" font-size="10.55" text-anchor="middle" textLength="19.66" lengthAdjust="spacingAndGlyphs" stroke="#000">16.4</text>
<text x="628.00" y="898.40" font-size="10.55" text-anchor="middle" textLength="19.66" lengthAdjust="spacingAndGlyphs" stroke="#000">17.3</text>
<text x="628.00" y="910.10" font-size="10.55" text-anchor="middle" textLength="19.66" lengthAdjust="spacingAndGlyphs" stroke="#000">16.7</text>
<text x="350.50" y="887.80" font-size="11.29" textLength="15.20" lengthAdjust="spacingAndGlyphs" stroke="#000">WT</text>
<text x="350.00" y="899.20" font-size="11.29" textLength="45.70" lengthAdjust="spacingAndGlyphs" stroke="#000">GYG1 KO</text>
<text x="350.00" y="910.90" font-size="11.29" textLength="45.70" lengthAdjust="spacingAndGlyphs" stroke="#000">GYG2 KO</text>
</svg>
</body></html>
